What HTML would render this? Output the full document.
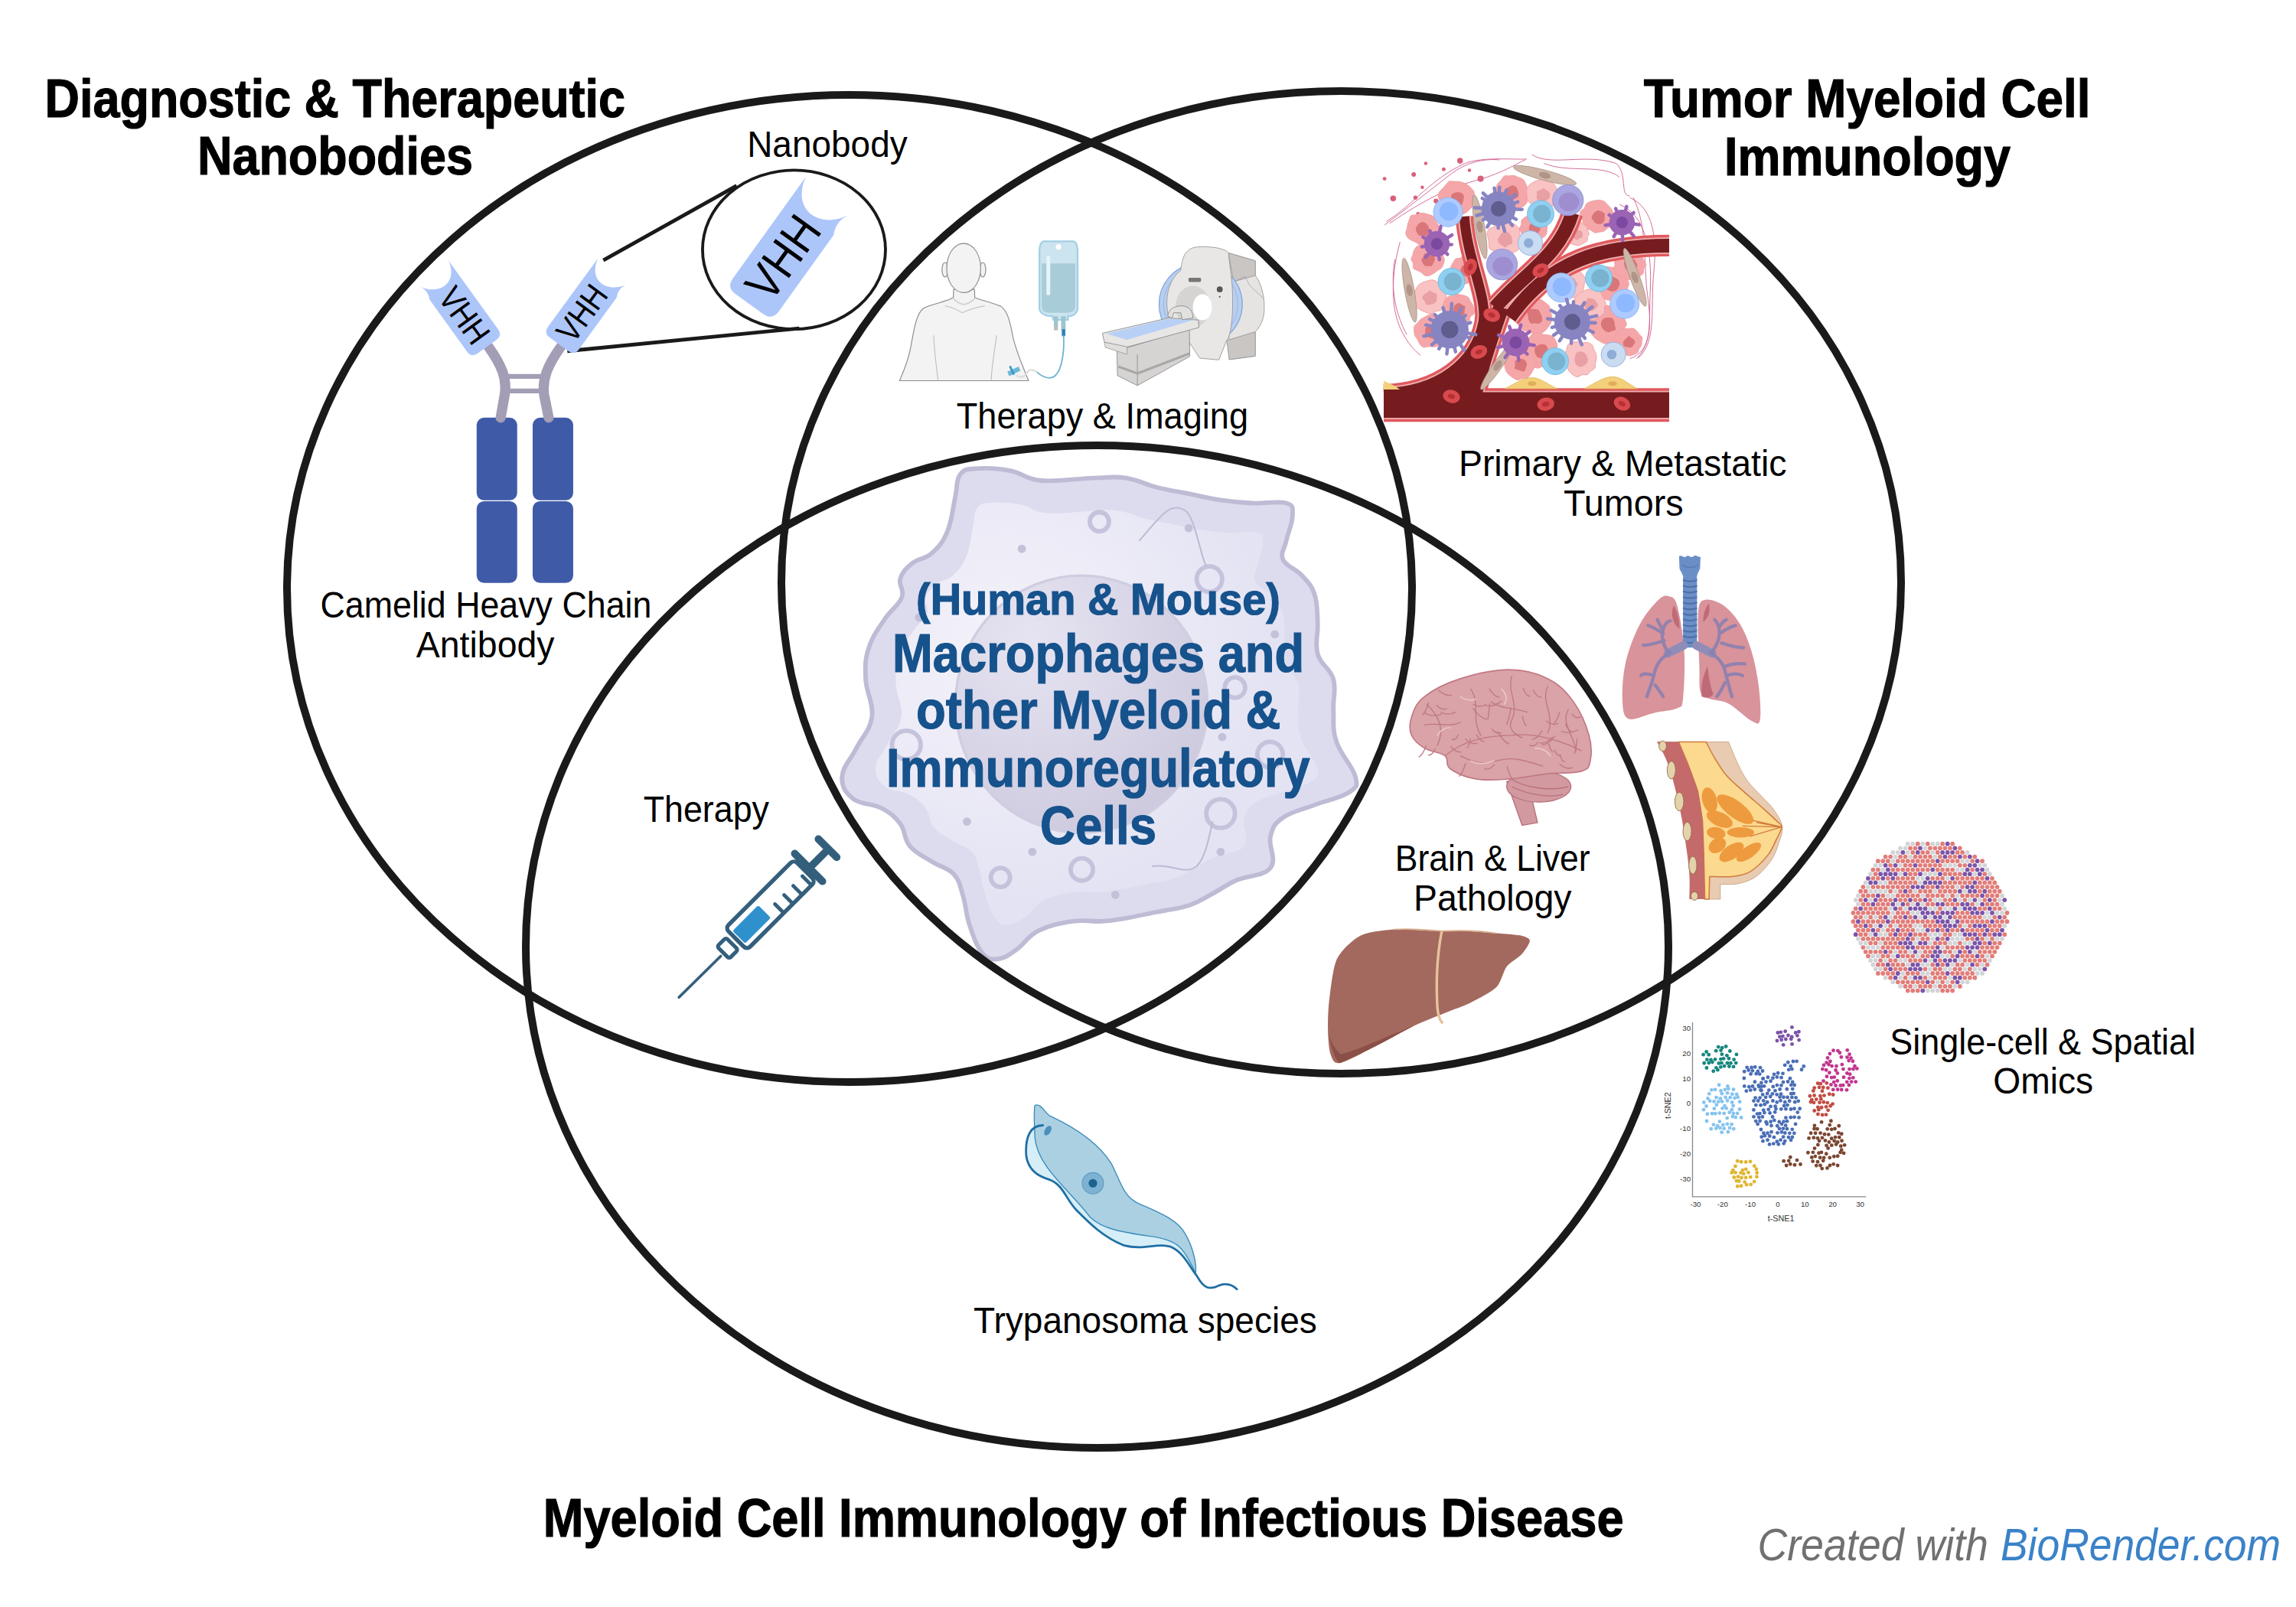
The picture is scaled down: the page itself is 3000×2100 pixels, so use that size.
<!DOCTYPE html>
<html><head><meta charset="utf-8">
<style>
html,body{margin:0;padding:0;background:#fff;width:3000px;height:2100px;overflow:hidden}
svg{position:absolute;left:0;top:0;display:block}
text{font-family:"Liberation Sans",sans-serif}
.b{font-weight:bold;stroke-width:1.2px}
</style></head>
<body>
<svg width="3000" height="2100" viewBox="0 0 3000 2100">
<rect width="3000" height="2100" fill="#fff"/>

<!-- ILLUSTRATIONS -->
<g id="illus">
<!--ILLUS_START-->
<g transform="translate(1080,590) scale(0.41691)"><path d="M467.5,53.5 C499.0,50.9 534.9,52.5 575.7,60.0 C616.5,67.5 618.8,86.5 671.6,91.1 C724.4,95.7 786.2,84.6 839.5,83.0 C892.8,81.4 898.7,77.1 938.1,83.0 C977.5,88.9 997.3,102.8 1036.7,112.7 C1076.1,122.6 1095.6,124.5 1135.0,132.4 C1174.4,140.3 1194.2,146.2 1233.6,152.1 C1273.0,158.0 1290.8,159.9 1332.2,161.9 C1373.6,163.9 1415.0,154.0 1440.6,161.9 C1466.2,169.8 1460.3,177.5 1460.3,201.2 C1460.3,224.9 1446.5,252.6 1440.6,280.2 C1434.7,307.8 1421.0,317.7 1430.8,339.4 C1440.6,361.1 1470.1,367.0 1489.8,388.6 C1509.5,410.2 1519.4,418.1 1529.3,447.6 C1539.2,477.1 1537.2,498.8 1539.2,536.3 C1541.2,573.8 1529.4,599.4 1539.2,634.9 C1549.0,670.4 1578.6,678.3 1588.4,713.8 C1598.2,749.3 1586.4,772.8 1588.4,812.2 C1590.4,851.6 1584.4,869.3 1598.2,910.7 C1612.0,952.1 1649.5,987.7 1657.4,1019.2 C1665.3,1050.7 1663.1,1050.6 1637.5,1068.3 C1611.9,1086.0 1570.6,1092.1 1529.3,1107.9 C1488.0,1123.7 1458.4,1127.6 1430.8,1147.3 C1403.2,1167.0 1399.1,1175.0 1391.2,1206.5 C1383.3,1238.0 1412.8,1277.2 1391.2,1304.8 C1369.6,1332.4 1318.5,1328.6 1283.0,1344.4 C1247.5,1360.2 1243.5,1368.1 1213.9,1383.8 C1184.3,1399.5 1170.4,1411.3 1135.0,1423.1 C1099.6,1434.9 1076.1,1435.1 1036.7,1443.0 C997.3,1450.9 972.7,1456.8 938.1,1462.7 C903.5,1468.6 896.6,1470.5 863.5,1472.5 C830.4,1474.5 812.6,1466.6 772.8,1472.5 C733.0,1478.4 699.8,1484.3 664.4,1502.0 C629.0,1519.7 621.2,1543.2 595.6,1561.0 C570.0,1578.8 558.0,1588.8 536.3,1590.8 C514.6,1592.8 504.9,1592.8 487.2,1571.1 C469.5,1549.4 459.5,1517.8 447.6,1482.3 C435.7,1446.8 437.7,1425.2 427.9,1393.6 C418.1,1362.0 418.1,1346.2 398.4,1324.5 C378.7,1302.8 356.9,1302.9 329.3,1285.2 C301.7,1267.5 280.2,1259.7 260.5,1236.0 C240.8,1212.3 248.8,1190.6 231.0,1166.9 C213.2,1143.2 201.3,1133.4 171.7,1117.7 C142.1,1102.0 107.6,1107.9 83.0,1088.2 C58.4,1068.5 46.7,1050.8 48.7,1019.2 C50.7,987.6 74.4,967.8 93.1,930.4 C111.8,893.0 136.3,875.4 142.2,832.1 C148.1,788.8 124.6,757.2 122.6,713.8 C120.6,670.4 120.6,652.7 132.4,615.2 C144.2,577.7 160.9,558.0 181.6,526.5 C202.3,495.0 225.9,483.3 235.8,457.7 C245.7,432.1 224.1,420.1 231.0,398.4 C237.9,376.7 250.6,365.0 270.3,349.2 C290.0,333.4 307.6,339.2 329.3,319.5 C351.0,299.8 363.9,286.2 378.7,250.7 C393.5,215.2 395.5,177.7 403.4,142.2 C411.3,106.7 405.3,90.9 418.1,73.2 C430.9,55.5 436.0,56.1 467.5,53.5Z" fill="#dddcef" stroke="#bebbd5" stroke-width="14"/><path d="M514.0,160.8 C541.2,158.5 572.0,159.9 607.1,166.4 C642.2,172.9 644.2,189.2 689.6,193.1 C734.9,197.1 788.1,187.6 834.0,186.2 C879.8,184.8 884.8,181.1 918.8,186.2 C952.7,191.3 969.7,203.2 1003.6,211.7 C1037.4,220.2 1054.2,221.9 1088.1,228.7 C1122.0,235.4 1139.0,240.5 1172.9,245.6 C1206.8,250.7 1222.1,252.3 1257.7,254.0 C1293.3,255.7 1328.9,247.3 1350.9,254.0 C1372.9,260.8 1367.9,267.5 1367.9,287.8 C1367.9,308.2 1356.0,332.0 1350.9,355.8 C1345.8,379.5 1334.0,388.0 1342.5,406.7 C1351.0,425.3 1376.3,430.4 1393.2,449.0 C1410.2,467.6 1418.7,474.3 1427.2,499.7 C1435.7,525.1 1434.0,543.8 1435.7,576.0 C1437.4,608.2 1427.2,630.3 1435.7,660.8 C1444.2,691.3 1469.6,698.2 1478.0,728.7 C1486.5,759.2 1476.3,779.4 1478.0,813.3 C1479.7,847.2 1474.6,862.4 1486.5,898.0 C1498.3,933.6 1530.6,964.2 1537.4,991.3 C1544.1,1018.4 1542.3,1018.3 1520.2,1033.5 C1498.2,1048.8 1462.8,1054.0 1427.2,1067.6 C1391.6,1081.2 1366.2,1084.5 1342.5,1101.5 C1318.7,1118.4 1315.2,1125.3 1308.4,1152.4 C1301.6,1179.5 1327.0,1213.2 1308.4,1236.9 C1289.8,1260.6 1245.9,1257.4 1215.4,1271.0 C1184.9,1284.6 1181.4,1291.3 1156.0,1304.9 C1130.5,1318.4 1118.6,1328.5 1088.1,1338.7 C1057.6,1348.8 1037.4,1349.0 1003.6,1355.8 C969.7,1362.6 948.6,1367.6 918.8,1372.7 C889.0,1377.8 883.0,1379.5 854.6,1381.2 C826.2,1382.8 810.9,1376.1 776.6,1381.2 C742.4,1386.2 713.9,1391.3 683.4,1406.5 C652.9,1421.7 646.2,1442.0 624.2,1457.3 C602.2,1472.5 591.9,1481.2 573.2,1482.9 C554.6,1484.6 546.2,1484.6 531.0,1465.9 C515.7,1447.3 507.1,1420.1 496.9,1389.6 C486.7,1359.0 488.5,1340.4 480.0,1313.3 C471.5,1286.2 471.6,1272.5 454.6,1253.9 C437.7,1235.2 418.9,1235.3 395.2,1220.1 C371.5,1204.9 352.9,1198.1 336.0,1177.8 C319.1,1157.4 325.9,1138.7 310.7,1118.3 C295.4,1098.0 285.1,1089.6 259.7,1076.0 C234.2,1062.5 204.5,1067.6 183.4,1050.7 C162.2,1033.7 152.1,1018.5 153.9,991.3 C155.6,964.2 176.0,947.1 192.1,914.9 C208.1,882.8 229.2,867.7 234.3,830.4 C239.4,793.2 219.1,766.0 217.4,728.7 C215.8,691.4 215.7,676.1 225.9,643.9 C236.0,611.7 250.4,594.7 268.2,567.6 C286.0,540.5 306.3,530.5 314.8,508.4 C323.3,486.4 304.7,476.1 310.7,457.4 C316.6,438.8 327.6,428.7 344.5,415.1 C361.4,401.5 376.6,406.5 395.2,389.6 C413.8,372.6 424.9,360.9 437.7,330.4 C450.4,299.9 452.1,267.6 458.9,237.1 C465.7,206.6 460.5,193.0 471.6,177.8 C482.6,162.5 486.9,163.1 514.0,160.8Z" fill="#e4e3f3"/><defs><radialGradient id="nuc" cx="0.3" cy="0.25" r="0.85"><stop offset="0" stop-color="#e6e4f1"/><stop offset="0.55" stop-color="#d8d5e7"/><stop offset="1" stop-color="#ccc9de"/></radialGradient><radialGradient id="cellhl" cx="0.3" cy="0.35" r="0.6"><stop offset="0" stop-color="#f4f3fa"/><stop offset="1" stop-color="#f4f3fa" stop-opacity="0"/></radialGradient></defs><path d="M514.0,160.8 C541.2,158.5 572.0,159.9 607.1,166.4 C642.2,172.9 644.2,189.2 689.6,193.1 C734.9,197.1 788.1,187.6 834.0,186.2 C879.8,184.8 884.8,181.1 918.8,186.2 C952.7,191.3 969.7,203.2 1003.6,211.7 C1037.4,220.2 1054.2,221.9 1088.1,228.7 C1122.0,235.4 1139.0,240.5 1172.9,245.6 C1206.8,250.7 1222.1,252.3 1257.7,254.0 C1293.3,255.7 1328.9,247.3 1350.9,254.0 C1372.9,260.8 1367.9,267.5 1367.9,287.8 C1367.9,308.2 1356.0,332.0 1350.9,355.8 C1345.8,379.5 1334.0,388.0 1342.5,406.7 C1351.0,425.3 1376.3,430.4 1393.2,449.0 C1410.2,467.6 1418.7,474.3 1427.2,499.7 C1435.7,525.1 1434.0,543.8 1435.7,576.0 C1437.4,608.2 1427.2,630.3 1435.7,660.8 C1444.2,691.3 1469.6,698.2 1478.0,728.7 C1486.5,759.2 1476.3,779.4 1478.0,813.3 C1479.7,847.2 1474.6,862.4 1486.5,898.0 C1498.3,933.6 1530.6,964.2 1537.4,991.3 C1544.1,1018.4 1542.3,1018.3 1520.2,1033.5 C1498.2,1048.8 1462.8,1054.0 1427.2,1067.6 C1391.6,1081.2 1366.2,1084.5 1342.5,1101.5 C1318.7,1118.4 1315.2,1125.3 1308.4,1152.4 C1301.6,1179.5 1327.0,1213.2 1308.4,1236.9 C1289.8,1260.6 1245.9,1257.4 1215.4,1271.0 C1184.9,1284.6 1181.4,1291.3 1156.0,1304.9 C1130.5,1318.4 1118.6,1328.5 1088.1,1338.7 C1057.6,1348.8 1037.4,1349.0 1003.6,1355.8 C969.7,1362.6 948.6,1367.6 918.8,1372.7 C889.0,1377.8 883.0,1379.5 854.6,1381.2 C826.2,1382.8 810.9,1376.1 776.6,1381.2 C742.4,1386.2 713.9,1391.3 683.4,1406.5 C652.9,1421.7 646.2,1442.0 624.2,1457.3 C602.2,1472.5 591.9,1481.2 573.2,1482.9 C554.6,1484.6 546.2,1484.6 531.0,1465.9 C515.7,1447.3 507.1,1420.1 496.9,1389.6 C486.7,1359.0 488.5,1340.4 480.0,1313.3 C471.5,1286.2 471.6,1272.5 454.6,1253.9 C437.7,1235.2 418.9,1235.3 395.2,1220.1 C371.5,1204.9 352.9,1198.1 336.0,1177.8 C319.1,1157.4 325.9,1138.7 310.7,1118.3 C295.4,1098.0 285.1,1089.6 259.7,1076.0 C234.2,1062.5 204.5,1067.6 183.4,1050.7 C162.2,1033.7 152.1,1018.5 153.9,991.3 C155.6,964.2 176.0,947.1 192.1,914.9 C208.1,882.8 229.2,867.7 234.3,830.4 C239.4,793.2 219.1,766.0 217.4,728.7 C215.8,691.4 215.7,676.1 225.9,643.9 C236.0,611.7 250.4,594.7 268.2,567.6 C286.0,540.5 306.3,530.5 314.8,508.4 C323.3,486.4 304.7,476.1 310.7,457.4 C316.6,438.8 327.6,428.7 344.5,415.1 C361.4,401.5 376.6,406.5 395.2,389.6 C413.8,372.6 424.9,360.9 437.7,330.4 C450.4,299.9 452.1,267.6 458.9,237.1 C465.7,206.6 460.5,193.0 471.6,177.8 C482.6,162.5 486.9,163.1 514.0,160.8Z" fill="url(#cellhl)"/><ellipse cx="799" cy="792" rx="395" ry="403" fill="url(#nuc)" stroke="#cfcde0" stroke-width="8"/><circle cx="855" cy="220" r="30" fill="none" stroke="#c5c3dc" stroke-width="14"/><circle cx="1200" cy="400" r="40" fill="none" stroke="#c5c3dc" stroke-width="14"/><circle cx="1280" cy="740" r="32" fill="none" stroke="#c5c3dc" stroke-width="14"/><circle cx="250" cy="920" r="45" fill="none" stroke="#c5c3dc" stroke-width="14"/><circle cx="1390" cy="950" r="40" fill="none" stroke="#c5c3dc" stroke-width="14"/><circle cx="1235" cy="1135" r="45" fill="none" stroke="#c5c3dc" stroke-width="14"/><circle cx="800" cy="1310" r="35" fill="none" stroke="#c5c3dc" stroke-width="14"/><circle cx="545" cy="1335" r="30" fill="none" stroke="#c5c3dc" stroke-width="14"/><circle cx="612" cy="305" r="13" fill="#c3c1d9"/><circle cx="1135" cy="240" r="13" fill="#c3c1d9"/><circle cx="1405" cy="573" r="13" fill="#c3c1d9"/><circle cx="1240" cy="895" r="13" fill="#c3c1d9"/><circle cx="440" cy="1160" r="13" fill="#c3c1d9"/><circle cx="645" cy="1255" r="13" fill="#c3c1d9"/><circle cx="905" cy="1390" r="13" fill="#c3c1d9"/><circle cx="1235" cy="1255" r="13" fill="#c3c1d9"/><circle cx="290" cy="520" r="13" fill="#c3c1d9"/><path d="M980,280 C1050,200 1080,150 1130,190 C1160,230 1170,320 1190,360" fill="none" stroke="#bebbd4" stroke-width="5"/><path d="M1020,1300 C1080,1290 1120,1330 1160,1300 C1190,1270 1200,1200 1210,1160" fill="none" stroke="#bebbd4" stroke-width="5"/></g>
<g transform="translate(520,220) scale(0.34847)"><rect x="295" y="935" width="152" height="310" rx="28" fill="#3f5ba8"/><rect x="295" y="1248" width="152" height="307" rx="28" fill="#3f5ba8"/><rect x="505" y="935" width="152" height="310" rx="28" fill="#3f5ba8"/><rect x="505" y="1248" width="152" height="307" rx="28" fill="#3f5ba8"/><path d="M340,670 C390,740 410,790 400,850 L385,935" fill="none" stroke="#a39db5" stroke-width="38" stroke-linecap="round"/><path d="M610,670 C560,740 540,790 548,850 L565,935" fill="none" stroke="#a39db5" stroke-width="38" stroke-linecap="round"/><path d="M400,780 L545,780 M400,835 L545,835" stroke="#a39db5" stroke-width="18"/><path d="M770,345 L1270,65 M635,685 L1505,600" stroke="#1a1a1a" stroke-width="14"/><ellipse cx="1485" cy="305" rx="343" ry="298" fill="none" stroke="#1a1a1a" stroke-width="11"/></g>
<g transform="translate(601,404) rotate(-35.8)"><path transform="scale(-1,1)" d="M-25.0,-60.5 C-18.8,-29.5 11.2,-29.5 25.0,-54.5 C20.0,-45.5 22.5,-38.0 25.0,-33.0 L25.0,50.5 Q25.0,60.5 15.0,60.5 L-15.0,60.5 Q-25.0,60.5 -25.0,50.5 Z" fill="#adc6fa"/><text transform="translate(0,10) rotate(90)" x="0" y="15.4" font-size="44" text-anchor="middle" textLength="80" lengthAdjust="spacingAndGlyphs" fill="#000">VHH</text></g><g transform="translate(766,401) rotate(36.1)"><path transform="scale(1,1)" d="M-25.0,-60.5 C-18.8,-29.5 11.2,-29.5 25.0,-54.5 C20.0,-45.5 22.5,-38.0 25.0,-33.0 L25.0,50.5 Q25.0,60.5 15.0,60.5 L-15.0,60.5 Q-25.0,60.5 -25.0,50.5 Z" fill="#adc6fa"/><text transform="translate(0,10) rotate(-90)" x="0" y="15.4" font-size="44" text-anchor="middle" textLength="80" lengthAdjust="spacingAndGlyphs" fill="#000">VHH</text></g><g transform="translate(1031,325) rotate(35.7)"><path transform="scale(1,1)" d="M-37.0,-89.0 C-27.8,-43.1 16.7,-43.1 37.0,-80.1 C29.6,-66.8 33.3,-55.7 37.0,-48.3 L37.0,74.2 Q37.0,89.0 22.2,89.0 L-22.2,89.0 Q-37.0,89.0 -37.0,74.2 Z" fill="#adc6fa"/><text transform="translate(0,14) rotate(-90)" x="0" y="22.4" font-size="64" text-anchor="middle" textLength="118" lengthAdjust="spacingAndGlyphs" fill="#000">VHH</text></g><g transform="translate(1160,300) scale(0.22648)"><path d="M380,345 L378,392 C340,418 250,428 205,455 C160,490 150,590 130,690 C112,775 85,830 68,872 L812,872 C785,800 745,720 722,620 C705,525 690,470 652,442 C600,420 530,405 502,393 L500,345 Z" fill="#f3f3f3" stroke="#8a8a8a" stroke-width="5"/><ellipse cx="330" cy="232" rx="17" ry="42" fill="#f3f3f3" stroke="#8a8a8a" stroke-width="5"/><ellipse cx="548" cy="232" rx="17" ry="42" fill="#f3f3f3" stroke="#8a8a8a" stroke-width="5"/><ellipse cx="438" cy="222" rx="98" ry="142" fill="#f3f3f3" stroke="#8a8a8a" stroke-width="5"/><path d="M265,610 C268,700 282,800 290,872 M628,610 C615,700 600,800 596,872 M330,440 C380,450 410,470 430,480 C450,470 500,450 560,440" fill="none" stroke="#b0b0b0" stroke-width="4"/><path d="M380,400 C400,420 420,430 438,432 C460,430 480,418 500,400" fill="none" stroke="#d0d0d0" stroke-width="8"/><path d="M900,68 L1070,68 C1090,70 1095,95 1095,130 L1095,440 C1100,470 1080,500 1040,500 L1040,520 L955,520 L950,500 C890,500 870,470 875,440 L875,130 C875,95 880,70 900,68 Z" fill="#cbe4ef" stroke="#a4cfe3" stroke-width="10"/><path d="M888,195 L1082,195 L1082,440 C1082,470 1060,480 1030,480 L940,480 C905,480 888,470 888,440 Z" fill="#a8cdd8"/><rect x="915" y="150" width="22" height="230" rx="11" fill="#e6f3f8"/><circle cx="985" cy="100" r="16" fill="#fff"/><rect x="958" y="500" width="24" height="80" fill="#9ec5d0"/><rect x="1000" y="500" width="26" height="80" fill="#9ec5d0"/><rect x="958" y="555" width="22" height="25" fill="#bdbdbd"/><rect x="1004" y="575" width="20" height="40" fill="#2a82b8"/><path d="M1014,610 C1020,700 1005,845 940,855 C905,860 880,840 860,822" fill="none" stroke="#6fb4d0" stroke-width="8"/><path d="M860,822 C830,800 810,810 800,830 C790,850 760,860 740,840" fill="none" stroke="#ddd" stroke-width="10"/><path d="M690,820 L755,790 L765,815 L700,845 Z" fill="#6ab8d8"/><rect x="710" y="785" width="12" height="55" fill="#3e98c8" transform="rotate(-25 716 812)"/><path d="M1965,135 L2120,180 L2120,265 C2150,300 2175,380 2172,460 C2170,520 2150,560 2120,590 L2120,730 L1970,750 Z" fill="#e6e4e3" stroke="#9a9898" stroke-width="4"/><path d="M1965,135 L2120,180 L2120,265 L1995,300 Z" fill="#c9c6c4" stroke="#9a9898" stroke-width="4"/><path d="M1955,640 L2120,590 L2120,730 L1970,750 Z" fill="#c9c6c4" stroke="#9a9898" stroke-width="4"/><path d="M2000,300 L2060,270 L2090,325 L2170,400" fill="none" stroke="#9a9898" stroke-width="3"/><ellipse cx="1805" cy="430" rx="240" ry="237" fill="#b9cff0" stroke="#86a8dc" stroke-width="6"/><ellipse cx="1805" cy="430" rx="215" ry="212" fill="none" stroke="#86a8dc" stroke-width="3"/><path d="M1690,235 C1700,150 1720,105 1790,100 C1870,95 1950,110 1965,135 L1985,300 C1995,420 1990,600 1955,640 L1910,752 L1800,742 L1740,652 C1650,625 1610,520 1610,420 C1610,330 1650,265 1690,235 Z" fill="#e9e7e6" stroke="#9a9898" stroke-width="4"/><ellipse cx="1760" cy="445" rx="100" ry="120" fill="#d6d4d3"/><ellipse cx="1815" cy="448" rx="55" ry="75" fill="#fff"/><rect x="1735" y="278" width="72" height="24" rx="6" fill="#777"/><circle cx="1915" cy="345" r="17" fill="#555"/><circle cx="1915" cy="388" r="5" fill="#555"/><path d="M1322,700 L1740,572 L1742,732 L1440,900 L1325,842 Z" fill="#d6d4d3" stroke="#8c8c8c" stroke-width="4"/><path d="M1440,720 L1440,900" stroke="#8c8c8c" stroke-width="4"/><path d="M1330,790 L1440,830 L1740,715" fill="none" stroke="#a8a8a8" stroke-width="14"/><path d="M1238,598 L1620,510 L1792,522 L1795,565 L1380,678 L1250,650 Z" fill="#e8e6e5" stroke="#8c8c8c" stroke-width="4"/><path d="M1260,600 L1620,515 L1770,520 L1380,636 Z" fill="#b8d0f5"/><path d="M1250,650 L1380,676 L1380,720 L1255,680 Z" fill="#e0dedd" stroke="#8c8c8c" stroke-width="3"/><path d="M1615,500 C1620,460 1650,440 1700,440 C1740,445 1760,470 1760,510 L1700,520 L1690,480 L1650,480 L1640,512 Z" fill="#e3e1e0" stroke="#8c8c8c" stroke-width="4"/></g>
<g transform="translate(2100,700) scale(0.3048)"><path d="M265.0,260.0 C278.3,264.2 289.2,261.7 300.0,300.0 C310.8,338.3 325.8,423.3 330.0,490.0 C334.2,556.7 330.0,658.3 325.0,700.0 C320.0,741.7 320.8,730.0 300.0,740.0 C279.2,750.0 235.0,752.5 200.0,760.0 C165.0,767.5 112.5,795.0 90.0,785.0 C67.5,775.0 66.7,740.8 65.0,700.0 C63.3,659.2 67.5,593.3 80.0,540.0 C92.5,486.7 116.7,424.2 140.0,380.0 C163.3,335.8 199.2,295.0 220.0,275.0 C240.8,255.0 251.7,255.8 265.0,260.0Z" fill="#d9939b"/><path d="M420.0,275.0 C438.3,270.0 475.0,282.5 500.0,300.0 C525.0,317.5 550.0,346.7 570.0,380.0 C590.0,413.3 606.7,455.0 620.0,500.0 C633.3,545.0 644.2,601.7 650.0,650.0 C655.8,698.3 660.0,765.8 655.0,790.0 C650.0,814.2 642.5,806.7 620.0,795.0 C597.5,783.3 550.0,735.8 520.0,720.0 C490.0,704.2 460.0,708.3 440.0,700.0 C420.0,691.7 407.5,693.3 400.0,670.0 C392.5,646.7 396.7,616.7 395.0,560.0 C393.3,503.3 385.8,377.5 390.0,330.0 C394.2,282.5 401.7,280.0 420.0,275.0Z" fill="#d9939b"/><path d="M285,300 C300,320 310,360 310,400 C280,380 270,330 285,300 Z" fill="#c06a78"/><path d="M435,290 C420,310 410,340 412,370 C435,350 445,320 435,290 Z" fill="#c06a78"/><path d="M430,560 C410,600 400,650 405,690 C430,700 450,690 455,680 C440,640 435,600 430,560 Z" fill="#c06a78"/><path d="M308,88 C320,80 330,100 340,88 C350,80 360,100 370,88 C380,80 392,95 400,90 L398,140 C390,160 385,165 385,175 L325,175 C325,165 315,155 310,140 Z" fill="#6a8ec6"/><path d="M322,125 C340,140 370,140 390,125" fill="none" stroke="#5a7cb6" stroke-width="5"/><rect x="325" y="170" width="60" height="310" rx="12" fill="#6a8ec6"/><path d="M325,190 C340,198 370,198 385,190 M325,214 C340,222 370,222 385,214 M325,238 C340,246 370,246 385,238 M325,262 C340,270 370,270 385,262 M325,286 C340,294 370,294 385,286 M325,310 C340,318 370,318 385,310 M325,334 C340,342 370,342 385,334 M325,358 C340,366 370,366 385,358 M325,382 C340,390 370,390 385,382 M325,406 C340,414 370,414 385,406 M325,430 C340,438 370,438 385,430 M325,454 C340,462 370,462 385,454" fill="none" stroke="#4f6fa8" stroke-width="7"/><path d="M328,470 L260,505 M382,470 L450,505" stroke="#8f8db8" stroke-width="36" stroke-linecap="round"/><g fill="none" stroke="#8b80b0" stroke-width="14" stroke-linecap="round" opacity="0.9"><path d="M270,500 C240,520 210,540 200,600 C190,640 180,660 170,690 M200,600 C170,590 150,590 145,600 M205,640 C220,660 235,680 240,690 M265,505 C240,470 230,440 240,400 C245,380 255,370 270,365 M240,420 C210,400 190,390 175,385 M245,450 C210,460 180,470 155,470 M235,400 C225,380 220,370 215,360"/><path d="M440,500 C470,520 500,540 510,600 C520,640 525,660 535,690 M510,600 C540,590 565,590 580,600 M505,630 C490,660 480,680 470,690 M445,505 C470,470 485,440 480,400 C478,380 470,370 460,360 M482,420 C510,400 530,390 550,385 M490,460 C520,470 560,480 585,480 M478,395 C490,375 500,365 510,360 M505,560 C530,550 560,545 590,550"/></g><path d="M214.4,884.4 L520.7,884.4 C527.5,900.6 548.0,953.3 561.6,981.4 C575.2,1009.5 585.4,1029.9 602.4,1052.9 C619.4,1075.9 645.0,1098.8 663.7,1119.2 C682.4,1139.6 700.2,1154.1 714.7,1175.4 C729.2,1196.7 747.1,1223.1 750.5,1246.9 C753.9,1270.7 742.8,1294.5 735.1,1318.3 C727.4,1342.1 720.7,1366.0 704.5,1389.8 C688.3,1413.6 661.9,1444.3 638.1,1461.3 C614.3,1478.3 587.1,1486.4 561.6,1491.9 C536.1,1497.4 497.8,1494.0 485.0,1494.4 L485,1558.3 L418.6,1558.3 L306.3,884.4 Z" fill="#e8cbb0" stroke="#c9a585" stroke-width="3"/><path d="M306.3,884.4 L423.7,884.4 C429.7,895.5 445.0,927.0 459.5,950.8 C474.0,974.6 489.2,1002.6 510.5,1027.3 C531.8,1052.0 561.5,1075.8 587.0,1098.8 C612.5,1121.8 639.9,1143.9 663.7,1165.2 C687.5,1186.5 716.0,1212.4 730.0,1226.4 C744.0,1240.4 748.8,1236.6 748.0,1249.4 C747.2,1262.2 734.8,1283.0 725.0,1303.0 C715.2,1323.0 707.7,1346.4 689.0,1369.4 C670.3,1392.4 638.1,1425.5 612.6,1440.8 C587.1,1456.1 564.9,1457.9 536.0,1461.3 C507.1,1464.7 455.2,1461.3 439.0,1461.3 L436.5,1558.3 L418.6,1558.3 L413.5,1349 L408.4,1221.3 L388,1093.7 L347,981.4 Z" fill="#fbd98e" stroke="#d07a3a" stroke-width="5"/><path d="M214.4,884.4 C221.2,898.0 243.4,936.2 255.3,966.0 C267.2,995.8 275.7,1024.7 285.9,1063.0 C296.1,1101.3 308.0,1152.4 316.5,1195.8 C325.0,1239.2 331.1,1280.9 337.0,1323.4 C342.9,1365.9 349.7,1411.8 352.2,1451.0 C354.7,1490.2 352.2,1540.4 352.2,1558.3 L418.6,1558.3 C417.8,1523.4 415.2,1405.2 413.5,1349.0 C411.8,1292.8 412.6,1263.8 408.4,1221.3 C404.1,1178.8 398.2,1133.7 388.0,1093.7 C377.8,1053.7 360.6,1016.3 347.0,981.4 C333.4,946.5 313.1,900.6 306.3,884.4 Z" fill="#c46a6a"/><path d="M580,1245 L748,1249 M600,1215 L748,1249 M610,1290 L748,1249 M640,1230 L748,1249" stroke="#d07a3a" stroke-width="4"/><g fill="#ee9a3e"><ellipse cx="439" cy="1134" rx="31" ry="56" transform="rotate(-15 439 1134)"/><ellipse cx="549" cy="1173" rx="94" ry="36" transform="rotate(37 549 1173)"/><ellipse cx="482" cy="1216" rx="60" ry="30" transform="rotate(25 482 1216)"/><ellipse cx="467" cy="1275" rx="40" ry="25" transform="rotate(10 467 1275)"/><ellipse cx="572" cy="1272" rx="58" ry="22" transform="rotate(0 572 1272)"/><ellipse cx="472" cy="1328" rx="40" ry="30" transform="rotate(-35 472 1328)"/><ellipse cx="533" cy="1357" rx="60" ry="30" transform="rotate(-35 533 1357)"/><ellipse cx="607" cy="1357" rx="62" ry="25" transform="rotate(-35 607 1357)"/></g><ellipse cx="238" cy="902" rx="16" ry="22" fill="#e3d3aa" stroke="#9a6a50" stroke-width="3"/><ellipse cx="275" cy="1005" rx="18" ry="38" fill="#e3d3aa" stroke="#9a6a50" stroke-width="3"/><ellipse cx="309" cy="1140" rx="19" ry="40" fill="#e3d3aa" stroke="#9a6a50" stroke-width="3"/><ellipse cx="343" cy="1268" rx="18" ry="40" fill="#e3d3aa" stroke="#9a6a50" stroke-width="3"/><ellipse cx="367" cy="1413" rx="17" ry="38" fill="#e3d3aa" stroke="#9a6a50" stroke-width="3"/><ellipse cx="374" cy="1545" rx="15" ry="18" fill="#e3d3aa" stroke="#9a6a50" stroke-width="3"/></g>
<g transform="translate(1720,860) scale(0.336)"><path d="M740,480 L800,650 L860,640 L820,470 Z" fill="#d29aa0" stroke="#b8707a" stroke-width="4"/><ellipse cx="865" cy="500" rx="125" ry="60" fill="#d29aa0" stroke="#b8707a" stroke-width="4"/><path d="M760,470 C800,500 900,520 980,500 M760,500 C820,530 900,545 960,530" fill="none" stroke="#b8707a" stroke-width="4"/><path d="M370.0,230.0 C379.2,202.5 385.2,177.5 420.0,150.0 C454.8,122.5 499.5,99.2 560.0,80.0 C620.5,60.8 687.7,45.0 750.0,45.0 C812.3,45.0 854.2,57.1 900.0,80.0 C945.8,102.9 970.7,129.7 1000.0,170.0 C1029.3,210.3 1048.1,257.8 1060.0,300.0 C1071.9,342.2 1070.5,374.3 1065.0,400.0 C1059.5,425.7 1060.2,430.8 1030.0,440.0 C999.8,449.2 951.3,444.5 900.0,450.0 C848.7,455.5 801.3,466.3 750.0,470.0 C698.7,473.7 662.2,477.3 620.0,470.0 C577.8,462.7 542.0,446.5 520.0,430.0 C498.0,413.5 518.3,394.7 500.0,380.0 C481.7,365.3 443.8,364.7 420.0,350.0 C396.2,335.3 379.2,322.0 370.0,300.0 C360.8,278.0 360.8,257.5 370.0,230.0Z" fill="#d9a3a8" stroke="#c07883" stroke-width="5"/><g fill="none" stroke="#c07883" stroke-width="4" stroke-linecap="round"><path d="M500,380 C560,330 650,300 760,300 C850,290 950,320 1030,360"/><path d="M430,180 C480,230 500,280 470,340"/><path d="M600,120 C640,180 600,240 640,300"/><path d="M760,70 C740,130 790,180 760,240 C740,280 780,300 800,310"/><path d="M900,110 C870,170 930,220 900,290"/><path d="M980,200 C950,250 1000,300 1010,360"/><path d="M560,380 C600,400 640,420 700,400 C760,380 820,400 880,420"/><path d="M420,260 C470,250 520,270 560,250"/><path d="M680,170 C720,200 760,190 820,210"/><path d="M804,118 q13,30 25,30"/><path d="M862,327 q-16,21 -32,11"/><path d="M673,120 q19,31 39,32"/><path d="M436,174 q-12,38 -23,46"/><path d="M552,299 q-12,24 -25,17"/><path d="M903,333 q9,31 17,32"/><path d="M994,218 q16,20 32,10"/><path d="M928,303 q-24,32 -49,34"/><path d="M742,421 q10,39 19,48"/><path d="M918,308 q-24,26 -48,22"/><path d="M843,125 q16,29 31,27"/><path d="M468,184 q20,21 39,13"/><path d="M801,227 q8,33 15,35"/><path d="M580,410 q-12,39 -24,49"/><path d="M523,343 q20,26 39,22"/><path d="M1014,315 q-5,43 -10,56"/><path d="M926,358 q12,25 24,21"/><path d="M609,196 q27,36 53,42"/><path d="M946,211 q-11,35 -21,40"/><path d="M969,257 q13,30 27,29"/><path d="M757,194 q-9,47 -17,64"/><path d="M660,180 q-25,15 -50,0"/><path d="M475,125 q26,24 52,19"/><path d="M895,245 q22,19 44,9"/><path d="M1018,279 q-32,18 -64,6"/><path d="M427,341 q-14,37 -28,43"/><path d="M580,315 q22,23 45,16"/><path d="M692,415 q-19,23 -37,15"/><path d="M720,167 q-31,24 -62,18"/><path d="M599,314 q-6,32 -12,34"/><path d="M878,283 q-20,31 -39,33"/><path d="M420,214 q34,17 67,4"/><path d="M947,376 q9,28 18,27"/><path d="M947,413 q24,22 48,13"/><path d="M462,353 q-13,27 -26,24"/><path d="M705,286 q22,39 44,48"/><path d="M674,178 q-4,44 -7,59"/><path d="M541,210 q-28,15 -56,1"/><path d="M683,276 q18,22 36,14"/><path d="M623,298 q15,28 29,26"/></g><g fill="none" stroke="#f0d0d3" stroke-width="5" stroke-linecap="round" opacity="0.8"><path d="M560,150 q30,20 60,10"/><path d="M720,120 q30,30 10,60"/><path d="M600,400 q40,20 90,0"/><path d="M850,350 q40,0 60,30"/><path d="M470,300 q20,-30 50,-30"/></g><path d="M50.0,1330.0 C54.7,1292.7 64.0,1203.3 80.0,1170.0 C96.0,1136.7 140.7,1095.3 170.0,1080.0 C199.3,1064.7 264.0,1057.7 300.0,1055.0 C336.0,1052.3 405.3,1059.3 440.0,1060.0 C474.7,1060.7 525.3,1058.7 560.0,1060.0 C594.7,1061.3 668.0,1067.3 700.0,1070.0 C732.0,1072.7 782.7,1076.0 800.0,1080.0 C817.3,1084.0 830.0,1090.7 830.0,1100.0 C830.0,1109.3 812.0,1136.7 800.0,1150.0 C788.0,1163.3 753.3,1182.7 740.0,1200.0 C726.7,1217.3 718.7,1261.3 700.0,1280.0 C681.3,1298.7 626.7,1326.7 600.0,1340.0 C573.3,1353.3 529.3,1368.0 500.0,1380.0 C470.7,1392.0 416.0,1412.7 380.0,1430.0 C344.0,1447.3 268.7,1490.7 230.0,1510.0 C191.3,1529.3 113.3,1571.0 90.0,1575.0 C66.7,1579.0 61.0,1556.7 55.0,1540.0 C49.0,1523.3 45.7,1478.0 45.0,1450.0 C44.3,1422.0 45.3,1367.3 50.0,1330.0Z" fill="#a4695e"/><path d="M45,1450 C60,1520 70,1560 90,1575 C200,1530 300,1470 380,1430 C250,1480 150,1530 95,1540 C70,1520 55,1490 45,1450 Z" fill="#8a4f46"/><path d="M488,1060 C470,1150 465,1250 470,1350 C472,1390 480,1410 492,1420" fill="none" stroke="#e6c39c" stroke-width="10"/><path d="M300,1055 C400,1050 450,1060 488,1062 C530,1060 600,1055 700,1070" fill="none" stroke="#d8b090" stroke-width="5"/></g>
<g transform="translate(2150,1080) scale(0.336)"><circle cx="1020.1" cy="67.4" r="8.6" fill="#d2d4d8"/><circle cx="1039.5" cy="67.4" r="8.6" fill="#d2d4d8"/><circle cx="1058.8" cy="67.4" r="8.6" fill="#e27d79"/><circle cx="1078.1" cy="67.4" r="8.6" fill="#d2d4d8"/><circle cx="1097.4" cy="67.4" r="8.6" fill="#e27d79"/><circle cx="1116.7" cy="67.4" r="8.6" fill="#d2d4d8"/><circle cx="1136.0" cy="67.4" r="8.6" fill="#d2d4d8"/><circle cx="1155.2" cy="67.4" r="8.6" fill="#e27d79"/><circle cx="1174.6" cy="67.4" r="8.6" fill="#7b54a8"/><circle cx="1193.9" cy="67.4" r="8.6" fill="#e27d79"/><circle cx="991.2" cy="84.2" r="8.6" fill="#d2d4d8"/><circle cx="1010.5" cy="84.2" r="8.6" fill="#d2d4d8"/><circle cx="1029.8" cy="84.2" r="8.6" fill="#e27d79"/><circle cx="1049.1" cy="84.2" r="8.6" fill="#e27d79"/><circle cx="1068.4" cy="84.2" r="8.6" fill="#7b54a8"/><circle cx="1087.7" cy="84.2" r="8.6" fill="#d2d4d8"/><circle cx="1107.0" cy="84.2" r="8.6" fill="#e27d79"/><circle cx="1126.3" cy="84.2" r="8.6" fill="#e27d79"/><circle cx="1145.6" cy="84.2" r="8.6" fill="#e27d79"/><circle cx="1164.9" cy="84.2" r="8.6" fill="#e27d79"/><circle cx="1184.2" cy="84.2" r="8.6" fill="#e27d79"/><circle cx="1203.5" cy="84.2" r="8.6" fill="#7b54a8"/><circle cx="1222.8" cy="84.2" r="8.6" fill="#e27d79"/><circle cx="962.2" cy="101.0" r="8.6" fill="#d2d4d8"/><circle cx="981.5" cy="101.0" r="8.6" fill="#d2d4d8"/><circle cx="1000.9" cy="101.0" r="8.6" fill="#7b54a8"/><circle cx="1020.1" cy="101.0" r="8.6" fill="#d2d4d8"/><circle cx="1039.5" cy="101.0" r="8.6" fill="#e27d79"/><circle cx="1058.8" cy="101.0" r="8.6" fill="#7b54a8"/><circle cx="1078.1" cy="101.0" r="8.6" fill="#e27d79"/><circle cx="1097.4" cy="101.0" r="8.6" fill="#e27d79"/><circle cx="1116.7" cy="101.0" r="8.6" fill="#d2d4d8"/><circle cx="1136.0" cy="101.0" r="8.6" fill="#e27d79"/><circle cx="1155.2" cy="101.0" r="8.6" fill="#7b54a8"/><circle cx="1174.6" cy="101.0" r="8.6" fill="#7b54a8"/><circle cx="1193.9" cy="101.0" r="8.6" fill="#7b54a8"/><circle cx="1213.2" cy="101.0" r="8.6" fill="#e27d79"/><circle cx="1232.5" cy="101.0" r="8.6" fill="#e27d79"/><circle cx="1251.8" cy="101.0" r="8.6" fill="#d2d4d8"/><circle cx="933.3" cy="117.8" r="8.6" fill="#e27d79"/><circle cx="952.6" cy="117.8" r="8.6" fill="#e27d79"/><circle cx="971.9" cy="117.8" r="8.6" fill="#d2d4d8"/><circle cx="991.2" cy="117.8" r="8.6" fill="#e27d79"/><circle cx="1010.5" cy="117.8" r="8.6" fill="#e27d79"/><circle cx="1029.8" cy="117.8" r="8.6" fill="#d2d4d8"/><circle cx="1049.1" cy="117.8" r="8.6" fill="#e27d79"/><circle cx="1068.4" cy="117.8" r="8.6" fill="#e27d79"/><circle cx="1087.7" cy="117.8" r="8.6" fill="#e27d79"/><circle cx="1107.0" cy="117.8" r="8.6" fill="#e27d79"/><circle cx="1126.3" cy="117.8" r="8.6" fill="#d2d4d8"/><circle cx="1145.6" cy="117.8" r="8.6" fill="#e27d79"/><circle cx="1164.9" cy="117.8" r="8.6" fill="#7b54a8"/><circle cx="1184.2" cy="117.8" r="8.6" fill="#e27d79"/><circle cx="1203.5" cy="117.8" r="8.6" fill="#e27d79"/><circle cx="1222.8" cy="117.8" r="8.6" fill="#7b54a8"/><circle cx="1242.1" cy="117.8" r="8.6" fill="#e27d79"/><circle cx="1261.4" cy="117.8" r="8.6" fill="#7b54a8"/><circle cx="1280.7" cy="117.8" r="8.6" fill="#e27d79"/><circle cx="904.4" cy="134.6" r="8.6" fill="#e27d79"/><circle cx="923.6" cy="134.6" r="8.6" fill="#e27d79"/><circle cx="942.9" cy="134.6" r="8.6" fill="#e27d79"/><circle cx="962.2" cy="134.6" r="8.6" fill="#d2d4d8"/><circle cx="981.5" cy="134.6" r="8.6" fill="#e27d79"/><circle cx="1000.9" cy="134.6" r="8.6" fill="#e27d79"/><circle cx="1020.1" cy="134.6" r="8.6" fill="#e27d79"/><circle cx="1039.5" cy="134.6" r="8.6" fill="#e27d79"/><circle cx="1058.8" cy="134.6" r="8.6" fill="#e27d79"/><circle cx="1078.1" cy="134.6" r="8.6" fill="#e27d79"/><circle cx="1097.4" cy="134.6" r="8.6" fill="#e27d79"/><circle cx="1116.7" cy="134.6" r="8.6" fill="#e27d79"/><circle cx="1136.0" cy="134.6" r="8.6" fill="#7b54a8"/><circle cx="1155.2" cy="134.6" r="8.6" fill="#e27d79"/><circle cx="1174.6" cy="134.6" r="8.6" fill="#e27d79"/><circle cx="1193.9" cy="134.6" r="8.6" fill="#e27d79"/><circle cx="1213.2" cy="134.6" r="8.6" fill="#e27d79"/><circle cx="1232.5" cy="134.6" r="8.6" fill="#d2d4d8"/><circle cx="1251.8" cy="134.6" r="8.6" fill="#d2d4d8"/><circle cx="1271.1" cy="134.6" r="8.6" fill="#e27d79"/><circle cx="1290.4" cy="134.6" r="8.6" fill="#7b54a8"/><circle cx="1309.7" cy="134.6" r="8.6" fill="#e27d79"/><circle cx="894.7" cy="151.4" r="8.6" fill="#d2d4d8"/><circle cx="914.0" cy="151.4" r="8.6" fill="#d2d4d8"/><circle cx="933.3" cy="151.4" r="8.6" fill="#7b54a8"/><circle cx="952.6" cy="151.4" r="8.6" fill="#e27d79"/><circle cx="971.9" cy="151.4" r="8.6" fill="#7b54a8"/><circle cx="991.2" cy="151.4" r="8.6" fill="#d2d4d8"/><circle cx="1010.5" cy="151.4" r="8.6" fill="#e27d79"/><circle cx="1029.8" cy="151.4" r="8.6" fill="#e27d79"/><circle cx="1049.1" cy="151.4" r="8.6" fill="#7b54a8"/><circle cx="1068.4" cy="151.4" r="8.6" fill="#e27d79"/><circle cx="1087.7" cy="151.4" r="8.6" fill="#e27d79"/><circle cx="1107.0" cy="151.4" r="8.6" fill="#e27d79"/><circle cx="1126.3" cy="151.4" r="8.6" fill="#e27d79"/><circle cx="1145.6" cy="151.4" r="8.6" fill="#e27d79"/><circle cx="1164.9" cy="151.4" r="8.6" fill="#d2d4d8"/><circle cx="1184.2" cy="151.4" r="8.6" fill="#d2d4d8"/><circle cx="1203.5" cy="151.4" r="8.6" fill="#d2d4d8"/><circle cx="1222.8" cy="151.4" r="8.6" fill="#e27d79"/><circle cx="1242.1" cy="151.4" r="8.6" fill="#e27d79"/><circle cx="1261.4" cy="151.4" r="8.6" fill="#7b54a8"/><circle cx="1280.7" cy="151.4" r="8.6" fill="#7b54a8"/><circle cx="1300.0" cy="151.4" r="8.6" fill="#d2d4d8"/><circle cx="1319.3" cy="151.4" r="8.6" fill="#d2d4d8"/><circle cx="885.0" cy="168.2" r="8.6" fill="#e27d79"/><circle cx="904.4" cy="168.2" r="8.6" fill="#e27d79"/><circle cx="923.6" cy="168.2" r="8.6" fill="#d2d4d8"/><circle cx="942.9" cy="168.2" r="8.6" fill="#7b54a8"/><circle cx="962.2" cy="168.2" r="8.6" fill="#e27d79"/><circle cx="981.5" cy="168.2" r="8.6" fill="#e27d79"/><circle cx="1000.9" cy="168.2" r="8.6" fill="#e27d79"/><circle cx="1020.1" cy="168.2" r="8.6" fill="#e27d79"/><circle cx="1039.5" cy="168.2" r="8.6" fill="#e27d79"/><circle cx="1058.8" cy="168.2" r="8.6" fill="#e27d79"/><circle cx="1078.1" cy="168.2" r="8.6" fill="#e27d79"/><circle cx="1097.4" cy="168.2" r="8.6" fill="#e27d79"/><circle cx="1116.7" cy="168.2" r="8.6" fill="#7b54a8"/><circle cx="1136.0" cy="168.2" r="8.6" fill="#e27d79"/><circle cx="1155.2" cy="168.2" r="8.6" fill="#e27d79"/><circle cx="1174.6" cy="168.2" r="8.6" fill="#e27d79"/><circle cx="1193.9" cy="168.2" r="8.6" fill="#e27d79"/><circle cx="1213.2" cy="168.2" r="8.6" fill="#d2d4d8"/><circle cx="1232.5" cy="168.2" r="8.6" fill="#d2d4d8"/><circle cx="1251.8" cy="168.2" r="8.6" fill="#7b54a8"/><circle cx="1271.1" cy="168.2" r="8.6" fill="#e27d79"/><circle cx="1290.4" cy="168.2" r="8.6" fill="#7b54a8"/><circle cx="1309.7" cy="168.2" r="8.6" fill="#7b54a8"/><circle cx="1329.0" cy="168.2" r="8.6" fill="#d2d4d8"/><circle cx="875.4" cy="185.0" r="8.6" fill="#d2d4d8"/><circle cx="894.7" cy="185.0" r="8.6" fill="#e27d79"/><circle cx="914.0" cy="185.0" r="8.6" fill="#7b54a8"/><circle cx="933.3" cy="185.0" r="8.6" fill="#7b54a8"/><circle cx="952.6" cy="185.0" r="8.6" fill="#7b54a8"/><circle cx="971.9" cy="185.0" r="8.6" fill="#7b54a8"/><circle cx="991.2" cy="185.0" r="8.6" fill="#d2d4d8"/><circle cx="1010.5" cy="185.0" r="8.6" fill="#7b54a8"/><circle cx="1029.8" cy="185.0" r="8.6" fill="#e27d79"/><circle cx="1049.1" cy="185.0" r="8.6" fill="#e27d79"/><circle cx="1068.4" cy="185.0" r="8.6" fill="#7b54a8"/><circle cx="1087.7" cy="185.0" r="8.6" fill="#d2d4d8"/><circle cx="1107.0" cy="185.0" r="8.6" fill="#d2d4d8"/><circle cx="1126.3" cy="185.0" r="8.6" fill="#d2d4d8"/><circle cx="1145.6" cy="185.0" r="8.6" fill="#7b54a8"/><circle cx="1164.9" cy="185.0" r="8.6" fill="#e27d79"/><circle cx="1184.2" cy="185.0" r="8.6" fill="#e27d79"/><circle cx="1203.5" cy="185.0" r="8.6" fill="#e27d79"/><circle cx="1222.8" cy="185.0" r="8.6" fill="#e27d79"/><circle cx="1242.1" cy="185.0" r="8.6" fill="#7b54a8"/><circle cx="1261.4" cy="185.0" r="8.6" fill="#7b54a8"/><circle cx="1280.7" cy="185.0" r="8.6" fill="#d2d4d8"/><circle cx="1300.0" cy="185.0" r="8.6" fill="#7b54a8"/><circle cx="1319.3" cy="185.0" r="8.6" fill="#e27d79"/><circle cx="1338.6" cy="185.0" r="8.6" fill="#d2d4d8"/><circle cx="865.8" cy="201.8" r="8.6" fill="#7b54a8"/><circle cx="885.0" cy="201.8" r="8.6" fill="#e27d79"/><circle cx="904.4" cy="201.8" r="8.6" fill="#e27d79"/><circle cx="923.6" cy="201.8" r="8.6" fill="#7b54a8"/><circle cx="942.9" cy="201.8" r="8.6" fill="#e27d79"/><circle cx="962.2" cy="201.8" r="8.6" fill="#7b54a8"/><circle cx="981.5" cy="201.8" r="8.6" fill="#e27d79"/><circle cx="1000.9" cy="201.8" r="8.6" fill="#e27d79"/><circle cx="1020.1" cy="201.8" r="8.6" fill="#e27d79"/><circle cx="1039.5" cy="201.8" r="8.6" fill="#e27d79"/><circle cx="1058.8" cy="201.8" r="8.6" fill="#d2d4d8"/><circle cx="1078.1" cy="201.8" r="8.6" fill="#d2d4d8"/><circle cx="1097.4" cy="201.8" r="8.6" fill="#7b54a8"/><circle cx="1116.7" cy="201.8" r="8.6" fill="#e27d79"/><circle cx="1136.0" cy="201.8" r="8.6" fill="#e27d79"/><circle cx="1155.2" cy="201.8" r="8.6" fill="#e27d79"/><circle cx="1174.6" cy="201.8" r="8.6" fill="#d2d4d8"/><circle cx="1193.9" cy="201.8" r="8.6" fill="#7b54a8"/><circle cx="1213.2" cy="201.8" r="8.6" fill="#e27d79"/><circle cx="1232.5" cy="201.8" r="8.6" fill="#e27d79"/><circle cx="1251.8" cy="201.8" r="8.6" fill="#e27d79"/><circle cx="1271.1" cy="201.8" r="8.6" fill="#e27d79"/><circle cx="1290.4" cy="201.8" r="8.6" fill="#e27d79"/><circle cx="1309.7" cy="201.8" r="8.6" fill="#e27d79"/><circle cx="1329.0" cy="201.8" r="8.6" fill="#7b54a8"/><circle cx="1348.2" cy="201.8" r="8.6" fill="#e27d79"/><circle cx="856.1" cy="218.6" r="8.6" fill="#d2d4d8"/><circle cx="875.4" cy="218.6" r="8.6" fill="#7b54a8"/><circle cx="894.7" cy="218.6" r="8.6" fill="#7b54a8"/><circle cx="914.0" cy="218.6" r="8.6" fill="#d2d4d8"/><circle cx="933.3" cy="218.6" r="8.6" fill="#d2d4d8"/><circle cx="952.6" cy="218.6" r="8.6" fill="#e27d79"/><circle cx="971.9" cy="218.6" r="8.6" fill="#e27d79"/><circle cx="991.2" cy="218.6" r="8.6" fill="#e27d79"/><circle cx="1010.5" cy="218.6" r="8.6" fill="#e27d79"/><circle cx="1029.8" cy="218.6" r="8.6" fill="#e27d79"/><circle cx="1049.1" cy="218.6" r="8.6" fill="#e27d79"/><circle cx="1068.4" cy="218.6" r="8.6" fill="#d2d4d8"/><circle cx="1087.7" cy="218.6" r="8.6" fill="#7b54a8"/><circle cx="1107.0" cy="218.6" r="8.6" fill="#7b54a8"/><circle cx="1126.3" cy="218.6" r="8.6" fill="#7b54a8"/><circle cx="1145.6" cy="218.6" r="8.6" fill="#7b54a8"/><circle cx="1164.9" cy="218.6" r="8.6" fill="#e27d79"/><circle cx="1184.2" cy="218.6" r="8.6" fill="#e27d79"/><circle cx="1203.5" cy="218.6" r="8.6" fill="#e27d79"/><circle cx="1222.8" cy="218.6" r="8.6" fill="#e27d79"/><circle cx="1242.1" cy="218.6" r="8.6" fill="#e27d79"/><circle cx="1261.4" cy="218.6" r="8.6" fill="#e27d79"/><circle cx="1280.7" cy="218.6" r="8.6" fill="#7b54a8"/><circle cx="1300.0" cy="218.6" r="8.6" fill="#e27d79"/><circle cx="1319.3" cy="218.6" r="8.6" fill="#e27d79"/><circle cx="1338.6" cy="218.6" r="8.6" fill="#e27d79"/><circle cx="1357.9" cy="218.6" r="8.6" fill="#e27d79"/><circle cx="846.4" cy="235.4" r="8.6" fill="#e27d79"/><circle cx="865.8" cy="235.4" r="8.6" fill="#d2d4d8"/><circle cx="885.0" cy="235.4" r="8.6" fill="#e27d79"/><circle cx="904.4" cy="235.4" r="8.6" fill="#e27d79"/><circle cx="923.6" cy="235.4" r="8.6" fill="#e27d79"/><circle cx="942.9" cy="235.4" r="8.6" fill="#e27d79"/><circle cx="962.2" cy="235.4" r="8.6" fill="#e27d79"/><circle cx="981.5" cy="235.4" r="8.6" fill="#e27d79"/><circle cx="1000.9" cy="235.4" r="8.6" fill="#e27d79"/><circle cx="1020.1" cy="235.4" r="8.6" fill="#e27d79"/><circle cx="1039.5" cy="235.4" r="8.6" fill="#7b54a8"/><circle cx="1058.8" cy="235.4" r="8.6" fill="#7b54a8"/><circle cx="1078.1" cy="235.4" r="8.6" fill="#7b54a8"/><circle cx="1097.4" cy="235.4" r="8.6" fill="#e27d79"/><circle cx="1116.7" cy="235.4" r="8.6" fill="#e27d79"/><circle cx="1136.0" cy="235.4" r="8.6" fill="#7b54a8"/><circle cx="1155.2" cy="235.4" r="8.6" fill="#e27d79"/><circle cx="1174.6" cy="235.4" r="8.6" fill="#e27d79"/><circle cx="1193.9" cy="235.4" r="8.6" fill="#e27d79"/><circle cx="1213.2" cy="235.4" r="8.6" fill="#d2d4d8"/><circle cx="1232.5" cy="235.4" r="8.6" fill="#e27d79"/><circle cx="1251.8" cy="235.4" r="8.6" fill="#7b54a8"/><circle cx="1271.1" cy="235.4" r="8.6" fill="#7b54a8"/><circle cx="1290.4" cy="235.4" r="8.6" fill="#e27d79"/><circle cx="1309.7" cy="235.4" r="8.6" fill="#e27d79"/><circle cx="1329.0" cy="235.4" r="8.6" fill="#e27d79"/><circle cx="1348.2" cy="235.4" r="8.6" fill="#e27d79"/><circle cx="1367.6" cy="235.4" r="8.6" fill="#e27d79"/><circle cx="836.8" cy="252.2" r="8.6" fill="#e27d79"/><circle cx="856.1" cy="252.2" r="8.6" fill="#e27d79"/><circle cx="875.4" cy="252.2" r="8.6" fill="#d2d4d8"/><circle cx="894.7" cy="252.2" r="8.6" fill="#d2d4d8"/><circle cx="914.0" cy="252.2" r="8.6" fill="#d2d4d8"/><circle cx="933.3" cy="252.2" r="8.6" fill="#d2d4d8"/><circle cx="952.6" cy="252.2" r="8.6" fill="#e27d79"/><circle cx="971.9" cy="252.2" r="8.6" fill="#d2d4d8"/><circle cx="991.2" cy="252.2" r="8.6" fill="#e27d79"/><circle cx="1010.5" cy="252.2" r="8.6" fill="#7b54a8"/><circle cx="1029.8" cy="252.2" r="8.6" fill="#e27d79"/><circle cx="1049.1" cy="252.2" r="8.6" fill="#d2d4d8"/><circle cx="1068.4" cy="252.2" r="8.6" fill="#e27d79"/><circle cx="1087.7" cy="252.2" r="8.6" fill="#e27d79"/><circle cx="1107.0" cy="252.2" r="8.6" fill="#e27d79"/><circle cx="1126.3" cy="252.2" r="8.6" fill="#d2d4d8"/><circle cx="1145.6" cy="252.2" r="8.6" fill="#e27d79"/><circle cx="1164.9" cy="252.2" r="8.6" fill="#e27d79"/><circle cx="1184.2" cy="252.2" r="8.6" fill="#e27d79"/><circle cx="1203.5" cy="252.2" r="8.6" fill="#e27d79"/><circle cx="1222.8" cy="252.2" r="8.6" fill="#7b54a8"/><circle cx="1242.1" cy="252.2" r="8.6" fill="#d2d4d8"/><circle cx="1261.4" cy="252.2" r="8.6" fill="#7b54a8"/><circle cx="1280.7" cy="252.2" r="8.6" fill="#7b54a8"/><circle cx="1300.0" cy="252.2" r="8.6" fill="#e27d79"/><circle cx="1319.3" cy="252.2" r="8.6" fill="#7b54a8"/><circle cx="1338.6" cy="252.2" r="8.6" fill="#e27d79"/><circle cx="1357.9" cy="252.2" r="8.6" fill="#e27d79"/><circle cx="1377.2" cy="252.2" r="8.6" fill="#e27d79"/><circle cx="827.1" cy="269.0" r="8.6" fill="#d2d4d8"/><circle cx="846.4" cy="269.0" r="8.6" fill="#e27d79"/><circle cx="865.8" cy="269.0" r="8.6" fill="#e27d79"/><circle cx="885.0" cy="269.0" r="8.6" fill="#e27d79"/><circle cx="904.4" cy="269.0" r="8.6" fill="#7b54a8"/><circle cx="923.6" cy="269.0" r="8.6" fill="#e27d79"/><circle cx="942.9" cy="269.0" r="8.6" fill="#d2d4d8"/><circle cx="962.2" cy="269.0" r="8.6" fill="#d2d4d8"/><circle cx="981.5" cy="269.0" r="8.6" fill="#e27d79"/><circle cx="1000.9" cy="269.0" r="8.6" fill="#e27d79"/><circle cx="1020.1" cy="269.0" r="8.6" fill="#e27d79"/><circle cx="1039.5" cy="269.0" r="8.6" fill="#e27d79"/><circle cx="1058.8" cy="269.0" r="8.6" fill="#e27d79"/><circle cx="1078.1" cy="269.0" r="8.6" fill="#d2d4d8"/><circle cx="1097.4" cy="269.0" r="8.6" fill="#e27d79"/><circle cx="1116.7" cy="269.0" r="8.6" fill="#e27d79"/><circle cx="1136.0" cy="269.0" r="8.6" fill="#e27d79"/><circle cx="1155.2" cy="269.0" r="8.6" fill="#e27d79"/><circle cx="1174.6" cy="269.0" r="8.6" fill="#d2d4d8"/><circle cx="1193.9" cy="269.0" r="8.6" fill="#e27d79"/><circle cx="1213.2" cy="269.0" r="8.6" fill="#d2d4d8"/><circle cx="1232.5" cy="269.0" r="8.6" fill="#e27d79"/><circle cx="1251.8" cy="269.0" r="8.6" fill="#e27d79"/><circle cx="1271.1" cy="269.0" r="8.6" fill="#e27d79"/><circle cx="1290.4" cy="269.0" r="8.6" fill="#e27d79"/><circle cx="1309.7" cy="269.0" r="8.6" fill="#7b54a8"/><circle cx="1329.0" cy="269.0" r="8.6" fill="#e27d79"/><circle cx="1348.2" cy="269.0" r="8.6" fill="#e27d79"/><circle cx="1367.6" cy="269.0" r="8.6" fill="#e27d79"/><circle cx="1386.9" cy="269.0" r="8.6" fill="#d2d4d8"/><circle cx="817.5" cy="285.8" r="8.6" fill="#d2d4d8"/><circle cx="836.8" cy="285.8" r="8.6" fill="#e27d79"/><circle cx="856.1" cy="285.8" r="8.6" fill="#7b54a8"/><circle cx="875.4" cy="285.8" r="8.6" fill="#d2d4d8"/><circle cx="894.7" cy="285.8" r="8.6" fill="#7b54a8"/><circle cx="914.0" cy="285.8" r="8.6" fill="#e27d79"/><circle cx="933.3" cy="285.8" r="8.6" fill="#e27d79"/><circle cx="952.6" cy="285.8" r="8.6" fill="#e27d79"/><circle cx="971.9" cy="285.8" r="8.6" fill="#7b54a8"/><circle cx="991.2" cy="285.8" r="8.6" fill="#e27d79"/><circle cx="1010.5" cy="285.8" r="8.6" fill="#e27d79"/><circle cx="1029.8" cy="285.8" r="8.6" fill="#7b54a8"/><circle cx="1049.1" cy="285.8" r="8.6" fill="#e27d79"/><circle cx="1068.4" cy="285.8" r="8.6" fill="#e27d79"/><circle cx="1087.7" cy="285.8" r="8.6" fill="#7b54a8"/><circle cx="1107.0" cy="285.8" r="8.6" fill="#e27d79"/><circle cx="1126.3" cy="285.8" r="8.6" fill="#d2d4d8"/><circle cx="1145.6" cy="285.8" r="8.6" fill="#d2d4d8"/><circle cx="1164.9" cy="285.8" r="8.6" fill="#e27d79"/><circle cx="1184.2" cy="285.8" r="8.6" fill="#e27d79"/><circle cx="1203.5" cy="285.8" r="8.6" fill="#7b54a8"/><circle cx="1222.8" cy="285.8" r="8.6" fill="#d2d4d8"/><circle cx="1242.1" cy="285.8" r="8.6" fill="#e27d79"/><circle cx="1261.4" cy="285.8" r="8.6" fill="#d2d4d8"/><circle cx="1280.7" cy="285.8" r="8.6" fill="#7b54a8"/><circle cx="1300.0" cy="285.8" r="8.6" fill="#d2d4d8"/><circle cx="1319.3" cy="285.8" r="8.6" fill="#e27d79"/><circle cx="1338.6" cy="285.8" r="8.6" fill="#7b54a8"/><circle cx="1357.9" cy="285.8" r="8.6" fill="#e27d79"/><circle cx="1377.2" cy="285.8" r="8.6" fill="#d2d4d8"/><circle cx="1396.5" cy="285.8" r="8.6" fill="#7b54a8"/><circle cx="827.1" cy="302.6" r="8.6" fill="#d2d4d8"/><circle cx="846.4" cy="302.6" r="8.6" fill="#e27d79"/><circle cx="865.8" cy="302.6" r="8.6" fill="#e27d79"/><circle cx="885.0" cy="302.6" r="8.6" fill="#7b54a8"/><circle cx="904.4" cy="302.6" r="8.6" fill="#e27d79"/><circle cx="923.6" cy="302.6" r="8.6" fill="#e27d79"/><circle cx="942.9" cy="302.6" r="8.6" fill="#e27d79"/><circle cx="962.2" cy="302.6" r="8.6" fill="#7b54a8"/><circle cx="981.5" cy="302.6" r="8.6" fill="#d2d4d8"/><circle cx="1000.9" cy="302.6" r="8.6" fill="#7b54a8"/><circle cx="1020.1" cy="302.6" r="8.6" fill="#e27d79"/><circle cx="1039.5" cy="302.6" r="8.6" fill="#d2d4d8"/><circle cx="1058.8" cy="302.6" r="8.6" fill="#7b54a8"/><circle cx="1078.1" cy="302.6" r="8.6" fill="#d2d4d8"/><circle cx="1097.4" cy="302.6" r="8.6" fill="#e27d79"/><circle cx="1116.7" cy="302.6" r="8.6" fill="#e27d79"/><circle cx="1136.0" cy="302.6" r="8.6" fill="#7b54a8"/><circle cx="1155.2" cy="302.6" r="8.6" fill="#7b54a8"/><circle cx="1174.6" cy="302.6" r="8.6" fill="#e27d79"/><circle cx="1193.9" cy="302.6" r="8.6" fill="#e27d79"/><circle cx="1213.2" cy="302.6" r="8.6" fill="#e27d79"/><circle cx="1232.5" cy="302.6" r="8.6" fill="#7b54a8"/><circle cx="1251.8" cy="302.6" r="8.6" fill="#7b54a8"/><circle cx="1271.1" cy="302.6" r="8.6" fill="#e27d79"/><circle cx="1290.4" cy="302.6" r="8.6" fill="#d2d4d8"/><circle cx="1309.7" cy="302.6" r="8.6" fill="#7b54a8"/><circle cx="1329.0" cy="302.6" r="8.6" fill="#e27d79"/><circle cx="1348.2" cy="302.6" r="8.6" fill="#e27d79"/><circle cx="1367.6" cy="302.6" r="8.6" fill="#e27d79"/><circle cx="1386.9" cy="302.6" r="8.6" fill="#d2d4d8"/><circle cx="817.5" cy="319.4" r="8.6" fill="#e27d79"/><circle cx="836.8" cy="319.4" r="8.6" fill="#7b54a8"/><circle cx="856.1" cy="319.4" r="8.6" fill="#e27d79"/><circle cx="875.4" cy="319.4" r="8.6" fill="#e27d79"/><circle cx="894.7" cy="319.4" r="8.6" fill="#e27d79"/><circle cx="914.0" cy="319.4" r="8.6" fill="#e27d79"/><circle cx="933.3" cy="319.4" r="8.6" fill="#e27d79"/><circle cx="952.6" cy="319.4" r="8.6" fill="#d2d4d8"/><circle cx="971.9" cy="319.4" r="8.6" fill="#7b54a8"/><circle cx="991.2" cy="319.4" r="8.6" fill="#e27d79"/><circle cx="1010.5" cy="319.4" r="8.6" fill="#d2d4d8"/><circle cx="1029.8" cy="319.4" r="8.6" fill="#7b54a8"/><circle cx="1049.1" cy="319.4" r="8.6" fill="#7b54a8"/><circle cx="1068.4" cy="319.4" r="8.6" fill="#7b54a8"/><circle cx="1087.7" cy="319.4" r="8.6" fill="#7b54a8"/><circle cx="1107.0" cy="319.4" r="8.6" fill="#d2d4d8"/><circle cx="1126.3" cy="319.4" r="8.6" fill="#d2d4d8"/><circle cx="1145.6" cy="319.4" r="8.6" fill="#e27d79"/><circle cx="1164.9" cy="319.4" r="8.6" fill="#d2d4d8"/><circle cx="1184.2" cy="319.4" r="8.6" fill="#d2d4d8"/><circle cx="1203.5" cy="319.4" r="8.6" fill="#7b54a8"/><circle cx="1222.8" cy="319.4" r="8.6" fill="#d2d4d8"/><circle cx="1242.1" cy="319.4" r="8.6" fill="#7b54a8"/><circle cx="1261.4" cy="319.4" r="8.6" fill="#7b54a8"/><circle cx="1280.7" cy="319.4" r="8.6" fill="#7b54a8"/><circle cx="1300.0" cy="319.4" r="8.6" fill="#e27d79"/><circle cx="1319.3" cy="319.4" r="8.6" fill="#e27d79"/><circle cx="1338.6" cy="319.4" r="8.6" fill="#7b54a8"/><circle cx="1357.9" cy="319.4" r="8.6" fill="#e27d79"/><circle cx="1377.2" cy="319.4" r="8.6" fill="#e27d79"/><circle cx="1396.5" cy="319.4" r="8.6" fill="#d2d4d8"/><circle cx="807.9" cy="336.2" r="8.6" fill="#e27d79"/><circle cx="827.1" cy="336.2" r="8.6" fill="#e27d79"/><circle cx="846.4" cy="336.2" r="8.6" fill="#e27d79"/><circle cx="865.8" cy="336.2" r="8.6" fill="#e27d79"/><circle cx="885.0" cy="336.2" r="8.6" fill="#e27d79"/><circle cx="904.4" cy="336.2" r="8.6" fill="#e27d79"/><circle cx="923.6" cy="336.2" r="8.6" fill="#e27d79"/><circle cx="942.9" cy="336.2" r="8.6" fill="#e27d79"/><circle cx="962.2" cy="336.2" r="8.6" fill="#d2d4d8"/><circle cx="981.5" cy="336.2" r="8.6" fill="#e27d79"/><circle cx="1000.9" cy="336.2" r="8.6" fill="#e27d79"/><circle cx="1020.1" cy="336.2" r="8.6" fill="#e27d79"/><circle cx="1039.5" cy="336.2" r="8.6" fill="#d2d4d8"/><circle cx="1058.8" cy="336.2" r="8.6" fill="#d2d4d8"/><circle cx="1078.1" cy="336.2" r="8.6" fill="#7b54a8"/><circle cx="1097.4" cy="336.2" r="8.6" fill="#7b54a8"/><circle cx="1116.7" cy="336.2" r="8.6" fill="#7b54a8"/><circle cx="1136.0" cy="336.2" r="8.6" fill="#e27d79"/><circle cx="1155.2" cy="336.2" r="8.6" fill="#7b54a8"/><circle cx="1174.6" cy="336.2" r="8.6" fill="#7b54a8"/><circle cx="1193.9" cy="336.2" r="8.6" fill="#7b54a8"/><circle cx="1213.2" cy="336.2" r="8.6" fill="#e27d79"/><circle cx="1232.5" cy="336.2" r="8.6" fill="#e27d79"/><circle cx="1251.8" cy="336.2" r="8.6" fill="#e27d79"/><circle cx="1271.1" cy="336.2" r="8.6" fill="#7b54a8"/><circle cx="1290.4" cy="336.2" r="8.6" fill="#7b54a8"/><circle cx="1309.7" cy="336.2" r="8.6" fill="#7b54a8"/><circle cx="1329.0" cy="336.2" r="8.6" fill="#d2d4d8"/><circle cx="1348.2" cy="336.2" r="8.6" fill="#7b54a8"/><circle cx="1367.6" cy="336.2" r="8.6" fill="#d2d4d8"/><circle cx="1386.9" cy="336.2" r="8.6" fill="#d2d4d8"/><circle cx="1406.2" cy="336.2" r="8.6" fill="#e27d79"/><circle cx="817.5" cy="353.0" r="8.6" fill="#e27d79"/><circle cx="836.8" cy="353.0" r="8.6" fill="#e27d79"/><circle cx="856.1" cy="353.0" r="8.6" fill="#d2d4d8"/><circle cx="875.4" cy="353.0" r="8.6" fill="#e27d79"/><circle cx="894.7" cy="353.0" r="8.6" fill="#d2d4d8"/><circle cx="914.0" cy="353.0" r="8.6" fill="#e27d79"/><circle cx="933.3" cy="353.0" r="8.6" fill="#7b54a8"/><circle cx="952.6" cy="353.0" r="8.6" fill="#d2d4d8"/><circle cx="971.9" cy="353.0" r="8.6" fill="#e27d79"/><circle cx="991.2" cy="353.0" r="8.6" fill="#e27d79"/><circle cx="1010.5" cy="353.0" r="8.6" fill="#7b54a8"/><circle cx="1029.8" cy="353.0" r="8.6" fill="#e27d79"/><circle cx="1049.1" cy="353.0" r="8.6" fill="#7b54a8"/><circle cx="1068.4" cy="353.0" r="8.6" fill="#d2d4d8"/><circle cx="1087.7" cy="353.0" r="8.6" fill="#7b54a8"/><circle cx="1107.0" cy="353.0" r="8.6" fill="#d2d4d8"/><circle cx="1126.3" cy="353.0" r="8.6" fill="#7b54a8"/><circle cx="1145.6" cy="353.0" r="8.6" fill="#7b54a8"/><circle cx="1164.9" cy="353.0" r="8.6" fill="#d2d4d8"/><circle cx="1184.2" cy="353.0" r="8.6" fill="#7b54a8"/><circle cx="1203.5" cy="353.0" r="8.6" fill="#e27d79"/><circle cx="1222.8" cy="353.0" r="8.6" fill="#e27d79"/><circle cx="1242.1" cy="353.0" r="8.6" fill="#e27d79"/><circle cx="1261.4" cy="353.0" r="8.6" fill="#e27d79"/><circle cx="1280.7" cy="353.0" r="8.6" fill="#e27d79"/><circle cx="1300.0" cy="353.0" r="8.6" fill="#e27d79"/><circle cx="1319.3" cy="353.0" r="8.6" fill="#d2d4d8"/><circle cx="1338.6" cy="353.0" r="8.6" fill="#d2d4d8"/><circle cx="1357.9" cy="353.0" r="8.6" fill="#e27d79"/><circle cx="1377.2" cy="353.0" r="8.6" fill="#7b54a8"/><circle cx="1396.5" cy="353.0" r="8.6" fill="#e27d79"/><circle cx="807.9" cy="369.8" r="8.6" fill="#e27d79"/><circle cx="827.1" cy="369.8" r="8.6" fill="#7b54a8"/><circle cx="846.4" cy="369.8" r="8.6" fill="#e27d79"/><circle cx="865.8" cy="369.8" r="8.6" fill="#e27d79"/><circle cx="885.0" cy="369.8" r="8.6" fill="#e27d79"/><circle cx="904.4" cy="369.8" r="8.6" fill="#e27d79"/><circle cx="923.6" cy="369.8" r="8.6" fill="#e27d79"/><circle cx="942.9" cy="369.8" r="8.6" fill="#7b54a8"/><circle cx="962.2" cy="369.8" r="8.6" fill="#e27d79"/><circle cx="981.5" cy="369.8" r="8.6" fill="#e27d79"/><circle cx="1000.9" cy="369.8" r="8.6" fill="#e27d79"/><circle cx="1020.1" cy="369.8" r="8.6" fill="#e27d79"/><circle cx="1039.5" cy="369.8" r="8.6" fill="#e27d79"/><circle cx="1058.8" cy="369.8" r="8.6" fill="#e27d79"/><circle cx="1078.1" cy="369.8" r="8.6" fill="#e27d79"/><circle cx="1097.4" cy="369.8" r="8.6" fill="#e27d79"/><circle cx="1116.7" cy="369.8" r="8.6" fill="#e27d79"/><circle cx="1136.0" cy="369.8" r="8.6" fill="#7b54a8"/><circle cx="1155.2" cy="369.8" r="8.6" fill="#7b54a8"/><circle cx="1174.6" cy="369.8" r="8.6" fill="#7b54a8"/><circle cx="1193.9" cy="369.8" r="8.6" fill="#d2d4d8"/><circle cx="1213.2" cy="369.8" r="8.6" fill="#7b54a8"/><circle cx="1232.5" cy="369.8" r="8.6" fill="#e27d79"/><circle cx="1251.8" cy="369.8" r="8.6" fill="#e27d79"/><circle cx="1271.1" cy="369.8" r="8.6" fill="#e27d79"/><circle cx="1290.4" cy="369.8" r="8.6" fill="#e27d79"/><circle cx="1309.7" cy="369.8" r="8.6" fill="#e27d79"/><circle cx="1329.0" cy="369.8" r="8.6" fill="#e27d79"/><circle cx="1348.2" cy="369.8" r="8.6" fill="#7b54a8"/><circle cx="1367.6" cy="369.8" r="8.6" fill="#e27d79"/><circle cx="1386.9" cy="369.8" r="8.6" fill="#e27d79"/><circle cx="1406.2" cy="369.8" r="8.6" fill="#e27d79"/><circle cx="817.5" cy="386.6" r="8.6" fill="#e27d79"/><circle cx="836.8" cy="386.6" r="8.6" fill="#e27d79"/><circle cx="856.1" cy="386.6" r="8.6" fill="#7b54a8"/><circle cx="875.4" cy="386.6" r="8.6" fill="#e27d79"/><circle cx="894.7" cy="386.6" r="8.6" fill="#d2d4d8"/><circle cx="914.0" cy="386.6" r="8.6" fill="#7b54a8"/><circle cx="933.3" cy="386.6" r="8.6" fill="#d2d4d8"/><circle cx="952.6" cy="386.6" r="8.6" fill="#e27d79"/><circle cx="971.9" cy="386.6" r="8.6" fill="#d2d4d8"/><circle cx="991.2" cy="386.6" r="8.6" fill="#e27d79"/><circle cx="1010.5" cy="386.6" r="8.6" fill="#e27d79"/><circle cx="1029.8" cy="386.6" r="8.6" fill="#e27d79"/><circle cx="1049.1" cy="386.6" r="8.6" fill="#d2d4d8"/><circle cx="1068.4" cy="386.6" r="8.6" fill="#d2d4d8"/><circle cx="1087.7" cy="386.6" r="8.6" fill="#e27d79"/><circle cx="1107.0" cy="386.6" r="8.6" fill="#e27d79"/><circle cx="1126.3" cy="386.6" r="8.6" fill="#e27d79"/><circle cx="1145.6" cy="386.6" r="8.6" fill="#e27d79"/><circle cx="1164.9" cy="386.6" r="8.6" fill="#7b54a8"/><circle cx="1184.2" cy="386.6" r="8.6" fill="#7b54a8"/><circle cx="1203.5" cy="386.6" r="8.6" fill="#7b54a8"/><circle cx="1222.8" cy="386.6" r="8.6" fill="#e27d79"/><circle cx="1242.1" cy="386.6" r="8.6" fill="#d2d4d8"/><circle cx="1261.4" cy="386.6" r="8.6" fill="#e27d79"/><circle cx="1280.7" cy="386.6" r="8.6" fill="#7b54a8"/><circle cx="1300.0" cy="386.6" r="8.6" fill="#7b54a8"/><circle cx="1319.3" cy="386.6" r="8.6" fill="#7b54a8"/><circle cx="1338.6" cy="386.6" r="8.6" fill="#e27d79"/><circle cx="1357.9" cy="386.6" r="8.6" fill="#e27d79"/><circle cx="1377.2" cy="386.6" r="8.6" fill="#e27d79"/><circle cx="1396.5" cy="386.6" r="8.6" fill="#d2d4d8"/><circle cx="827.1" cy="403.4" r="8.6" fill="#e27d79"/><circle cx="846.4" cy="403.4" r="8.6" fill="#e27d79"/><circle cx="865.8" cy="403.4" r="8.6" fill="#e27d79"/><circle cx="885.0" cy="403.4" r="8.6" fill="#7b54a8"/><circle cx="904.4" cy="403.4" r="8.6" fill="#e27d79"/><circle cx="923.6" cy="403.4" r="8.6" fill="#d2d4d8"/><circle cx="942.9" cy="403.4" r="8.6" fill="#e27d79"/><circle cx="962.2" cy="403.4" r="8.6" fill="#e27d79"/><circle cx="981.5" cy="403.4" r="8.6" fill="#7b54a8"/><circle cx="1000.9" cy="403.4" r="8.6" fill="#e27d79"/><circle cx="1020.1" cy="403.4" r="8.6" fill="#e27d79"/><circle cx="1039.5" cy="403.4" r="8.6" fill="#e27d79"/><circle cx="1058.8" cy="403.4" r="8.6" fill="#d2d4d8"/><circle cx="1078.1" cy="403.4" r="8.6" fill="#d2d4d8"/><circle cx="1097.4" cy="403.4" r="8.6" fill="#7b54a8"/><circle cx="1116.7" cy="403.4" r="8.6" fill="#e27d79"/><circle cx="1136.0" cy="403.4" r="8.6" fill="#7b54a8"/><circle cx="1155.2" cy="403.4" r="8.6" fill="#e27d79"/><circle cx="1174.6" cy="403.4" r="8.6" fill="#7b54a8"/><circle cx="1193.9" cy="403.4" r="8.6" fill="#e27d79"/><circle cx="1213.2" cy="403.4" r="8.6" fill="#e27d79"/><circle cx="1232.5" cy="403.4" r="8.6" fill="#7b54a8"/><circle cx="1251.8" cy="403.4" r="8.6" fill="#e27d79"/><circle cx="1271.1" cy="403.4" r="8.6" fill="#e27d79"/><circle cx="1290.4" cy="403.4" r="8.6" fill="#e27d79"/><circle cx="1309.7" cy="403.4" r="8.6" fill="#e27d79"/><circle cx="1329.0" cy="403.4" r="8.6" fill="#7b54a8"/><circle cx="1348.2" cy="403.4" r="8.6" fill="#e27d79"/><circle cx="1367.6" cy="403.4" r="8.6" fill="#e27d79"/><circle cx="1386.9" cy="403.4" r="8.6" fill="#7b54a8"/><circle cx="817.5" cy="420.2" r="8.6" fill="#7b54a8"/><circle cx="836.8" cy="420.2" r="8.6" fill="#e27d79"/><circle cx="856.1" cy="420.2" r="8.6" fill="#e27d79"/><circle cx="875.4" cy="420.2" r="8.6" fill="#d2d4d8"/><circle cx="894.7" cy="420.2" r="8.6" fill="#7b54a8"/><circle cx="914.0" cy="420.2" r="8.6" fill="#d2d4d8"/><circle cx="933.3" cy="420.2" r="8.6" fill="#d2d4d8"/><circle cx="952.6" cy="420.2" r="8.6" fill="#e27d79"/><circle cx="971.9" cy="420.2" r="8.6" fill="#7b54a8"/><circle cx="991.2" cy="420.2" r="8.6" fill="#e27d79"/><circle cx="1010.5" cy="420.2" r="8.6" fill="#e27d79"/><circle cx="1029.8" cy="420.2" r="8.6" fill="#7b54a8"/><circle cx="1049.1" cy="420.2" r="8.6" fill="#e27d79"/><circle cx="1068.4" cy="420.2" r="8.6" fill="#e27d79"/><circle cx="1087.7" cy="420.2" r="8.6" fill="#e27d79"/><circle cx="1107.0" cy="420.2" r="8.6" fill="#d2d4d8"/><circle cx="1126.3" cy="420.2" r="8.6" fill="#d2d4d8"/><circle cx="1145.6" cy="420.2" r="8.6" fill="#d2d4d8"/><circle cx="1164.9" cy="420.2" r="8.6" fill="#e27d79"/><circle cx="1184.2" cy="420.2" r="8.6" fill="#e27d79"/><circle cx="1203.5" cy="420.2" r="8.6" fill="#d2d4d8"/><circle cx="1222.8" cy="420.2" r="8.6" fill="#d2d4d8"/><circle cx="1242.1" cy="420.2" r="8.6" fill="#7b54a8"/><circle cx="1261.4" cy="420.2" r="8.6" fill="#7b54a8"/><circle cx="1280.7" cy="420.2" r="8.6" fill="#7b54a8"/><circle cx="1300.0" cy="420.2" r="8.6" fill="#e27d79"/><circle cx="1319.3" cy="420.2" r="8.6" fill="#7b54a8"/><circle cx="1338.6" cy="420.2" r="8.6" fill="#e27d79"/><circle cx="1357.9" cy="420.2" r="8.6" fill="#7b54a8"/><circle cx="1377.2" cy="420.2" r="8.6" fill="#7b54a8"/><circle cx="1396.5" cy="420.2" r="8.6" fill="#e27d79"/><circle cx="827.1" cy="437.0" r="8.6" fill="#d2d4d8"/><circle cx="846.4" cy="437.0" r="8.6" fill="#e27d79"/><circle cx="865.8" cy="437.0" r="8.6" fill="#e27d79"/><circle cx="885.0" cy="437.0" r="8.6" fill="#e27d79"/><circle cx="904.4" cy="437.0" r="8.6" fill="#e27d79"/><circle cx="923.6" cy="437.0" r="8.6" fill="#e27d79"/><circle cx="942.9" cy="437.0" r="8.6" fill="#e27d79"/><circle cx="962.2" cy="437.0" r="8.6" fill="#e27d79"/><circle cx="981.5" cy="437.0" r="8.6" fill="#e27d79"/><circle cx="1000.9" cy="437.0" r="8.6" fill="#e27d79"/><circle cx="1020.1" cy="437.0" r="8.6" fill="#7b54a8"/><circle cx="1039.5" cy="437.0" r="8.6" fill="#e27d79"/><circle cx="1058.8" cy="437.0" r="8.6" fill="#d2d4d8"/><circle cx="1078.1" cy="437.0" r="8.6" fill="#e27d79"/><circle cx="1097.4" cy="437.0" r="8.6" fill="#e27d79"/><circle cx="1116.7" cy="437.0" r="8.6" fill="#d2d4d8"/><circle cx="1136.0" cy="437.0" r="8.6" fill="#7b54a8"/><circle cx="1155.2" cy="437.0" r="8.6" fill="#e27d79"/><circle cx="1174.6" cy="437.0" r="8.6" fill="#7b54a8"/><circle cx="1193.9" cy="437.0" r="8.6" fill="#d2d4d8"/><circle cx="1213.2" cy="437.0" r="8.6" fill="#d2d4d8"/><circle cx="1232.5" cy="437.0" r="8.6" fill="#d2d4d8"/><circle cx="1251.8" cy="437.0" r="8.6" fill="#e27d79"/><circle cx="1271.1" cy="437.0" r="8.6" fill="#e27d79"/><circle cx="1290.4" cy="437.0" r="8.6" fill="#7b54a8"/><circle cx="1309.7" cy="437.0" r="8.6" fill="#e27d79"/><circle cx="1329.0" cy="437.0" r="8.6" fill="#d2d4d8"/><circle cx="1348.2" cy="437.0" r="8.6" fill="#e27d79"/><circle cx="1367.6" cy="437.0" r="8.6" fill="#d2d4d8"/><circle cx="1386.9" cy="437.0" r="8.6" fill="#d2d4d8"/><circle cx="836.8" cy="453.8" r="8.6" fill="#d2d4d8"/><circle cx="856.1" cy="453.8" r="8.6" fill="#d2d4d8"/><circle cx="875.4" cy="453.8" r="8.6" fill="#e27d79"/><circle cx="894.7" cy="453.8" r="8.6" fill="#e27d79"/><circle cx="914.0" cy="453.8" r="8.6" fill="#d2d4d8"/><circle cx="933.3" cy="453.8" r="8.6" fill="#e27d79"/><circle cx="952.6" cy="453.8" r="8.6" fill="#e27d79"/><circle cx="971.9" cy="453.8" r="8.6" fill="#e27d79"/><circle cx="991.2" cy="453.8" r="8.6" fill="#7b54a8"/><circle cx="1010.5" cy="453.8" r="8.6" fill="#7b54a8"/><circle cx="1029.8" cy="453.8" r="8.6" fill="#7b54a8"/><circle cx="1049.1" cy="453.8" r="8.6" fill="#d2d4d8"/><circle cx="1068.4" cy="453.8" r="8.6" fill="#7b54a8"/><circle cx="1087.7" cy="453.8" r="8.6" fill="#7b54a8"/><circle cx="1107.0" cy="453.8" r="8.6" fill="#d2d4d8"/><circle cx="1126.3" cy="453.8" r="8.6" fill="#e27d79"/><circle cx="1145.6" cy="453.8" r="8.6" fill="#e27d79"/><circle cx="1164.9" cy="453.8" r="8.6" fill="#e27d79"/><circle cx="1184.2" cy="453.8" r="8.6" fill="#d2d4d8"/><circle cx="1203.5" cy="453.8" r="8.6" fill="#d2d4d8"/><circle cx="1222.8" cy="453.8" r="8.6" fill="#e27d79"/><circle cx="1242.1" cy="453.8" r="8.6" fill="#d2d4d8"/><circle cx="1261.4" cy="453.8" r="8.6" fill="#d2d4d8"/><circle cx="1280.7" cy="453.8" r="8.6" fill="#7b54a8"/><circle cx="1300.0" cy="453.8" r="8.6" fill="#7b54a8"/><circle cx="1319.3" cy="453.8" r="8.6" fill="#e27d79"/><circle cx="1338.6" cy="453.8" r="8.6" fill="#7b54a8"/><circle cx="1357.9" cy="453.8" r="8.6" fill="#e27d79"/><circle cx="1377.2" cy="453.8" r="8.6" fill="#e27d79"/><circle cx="846.4" cy="470.6" r="8.6" fill="#e27d79"/><circle cx="865.8" cy="470.6" r="8.6" fill="#d2d4d8"/><circle cx="885.0" cy="470.6" r="8.6" fill="#d2d4d8"/><circle cx="904.4" cy="470.6" r="8.6" fill="#d2d4d8"/><circle cx="923.6" cy="470.6" r="8.6" fill="#e27d79"/><circle cx="942.9" cy="470.6" r="8.6" fill="#e27d79"/><circle cx="962.2" cy="470.6" r="8.6" fill="#e27d79"/><circle cx="981.5" cy="470.6" r="8.6" fill="#e27d79"/><circle cx="1000.9" cy="470.6" r="8.6" fill="#e27d79"/><circle cx="1020.1" cy="470.6" r="8.6" fill="#7b54a8"/><circle cx="1039.5" cy="470.6" r="8.6" fill="#7b54a8"/><circle cx="1058.8" cy="470.6" r="8.6" fill="#e27d79"/><circle cx="1078.1" cy="470.6" r="8.6" fill="#e27d79"/><circle cx="1097.4" cy="470.6" r="8.6" fill="#e27d79"/><circle cx="1116.7" cy="470.6" r="8.6" fill="#e27d79"/><circle cx="1136.0" cy="470.6" r="8.6" fill="#7b54a8"/><circle cx="1155.2" cy="470.6" r="8.6" fill="#d2d4d8"/><circle cx="1174.6" cy="470.6" r="8.6" fill="#e27d79"/><circle cx="1193.9" cy="470.6" r="8.6" fill="#e27d79"/><circle cx="1213.2" cy="470.6" r="8.6" fill="#e27d79"/><circle cx="1232.5" cy="470.6" r="8.6" fill="#e27d79"/><circle cx="1251.8" cy="470.6" r="8.6" fill="#7b54a8"/><circle cx="1271.1" cy="470.6" r="8.6" fill="#7b54a8"/><circle cx="1290.4" cy="470.6" r="8.6" fill="#7b54a8"/><circle cx="1309.7" cy="470.6" r="8.6" fill="#e27d79"/><circle cx="1329.0" cy="470.6" r="8.6" fill="#e27d79"/><circle cx="1348.2" cy="470.6" r="8.6" fill="#e27d79"/><circle cx="1367.6" cy="470.6" r="8.6" fill="#e27d79"/><circle cx="856.1" cy="487.4" r="8.6" fill="#e27d79"/><circle cx="875.4" cy="487.4" r="8.6" fill="#e27d79"/><circle cx="894.7" cy="487.4" r="8.6" fill="#e27d79"/><circle cx="914.0" cy="487.4" r="8.6" fill="#e27d79"/><circle cx="933.3" cy="487.4" r="8.6" fill="#7b54a8"/><circle cx="952.6" cy="487.4" r="8.6" fill="#e27d79"/><circle cx="971.9" cy="487.4" r="8.6" fill="#d2d4d8"/><circle cx="991.2" cy="487.4" r="8.6" fill="#e27d79"/><circle cx="1010.5" cy="487.4" r="8.6" fill="#e27d79"/><circle cx="1029.8" cy="487.4" r="8.6" fill="#d2d4d8"/><circle cx="1049.1" cy="487.4" r="8.6" fill="#7b54a8"/><circle cx="1068.4" cy="487.4" r="8.6" fill="#d2d4d8"/><circle cx="1087.7" cy="487.4" r="8.6" fill="#e27d79"/><circle cx="1107.0" cy="487.4" r="8.6" fill="#e27d79"/><circle cx="1126.3" cy="487.4" r="8.6" fill="#7b54a8"/><circle cx="1145.6" cy="487.4" r="8.6" fill="#7b54a8"/><circle cx="1164.9" cy="487.4" r="8.6" fill="#e27d79"/><circle cx="1184.2" cy="487.4" r="8.6" fill="#e27d79"/><circle cx="1203.5" cy="487.4" r="8.6" fill="#d2d4d8"/><circle cx="1222.8" cy="487.4" r="8.6" fill="#7b54a8"/><circle cx="1242.1" cy="487.4" r="8.6" fill="#e27d79"/><circle cx="1261.4" cy="487.4" r="8.6" fill="#7b54a8"/><circle cx="1280.7" cy="487.4" r="8.6" fill="#d2d4d8"/><circle cx="1300.0" cy="487.4" r="8.6" fill="#e27d79"/><circle cx="1319.3" cy="487.4" r="8.6" fill="#e27d79"/><circle cx="1338.6" cy="487.4" r="8.6" fill="#e27d79"/><circle cx="1357.9" cy="487.4" r="8.6" fill="#e27d79"/><circle cx="865.8" cy="504.2" r="8.6" fill="#e27d79"/><circle cx="885.0" cy="504.2" r="8.6" fill="#d2d4d8"/><circle cx="904.4" cy="504.2" r="8.6" fill="#d2d4d8"/><circle cx="923.6" cy="504.2" r="8.6" fill="#e27d79"/><circle cx="942.9" cy="504.2" r="8.6" fill="#e27d79"/><circle cx="962.2" cy="504.2" r="8.6" fill="#d2d4d8"/><circle cx="981.5" cy="504.2" r="8.6" fill="#7b54a8"/><circle cx="1000.9" cy="504.2" r="8.6" fill="#e27d79"/><circle cx="1020.1" cy="504.2" r="8.6" fill="#e27d79"/><circle cx="1039.5" cy="504.2" r="8.6" fill="#e27d79"/><circle cx="1058.8" cy="504.2" r="8.6" fill="#d2d4d8"/><circle cx="1078.1" cy="504.2" r="8.6" fill="#e27d79"/><circle cx="1097.4" cy="504.2" r="8.6" fill="#e27d79"/><circle cx="1116.7" cy="504.2" r="8.6" fill="#7b54a8"/><circle cx="1136.0" cy="504.2" r="8.6" fill="#7b54a8"/><circle cx="1155.2" cy="504.2" r="8.6" fill="#d2d4d8"/><circle cx="1174.6" cy="504.2" r="8.6" fill="#d2d4d8"/><circle cx="1193.9" cy="504.2" r="8.6" fill="#e27d79"/><circle cx="1213.2" cy="504.2" r="8.6" fill="#7b54a8"/><circle cx="1232.5" cy="504.2" r="8.6" fill="#e27d79"/><circle cx="1251.8" cy="504.2" r="8.6" fill="#e27d79"/><circle cx="1271.1" cy="504.2" r="8.6" fill="#e27d79"/><circle cx="1290.4" cy="504.2" r="8.6" fill="#7b54a8"/><circle cx="1309.7" cy="504.2" r="8.6" fill="#e27d79"/><circle cx="1329.0" cy="504.2" r="8.6" fill="#d2d4d8"/><circle cx="1348.2" cy="504.2" r="8.6" fill="#e27d79"/><circle cx="875.4" cy="521.0" r="8.6" fill="#d2d4d8"/><circle cx="894.7" cy="521.0" r="8.6" fill="#d2d4d8"/><circle cx="914.0" cy="521.0" r="8.6" fill="#e27d79"/><circle cx="933.3" cy="521.0" r="8.6" fill="#d2d4d8"/><circle cx="952.6" cy="521.0" r="8.6" fill="#e27d79"/><circle cx="971.9" cy="521.0" r="8.6" fill="#e27d79"/><circle cx="991.2" cy="521.0" r="8.6" fill="#d2d4d8"/><circle cx="1010.5" cy="521.0" r="8.6" fill="#d2d4d8"/><circle cx="1029.8" cy="521.0" r="8.6" fill="#e27d79"/><circle cx="1049.1" cy="521.0" r="8.6" fill="#e27d79"/><circle cx="1068.4" cy="521.0" r="8.6" fill="#e27d79"/><circle cx="1087.7" cy="521.0" r="8.6" fill="#7b54a8"/><circle cx="1107.0" cy="521.0" r="8.6" fill="#d2d4d8"/><circle cx="1126.3" cy="521.0" r="8.6" fill="#7b54a8"/><circle cx="1145.6" cy="521.0" r="8.6" fill="#e27d79"/><circle cx="1164.9" cy="521.0" r="8.6" fill="#7b54a8"/><circle cx="1184.2" cy="521.0" r="8.6" fill="#7b54a8"/><circle cx="1203.5" cy="521.0" r="8.6" fill="#7b54a8"/><circle cx="1222.8" cy="521.0" r="8.6" fill="#d2d4d8"/><circle cx="1242.1" cy="521.0" r="8.6" fill="#e27d79"/><circle cx="1261.4" cy="521.0" r="8.6" fill="#e27d79"/><circle cx="1280.7" cy="521.0" r="8.6" fill="#e27d79"/><circle cx="1300.0" cy="521.0" r="8.6" fill="#e27d79"/><circle cx="1319.3" cy="521.0" r="8.6" fill="#e27d79"/><circle cx="1338.6" cy="521.0" r="8.6" fill="#d2d4d8"/><circle cx="885.0" cy="537.8" r="8.6" fill="#d2d4d8"/><circle cx="904.4" cy="537.8" r="8.6" fill="#e27d79"/><circle cx="923.6" cy="537.8" r="8.6" fill="#e27d79"/><circle cx="942.9" cy="537.8" r="8.6" fill="#7b54a8"/><circle cx="962.2" cy="537.8" r="8.6" fill="#e27d79"/><circle cx="981.5" cy="537.8" r="8.6" fill="#e27d79"/><circle cx="1000.9" cy="537.8" r="8.6" fill="#e27d79"/><circle cx="1020.1" cy="537.8" r="8.6" fill="#d2d4d8"/><circle cx="1039.5" cy="537.8" r="8.6" fill="#7b54a8"/><circle cx="1058.8" cy="537.8" r="8.6" fill="#7b54a8"/><circle cx="1078.1" cy="537.8" r="8.6" fill="#d2d4d8"/><circle cx="1097.4" cy="537.8" r="8.6" fill="#d2d4d8"/><circle cx="1116.7" cy="537.8" r="8.6" fill="#e27d79"/><circle cx="1136.0" cy="537.8" r="8.6" fill="#7b54a8"/><circle cx="1155.2" cy="537.8" r="8.6" fill="#e27d79"/><circle cx="1174.6" cy="537.8" r="8.6" fill="#7b54a8"/><circle cx="1193.9" cy="537.8" r="8.6" fill="#d2d4d8"/><circle cx="1213.2" cy="537.8" r="8.6" fill="#e27d79"/><circle cx="1232.5" cy="537.8" r="8.6" fill="#e27d79"/><circle cx="1251.8" cy="537.8" r="8.6" fill="#d2d4d8"/><circle cx="1271.1" cy="537.8" r="8.6" fill="#7b54a8"/><circle cx="1290.4" cy="537.8" r="8.6" fill="#e27d79"/><circle cx="1309.7" cy="537.8" r="8.6" fill="#d2d4d8"/><circle cx="1329.0" cy="537.8" r="8.6" fill="#e27d79"/><circle cx="894.7" cy="554.6" r="8.6" fill="#d2d4d8"/><circle cx="914.0" cy="554.6" r="8.6" fill="#d2d4d8"/><circle cx="933.3" cy="554.6" r="8.6" fill="#e27d79"/><circle cx="952.6" cy="554.6" r="8.6" fill="#7b54a8"/><circle cx="971.9" cy="554.6" r="8.6" fill="#e27d79"/><circle cx="991.2" cy="554.6" r="8.6" fill="#e27d79"/><circle cx="1010.5" cy="554.6" r="8.6" fill="#e27d79"/><circle cx="1029.8" cy="554.6" r="8.6" fill="#7b54a8"/><circle cx="1049.1" cy="554.6" r="8.6" fill="#7b54a8"/><circle cx="1068.4" cy="554.6" r="8.6" fill="#7b54a8"/><circle cx="1087.7" cy="554.6" r="8.6" fill="#e27d79"/><circle cx="1107.0" cy="554.6" r="8.6" fill="#d2d4d8"/><circle cx="1126.3" cy="554.6" r="8.6" fill="#e27d79"/><circle cx="1145.6" cy="554.6" r="8.6" fill="#e27d79"/><circle cx="1164.9" cy="554.6" r="8.6" fill="#d2d4d8"/><circle cx="1184.2" cy="554.6" r="8.6" fill="#d2d4d8"/><circle cx="1203.5" cy="554.6" r="8.6" fill="#e27d79"/><circle cx="1222.8" cy="554.6" r="8.6" fill="#e27d79"/><circle cx="1242.1" cy="554.6" r="8.6" fill="#d2d4d8"/><circle cx="1261.4" cy="554.6" r="8.6" fill="#e27d79"/><circle cx="1280.7" cy="554.6" r="8.6" fill="#d2d4d8"/><circle cx="1300.0" cy="554.6" r="8.6" fill="#d2d4d8"/><circle cx="1319.3" cy="554.6" r="8.6" fill="#7b54a8"/><circle cx="904.4" cy="571.4" r="8.6" fill="#e27d79"/><circle cx="923.6" cy="571.4" r="8.6" fill="#e27d79"/><circle cx="942.9" cy="571.4" r="8.6" fill="#e27d79"/><circle cx="962.2" cy="571.4" r="8.6" fill="#e27d79"/><circle cx="981.5" cy="571.4" r="8.6" fill="#7b54a8"/><circle cx="1000.9" cy="571.4" r="8.6" fill="#d2d4d8"/><circle cx="1020.1" cy="571.4" r="8.6" fill="#e27d79"/><circle cx="1039.5" cy="571.4" r="8.6" fill="#e27d79"/><circle cx="1058.8" cy="571.4" r="8.6" fill="#e27d79"/><circle cx="1078.1" cy="571.4" r="8.6" fill="#d2d4d8"/><circle cx="1097.4" cy="571.4" r="8.6" fill="#d2d4d8"/><circle cx="1116.7" cy="571.4" r="8.6" fill="#e27d79"/><circle cx="1136.0" cy="571.4" r="8.6" fill="#e27d79"/><circle cx="1155.2" cy="571.4" r="8.6" fill="#e27d79"/><circle cx="1174.6" cy="571.4" r="8.6" fill="#7b54a8"/><circle cx="1193.9" cy="571.4" r="8.6" fill="#e27d79"/><circle cx="1213.2" cy="571.4" r="8.6" fill="#e27d79"/><circle cx="1232.5" cy="571.4" r="8.6" fill="#e27d79"/><circle cx="1251.8" cy="571.4" r="8.6" fill="#e27d79"/><circle cx="1271.1" cy="571.4" r="8.6" fill="#e27d79"/><circle cx="1290.4" cy="571.4" r="8.6" fill="#d2d4d8"/><circle cx="1309.7" cy="571.4" r="8.6" fill="#d2d4d8"/><circle cx="933.3" cy="588.2" r="8.6" fill="#d2d4d8"/><circle cx="952.6" cy="588.2" r="8.6" fill="#e27d79"/><circle cx="971.9" cy="588.2" r="8.6" fill="#7b54a8"/><circle cx="991.2" cy="588.2" r="8.6" fill="#d2d4d8"/><circle cx="1010.5" cy="588.2" r="8.6" fill="#e27d79"/><circle cx="1029.8" cy="588.2" r="8.6" fill="#d2d4d8"/><circle cx="1049.1" cy="588.2" r="8.6" fill="#7b54a8"/><circle cx="1068.4" cy="588.2" r="8.6" fill="#7b54a8"/><circle cx="1087.7" cy="588.2" r="8.6" fill="#e27d79"/><circle cx="1107.0" cy="588.2" r="8.6" fill="#d2d4d8"/><circle cx="1126.3" cy="588.2" r="8.6" fill="#e27d79"/><circle cx="1145.6" cy="588.2" r="8.6" fill="#e27d79"/><circle cx="1164.9" cy="588.2" r="8.6" fill="#e27d79"/><circle cx="1184.2" cy="588.2" r="8.6" fill="#d2d4d8"/><circle cx="1203.5" cy="588.2" r="8.6" fill="#7b54a8"/><circle cx="1222.8" cy="588.2" r="8.6" fill="#7b54a8"/><circle cx="1242.1" cy="588.2" r="8.6" fill="#e27d79"/><circle cx="1261.4" cy="588.2" r="8.6" fill="#e27d79"/><circle cx="1280.7" cy="588.2" r="8.6" fill="#e27d79"/><circle cx="962.2" cy="605.0" r="8.6" fill="#d2d4d8"/><circle cx="981.5" cy="605.0" r="8.6" fill="#e27d79"/><circle cx="1000.9" cy="605.0" r="8.6" fill="#e27d79"/><circle cx="1020.1" cy="605.0" r="8.6" fill="#e27d79"/><circle cx="1039.5" cy="605.0" r="8.6" fill="#e27d79"/><circle cx="1058.8" cy="605.0" r="8.6" fill="#e27d79"/><circle cx="1078.1" cy="605.0" r="8.6" fill="#e27d79"/><circle cx="1097.4" cy="605.0" r="8.6" fill="#7b54a8"/><circle cx="1116.7" cy="605.0" r="8.6" fill="#e27d79"/><circle cx="1136.0" cy="605.0" r="8.6" fill="#d2d4d8"/><circle cx="1155.2" cy="605.0" r="8.6" fill="#e27d79"/><circle cx="1174.6" cy="605.0" r="8.6" fill="#d2d4d8"/><circle cx="1193.9" cy="605.0" r="8.6" fill="#e27d79"/><circle cx="1213.2" cy="605.0" r="8.6" fill="#7b54a8"/><circle cx="1232.5" cy="605.0" r="8.6" fill="#d2d4d8"/><circle cx="1251.8" cy="605.0" r="8.6" fill="#d2d4d8"/><circle cx="991.2" cy="621.8" r="8.6" fill="#d2d4d8"/><circle cx="1010.5" cy="621.8" r="8.6" fill="#e27d79"/><circle cx="1029.8" cy="621.8" r="8.6" fill="#e27d79"/><circle cx="1049.1" cy="621.8" r="8.6" fill="#d2d4d8"/><circle cx="1068.4" cy="621.8" r="8.6" fill="#e27d79"/><circle cx="1087.7" cy="621.8" r="8.6" fill="#e27d79"/><circle cx="1107.0" cy="621.8" r="8.6" fill="#e27d79"/><circle cx="1126.3" cy="621.8" r="8.6" fill="#d2d4d8"/><circle cx="1145.6" cy="621.8" r="8.6" fill="#e27d79"/><circle cx="1164.9" cy="621.8" r="8.6" fill="#e27d79"/><circle cx="1184.2" cy="621.8" r="8.6" fill="#e27d79"/><circle cx="1203.5" cy="621.8" r="8.6" fill="#d2d4d8"/><circle cx="1222.8" cy="621.8" r="8.6" fill="#e27d79"/><circle cx="1020.1" cy="638.6" r="8.6" fill="#e27d79"/><circle cx="1039.5" cy="638.6" r="8.6" fill="#e27d79"/><circle cx="1058.8" cy="638.6" r="8.6" fill="#e27d79"/><circle cx="1078.1" cy="638.6" r="8.6" fill="#7b54a8"/><circle cx="1097.4" cy="638.6" r="8.6" fill="#d2d4d8"/><circle cx="1116.7" cy="638.6" r="8.6" fill="#d2d4d8"/><circle cx="1136.0" cy="638.6" r="8.6" fill="#d2d4d8"/><circle cx="1155.2" cy="638.6" r="8.6" fill="#e27d79"/><circle cx="1174.6" cy="638.6" r="8.6" fill="#e27d79"/><circle cx="1193.9" cy="638.6" r="8.6" fill="#e27d79"/><path d="M183,762 L183,1440 L858,1440" fill="none" stroke="#8a8a8a" stroke-width="4"/><g font-size="29" fill="#333" text-anchor="end"><text x="176" y="795">30</text><text x="176" y="893">20</text><text x="176" y="990">10</text><text x="176" y="1087">0</text><text x="176" y="1185">-10</text><text x="176" y="1283">-20</text><text x="176" y="1380">-30</text></g><g font-size="29" fill="#333" text-anchor="middle"><text x="195" y="1480">-30</text><text x="300" y="1480">-20</text><text x="408" y="1480">-10</text><text x="515" y="1480">0</text><text x="620" y="1480">10</text><text x="728" y="1480">20</text><text x="835" y="1480">30</text><text x="527" y="1537" font-size="32">t-SNE1</text><text transform="translate(98,1085) rotate(-90)" font-size="32">t-SNE2</text></g><circle cx="283.4" cy="857.4" r="7.2" fill="#17877e"/><circle cx="298.3" cy="860.5" r="7.2" fill="#17877e"/><circle cx="313.0" cy="855.6" r="7.2" fill="#17877e"/><circle cx="237.0" cy="876.6" r="7.2" fill="#17877e"/><circle cx="274.3" cy="872.4" r="7.2" fill="#17877e"/><circle cx="293.2" cy="870.8" r="7.2" fill="#17877e"/><circle cx="328.5" cy="873.6" r="7.2" fill="#17877e"/><circle cx="225.0" cy="887.5" r="7.2" fill="#17877e"/><circle cx="246.2" cy="887.6" r="7.2" fill="#17877e"/><circle cx="297.1" cy="885.9" r="7.2" fill="#17877e"/><circle cx="316.7" cy="890.9" r="7.2" fill="#17877e"/><circle cx="354.1" cy="886.7" r="7.2" fill="#17877e"/><circle cx="239.3" cy="906.7" r="7.2" fill="#17877e"/><circle cx="254.4" cy="907.6" r="7.2" fill="#17877e"/><circle cx="270.9" cy="905.7" r="7.2" fill="#17877e"/><circle cx="292.8" cy="905.0" r="7.2" fill="#17877e"/><circle cx="303.8" cy="902.9" r="7.2" fill="#17877e"/><circle cx="324.3" cy="902.4" r="7.2" fill="#17877e"/><circle cx="344.1" cy="906.4" r="7.2" fill="#17877e"/><circle cx="228.3" cy="920.3" r="7.2" fill="#17877e"/><circle cx="246.4" cy="919.4" r="7.2" fill="#17877e"/><circle cx="260.0" cy="916.6" r="7.2" fill="#17877e"/><circle cx="285.1" cy="921.0" r="7.2" fill="#17877e"/><circle cx="296.1" cy="920.2" r="7.2" fill="#17877e"/><circle cx="318.4" cy="920.5" r="7.2" fill="#17877e"/><circle cx="331.6" cy="920.3" r="7.2" fill="#17877e"/><circle cx="351.9" cy="919.9" r="7.2" fill="#17877e"/><circle cx="237.9" cy="939.1" r="7.2" fill="#17877e"/><circle cx="275.1" cy="938.5" r="7.2" fill="#17877e"/><circle cx="292.5" cy="935.6" r="7.2" fill="#17877e"/><circle cx="306.9" cy="931.9" r="7.2" fill="#17877e"/><circle cx="325.6" cy="933.0" r="7.2" fill="#17877e"/><circle cx="342.4" cy="934.3" r="7.2" fill="#17877e"/><circle cx="264.1" cy="951.7" r="7.2" fill="#17877e"/><circle cx="280.9" cy="946.9" r="7.2" fill="#17877e"/><circle cx="286.1" cy="1005.1" r="7.2" fill="#86c3ee"/><circle cx="319.4" cy="1010.0" r="7.2" fill="#86c3ee"/><circle cx="257.1" cy="1024.7" r="7.2" fill="#86c3ee"/><circle cx="271.0" cy="1023.3" r="7.2" fill="#86c3ee"/><circle cx="293.0" cy="1027.8" r="7.2" fill="#86c3ee"/><circle cx="309.1" cy="1023.4" r="7.2" fill="#86c3ee"/><circle cx="322.5" cy="1020.1" r="7.2" fill="#86c3ee"/><circle cx="342.3" cy="1022.9" r="7.2" fill="#86c3ee"/><circle cx="247.7" cy="1039.6" r="7.2" fill="#86c3ee"/><circle cx="297.1" cy="1039.2" r="7.2" fill="#86c3ee"/><circle cx="318.9" cy="1036.6" r="7.2" fill="#86c3ee"/><circle cx="337.4" cy="1041.0" r="7.2" fill="#86c3ee"/><circle cx="354.6" cy="1041.4" r="7.2" fill="#86c3ee"/><circle cx="242.6" cy="1058.0" r="7.2" fill="#86c3ee"/><circle cx="275.5" cy="1054.0" r="7.2" fill="#86c3ee"/><circle cx="291.2" cy="1057.7" r="7.2" fill="#86c3ee"/><circle cx="311.4" cy="1053.2" r="7.2" fill="#86c3ee"/><circle cx="329.4" cy="1054.0" r="7.2" fill="#86c3ee"/><circle cx="347.1" cy="1056.1" r="7.2" fill="#86c3ee"/><circle cx="359.0" cy="1052.9" r="7.2" fill="#86c3ee"/><circle cx="227.3" cy="1072.8" r="7.2" fill="#86c3ee"/><circle cx="250.8" cy="1068.0" r="7.2" fill="#86c3ee"/><circle cx="266.6" cy="1069.6" r="7.2" fill="#86c3ee"/><circle cx="283.7" cy="1070.3" r="7.2" fill="#86c3ee"/><circle cx="297.7" cy="1069.6" r="7.2" fill="#86c3ee"/><circle cx="318.5" cy="1066.2" r="7.2" fill="#86c3ee"/><circle cx="336.8" cy="1072.8" r="7.2" fill="#86c3ee"/><circle cx="366.5" cy="1070.8" r="7.2" fill="#86c3ee"/><circle cx="236.6" cy="1087.8" r="7.2" fill="#86c3ee"/><circle cx="276.6" cy="1082.7" r="7.2" fill="#86c3ee"/><circle cx="308.1" cy="1086.5" r="7.2" fill="#86c3ee"/><circle cx="341.1" cy="1086.2" r="7.2" fill="#86c3ee"/><circle cx="226.2" cy="1101.8" r="7.2" fill="#86c3ee"/><circle cx="267.5" cy="1097.3" r="7.2" fill="#86c3ee"/><circle cx="299.1" cy="1096.3" r="7.2" fill="#86c3ee"/><circle cx="314.7" cy="1096.3" r="7.2" fill="#86c3ee"/><circle cx="335.9" cy="1101.9" r="7.2" fill="#86c3ee"/><circle cx="366.2" cy="1099.6" r="7.2" fill="#86c3ee"/><circle cx="240.7" cy="1118.4" r="7.2" fill="#86c3ee"/><circle cx="259.1" cy="1116.9" r="7.2" fill="#86c3ee"/><circle cx="271.6" cy="1116.5" r="7.2" fill="#86c3ee"/><circle cx="288.1" cy="1114.8" r="7.2" fill="#86c3ee"/><circle cx="305.8" cy="1115.9" r="7.2" fill="#86c3ee"/><circle cx="326.4" cy="1112.4" r="7.2" fill="#86c3ee"/><circle cx="341.8" cy="1116.1" r="7.2" fill="#86c3ee"/><circle cx="357.4" cy="1115.7" r="7.2" fill="#86c3ee"/><circle cx="317.6" cy="1134.3" r="7.2" fill="#86c3ee"/><circle cx="339.0" cy="1128.3" r="7.2" fill="#86c3ee"/><circle cx="350.5" cy="1131.2" r="7.2" fill="#86c3ee"/><circle cx="372.4" cy="1132.1" r="7.2" fill="#86c3ee"/><circle cx="238.1" cy="1145.9" r="7.2" fill="#86c3ee"/><circle cx="288.1" cy="1147.5" r="7.2" fill="#86c3ee"/><circle cx="264.7" cy="1159.4" r="7.2" fill="#86c3ee"/><circle cx="280.2" cy="1164.2" r="7.2" fill="#86c3ee"/><circle cx="301.8" cy="1160.4" r="7.2" fill="#86c3ee"/><circle cx="318.1" cy="1157.3" r="7.2" fill="#86c3ee"/><circle cx="335.2" cy="1158.3" r="7.2" fill="#86c3ee"/><circle cx="255.2" cy="1176.3" r="7.2" fill="#86c3ee"/><circle cx="274.6" cy="1174.4" r="7.2" fill="#86c3ee"/><circle cx="290.2" cy="1172.3" r="7.2" fill="#86c3ee"/><circle cx="305.6" cy="1174.6" r="7.2" fill="#86c3ee"/><circle cx="327.6" cy="1172.3" r="7.2" fill="#86c3ee"/><circle cx="343.0" cy="1176.0" r="7.2" fill="#86c3ee"/><circle cx="296.6" cy="1189.6" r="7.2" fill="#86c3ee"/><circle cx="321.0" cy="1188.0" r="7.2" fill="#86c3ee"/><circle cx="500.2" cy="963.8" r="7.2" fill="#4a6eb6"/><circle cx="515.3" cy="959.1" r="7.2" fill="#4a6eb6"/><circle cx="534.3" cy="960.8" r="7.2" fill="#4a6eb6"/><circle cx="457.3" cy="980.9" r="7.2" fill="#4a6eb6"/><circle cx="476.1" cy="975.4" r="7.2" fill="#4a6eb6"/><circle cx="495.4" cy="978.4" r="7.2" fill="#4a6eb6"/><circle cx="511.4" cy="974.7" r="7.2" fill="#4a6eb6"/><circle cx="528.2" cy="976.6" r="7.2" fill="#4a6eb6"/><circle cx="562.3" cy="980.0" r="7.2" fill="#4a6eb6"/><circle cx="450.5" cy="996.8" r="7.2" fill="#4a6eb6"/><circle cx="468.7" cy="993.0" r="7.2" fill="#4a6eb6"/><circle cx="486.8" cy="990.2" r="7.2" fill="#4a6eb6"/><circle cx="535.7" cy="994.4" r="7.2" fill="#4a6eb6"/><circle cx="553.8" cy="992.5" r="7.2" fill="#4a6eb6"/><circle cx="571.9" cy="994.1" r="7.2" fill="#4a6eb6"/><circle cx="441.5" cy="1012.1" r="7.2" fill="#4a6eb6"/><circle cx="461.4" cy="1010.0" r="7.2" fill="#4a6eb6"/><circle cx="496.2" cy="1011.9" r="7.2" fill="#4a6eb6"/><circle cx="511.7" cy="1006.3" r="7.2" fill="#4a6eb6"/><circle cx="528.1" cy="1006.9" r="7.2" fill="#4a6eb6"/><circle cx="566.4" cy="1005.4" r="7.2" fill="#4a6eb6"/><circle cx="579.3" cy="1005.9" r="7.2" fill="#4a6eb6"/><circle cx="450.9" cy="1026.9" r="7.2" fill="#4a6eb6"/><circle cx="480.1" cy="1025.6" r="7.2" fill="#4a6eb6"/><circle cx="504.3" cy="1027.7" r="7.2" fill="#4a6eb6"/><circle cx="522.7" cy="1022.4" r="7.2" fill="#4a6eb6"/><circle cx="550.0" cy="1021.5" r="7.2" fill="#4a6eb6"/><circle cx="572.1" cy="1021.1" r="7.2" fill="#4a6eb6"/><circle cx="456.0" cy="1042.8" r="7.2" fill="#4a6eb6"/><circle cx="474.0" cy="1038.8" r="7.2" fill="#4a6eb6"/><circle cx="493.7" cy="1039.9" r="7.2" fill="#4a6eb6"/><circle cx="511.0" cy="1042.6" r="7.2" fill="#4a6eb6"/><circle cx="526.9" cy="1040.9" r="7.2" fill="#4a6eb6"/><circle cx="566.3" cy="1039.3" r="7.2" fill="#4a6eb6"/><circle cx="576.1" cy="1038.4" r="7.2" fill="#4a6eb6"/><circle cx="427.4" cy="1055.3" r="7.2" fill="#4a6eb6"/><circle cx="445.2" cy="1055.3" r="7.2" fill="#4a6eb6"/><circle cx="467.7" cy="1053.1" r="7.2" fill="#4a6eb6"/><circle cx="485.7" cy="1050.5" r="7.2" fill="#4a6eb6"/><circle cx="522.5" cy="1052.3" r="7.2" fill="#4a6eb6"/><circle cx="537.0" cy="1052.9" r="7.2" fill="#4a6eb6"/><circle cx="552.3" cy="1053.3" r="7.2" fill="#4a6eb6"/><circle cx="569.7" cy="1053.3" r="7.2" fill="#4a6eb6"/><circle cx="585.0" cy="1054.9" r="7.2" fill="#4a6eb6"/><circle cx="421.0" cy="1067.3" r="7.2" fill="#4a6eb6"/><circle cx="437.9" cy="1067.0" r="7.2" fill="#4a6eb6"/><circle cx="459.1" cy="1066.4" r="7.2" fill="#4a6eb6"/><circle cx="473.7" cy="1072.2" r="7.2" fill="#4a6eb6"/><circle cx="495.3" cy="1066.9" r="7.2" fill="#4a6eb6"/><circle cx="511.2" cy="1072.6" r="7.2" fill="#4a6eb6"/><circle cx="525.3" cy="1066.5" r="7.2" fill="#4a6eb6"/><circle cx="542.5" cy="1072.0" r="7.2" fill="#4a6eb6"/><circle cx="560.0" cy="1067.8" r="7.2" fill="#4a6eb6"/><circle cx="581.1" cy="1072.0" r="7.2" fill="#4a6eb6"/><circle cx="594.5" cy="1067.9" r="7.2" fill="#4a6eb6"/><circle cx="429.4" cy="1083.5" r="7.2" fill="#4a6eb6"/><circle cx="448.1" cy="1084.1" r="7.2" fill="#4a6eb6"/><circle cx="463.5" cy="1080.8" r="7.2" fill="#4a6eb6"/><circle cx="486.8" cy="1088.7" r="7.2" fill="#4a6eb6"/><circle cx="504.9" cy="1088.2" r="7.2" fill="#4a6eb6"/><circle cx="538.9" cy="1086.1" r="7.2" fill="#4a6eb6"/><circle cx="552.1" cy="1083.5" r="7.2" fill="#4a6eb6"/><circle cx="420.8" cy="1102.5" r="7.2" fill="#4a6eb6"/><circle cx="459.0" cy="1103.4" r="7.2" fill="#4a6eb6"/><circle cx="478.2" cy="1100.6" r="7.2" fill="#4a6eb6"/><circle cx="507.4" cy="1098.4" r="7.2" fill="#4a6eb6"/><circle cx="527.7" cy="1099.3" r="7.2" fill="#4a6eb6"/><circle cx="545.9" cy="1098.7" r="7.2" fill="#4a6eb6"/><circle cx="565.4" cy="1099.8" r="7.2" fill="#4a6eb6"/><circle cx="578.8" cy="1097.6" r="7.2" fill="#4a6eb6"/><circle cx="600.0" cy="1097.4" r="7.2" fill="#4a6eb6"/><circle cx="434.6" cy="1117.7" r="7.2" fill="#4a6eb6"/><circle cx="444.8" cy="1116.3" r="7.2" fill="#4a6eb6"/><circle cx="462.6" cy="1113.4" r="7.2" fill="#4a6eb6"/><circle cx="484.0" cy="1114.6" r="7.2" fill="#4a6eb6"/><circle cx="503.5" cy="1111.2" r="7.2" fill="#4a6eb6"/><circle cx="591.6" cy="1111.9" r="7.2" fill="#4a6eb6"/><circle cx="421.0" cy="1129.0" r="7.2" fill="#4a6eb6"/><circle cx="441.2" cy="1131.1" r="7.2" fill="#4a6eb6"/><circle cx="455.0" cy="1129.1" r="7.2" fill="#4a6eb6"/><circle cx="494.2" cy="1129.5" r="7.2" fill="#4a6eb6"/><circle cx="545.8" cy="1132.7" r="7.2" fill="#4a6eb6"/><circle cx="564.9" cy="1131.4" r="7.2" fill="#4a6eb6"/><circle cx="579.0" cy="1130.4" r="7.2" fill="#4a6eb6"/><circle cx="596.9" cy="1132.0" r="7.2" fill="#4a6eb6"/><circle cx="429.2" cy="1146.0" r="7.2" fill="#4a6eb6"/><circle cx="445.3" cy="1145.1" r="7.2" fill="#4a6eb6"/><circle cx="469.3" cy="1149.2" r="7.2" fill="#4a6eb6"/><circle cx="486.9" cy="1148.0" r="7.2" fill="#4a6eb6"/><circle cx="501.0" cy="1142.7" r="7.2" fill="#4a6eb6"/><circle cx="520.0" cy="1148.8" r="7.2" fill="#4a6eb6"/><circle cx="537.6" cy="1147.5" r="7.2" fill="#4a6eb6"/><circle cx="550.6" cy="1146.4" r="7.2" fill="#4a6eb6"/><circle cx="436.4" cy="1157.6" r="7.2" fill="#4a6eb6"/><circle cx="472.4" cy="1157.1" r="7.2" fill="#4a6eb6"/><circle cx="489.5" cy="1163.7" r="7.2" fill="#4a6eb6"/><circle cx="512.7" cy="1164.5" r="7.2" fill="#4a6eb6"/><circle cx="529.9" cy="1157.2" r="7.2" fill="#4a6eb6"/><circle cx="545.1" cy="1162.6" r="7.2" fill="#4a6eb6"/><circle cx="583.5" cy="1157.4" r="7.2" fill="#4a6eb6"/><circle cx="449.3" cy="1178.7" r="7.2" fill="#4a6eb6"/><circle cx="520.8" cy="1175.3" r="7.2" fill="#4a6eb6"/><circle cx="535.4" cy="1174.9" r="7.2" fill="#4a6eb6"/><circle cx="550.4" cy="1176.1" r="7.2" fill="#4a6eb6"/><circle cx="570.6" cy="1178.1" r="7.2" fill="#4a6eb6"/><circle cx="459.5" cy="1192.7" r="7.2" fill="#4a6eb6"/><circle cx="474.9" cy="1192.5" r="7.2" fill="#4a6eb6"/><circle cx="489.7" cy="1188.1" r="7.2" fill="#4a6eb6"/><circle cx="513.3" cy="1191.5" r="7.2" fill="#4a6eb6"/><circle cx="529.3" cy="1188.8" r="7.2" fill="#4a6eb6"/><circle cx="542.6" cy="1192.0" r="7.2" fill="#4a6eb6"/><circle cx="560.4" cy="1192.9" r="7.2" fill="#4a6eb6"/><circle cx="578.4" cy="1193.0" r="7.2" fill="#4a6eb6"/><circle cx="451.6" cy="1207.3" r="7.2" fill="#4a6eb6"/><circle cx="464.0" cy="1202.8" r="7.2" fill="#4a6eb6"/><circle cx="482.8" cy="1204.0" r="7.2" fill="#4a6eb6"/><circle cx="499.8" cy="1208.8" r="7.2" fill="#4a6eb6"/><circle cx="536.1" cy="1207.4" r="7.2" fill="#4a6eb6"/><circle cx="556.4" cy="1209.1" r="7.2" fill="#4a6eb6"/><circle cx="571.1" cy="1208.3" r="7.2" fill="#4a6eb6"/><circle cx="456.7" cy="1223.7" r="7.2" fill="#4a6eb6"/><circle cx="474.7" cy="1219.6" r="7.2" fill="#4a6eb6"/><circle cx="511.4" cy="1225.5" r="7.2" fill="#4a6eb6"/><circle cx="525.4" cy="1219.3" r="7.2" fill="#4a6eb6"/><circle cx="542.5" cy="1223.4" r="7.2" fill="#4a6eb6"/><circle cx="565.7" cy="1219.8" r="7.2" fill="#4a6eb6"/><circle cx="482.3" cy="1236.4" r="7.2" fill="#4a6eb6"/><circle cx="497.9" cy="1233.8" r="7.2" fill="#4a6eb6"/><circle cx="517.1" cy="1235.9" r="7.2" fill="#4a6eb6"/><circle cx="537.7" cy="1233.1" r="7.2" fill="#4a6eb6"/><circle cx="394.8" cy="936.9" r="7.2" fill="#4a6eb6"/><circle cx="412.5" cy="937.5" r="7.2" fill="#4a6eb6"/><circle cx="426.2" cy="935.5" r="7.2" fill="#4a6eb6"/><circle cx="446.3" cy="938.1" r="7.2" fill="#4a6eb6"/><circle cx="384.6" cy="953.1" r="7.2" fill="#4a6eb6"/><circle cx="400.9" cy="948.0" r="7.2" fill="#4a6eb6"/><circle cx="416.4" cy="950.4" r="7.2" fill="#4a6eb6"/><circle cx="436.9" cy="952.3" r="7.2" fill="#4a6eb6"/><circle cx="455.4" cy="951.0" r="7.2" fill="#4a6eb6"/><circle cx="409.5" cy="962.5" r="7.2" fill="#4a6eb6"/><circle cx="430.7" cy="961.8" r="7.2" fill="#4a6eb6"/><circle cx="444.2" cy="963.0" r="7.2" fill="#4a6eb6"/><circle cx="383.4" cy="979.2" r="7.2" fill="#4a6eb6"/><circle cx="457.0" cy="980.5" r="7.2" fill="#4a6eb6"/><circle cx="425.2" cy="993.4" r="7.2" fill="#4a6eb6"/><circle cx="384.7" cy="1010.2" r="7.2" fill="#4a6eb6"/><circle cx="402.8" cy="1012.7" r="7.2" fill="#4a6eb6"/><circle cx="416.6" cy="1010.3" r="7.2" fill="#4a6eb6"/><circle cx="439.7" cy="1007.3" r="7.2" fill="#4a6eb6"/><circle cx="451.1" cy="1010.8" r="7.2" fill="#4a6eb6"/><circle cx="392.3" cy="1028.8" r="7.2" fill="#4a6eb6"/><circle cx="408.6" cy="1025.6" r="7.2" fill="#4a6eb6"/><circle cx="425.0" cy="1022.4" r="7.2" fill="#4a6eb6"/><circle cx="448.1" cy="1025.4" r="7.2" fill="#4a6eb6"/><circle cx="554.4" cy="917.5" r="7.2" fill="#4a6eb6"/><circle cx="574.3" cy="913.7" r="7.2" fill="#4a6eb6"/><circle cx="588.1" cy="913.2" r="7.2" fill="#4a6eb6"/><circle cx="542.2" cy="928.2" r="7.2" fill="#4a6eb6"/><circle cx="564.7" cy="932.0" r="7.2" fill="#4a6eb6"/><circle cx="615.4" cy="932.7" r="7.2" fill="#4a6eb6"/><circle cx="557.2" cy="945.9" r="7.2" fill="#4a6eb6"/><circle cx="569.6" cy="943.7" r="7.2" fill="#4a6eb6"/><circle cx="607.1" cy="945.8" r="7.2" fill="#4a6eb6"/><circle cx="569.7" cy="781.1" r="7.2" fill="#7a52a8"/><circle cx="514.6" cy="802.2" r="7.2" fill="#7a52a8"/><circle cx="526.5" cy="800.1" r="7.2" fill="#7a52a8"/><circle cx="543.6" cy="796.6" r="7.2" fill="#7a52a8"/><circle cx="583.9" cy="802.2" r="7.2" fill="#7a52a8"/><circle cx="596.3" cy="798.3" r="7.2" fill="#7a52a8"/><circle cx="521.9" cy="817.8" r="7.2" fill="#7a52a8"/><circle cx="534.2" cy="815.8" r="7.2" fill="#7a52a8"/><circle cx="555.0" cy="812.4" r="7.2" fill="#7a52a8"/><circle cx="569.2" cy="818.5" r="7.2" fill="#7a52a8"/><circle cx="590.4" cy="813.4" r="7.2" fill="#7a52a8"/><circle cx="511.8" cy="833.3" r="7.2" fill="#7a52a8"/><circle cx="528.8" cy="829.5" r="7.2" fill="#7a52a8"/><circle cx="545.7" cy="827.5" r="7.2" fill="#7a52a8"/><circle cx="566.3" cy="826.6" r="7.2" fill="#7a52a8"/><circle cx="597.0" cy="830.5" r="7.2" fill="#7a52a8"/><circle cx="536.2" cy="849.4" r="7.2" fill="#7a52a8"/><circle cx="570.1" cy="846.5" r="7.2" fill="#7a52a8"/><circle cx="730.7" cy="871.2" r="7.2" fill="#c2358f"/><circle cx="748.2" cy="872.3" r="7.2" fill="#c2358f"/><circle cx="784.8" cy="870.1" r="7.2" fill="#c2358f"/><circle cx="716.9" cy="883.9" r="7.2" fill="#c2358f"/><circle cx="755.6" cy="880.2" r="7.2" fill="#c2358f"/><circle cx="793.3" cy="886.2" r="7.2" fill="#c2358f"/><circle cx="708.4" cy="900.3" r="7.2" fill="#c2358f"/><circle cx="761.4" cy="897.0" r="7.2" fill="#c2358f"/><circle cx="784.2" cy="897.6" r="7.2" fill="#c2358f"/><circle cx="799.1" cy="900.7" r="7.2" fill="#c2358f"/><circle cx="704.0" cy="918.3" r="7.2" fill="#c2358f"/><circle cx="718.4" cy="913.4" r="7.2" fill="#c2358f"/><circle cx="790.8" cy="910.6" r="7.2" fill="#c2358f"/><circle cx="806.2" cy="913.0" r="7.2" fill="#c2358f"/><circle cx="693.6" cy="928.3" r="7.2" fill="#c2358f"/><circle cx="712.9" cy="926.2" r="7.2" fill="#c2358f"/><circle cx="724.9" cy="931.8" r="7.2" fill="#c2358f"/><circle cx="742.4" cy="932.1" r="7.2" fill="#c2358f"/><circle cx="764.4" cy="925.8" r="7.2" fill="#c2358f"/><circle cx="813.8" cy="931.8" r="7.2" fill="#c2358f"/><circle cx="688.5" cy="943.8" r="7.2" fill="#c2358f"/><circle cx="702.7" cy="947.2" r="7.2" fill="#c2358f"/><circle cx="739.9" cy="947.9" r="7.2" fill="#c2358f"/><circle cx="769.2" cy="943.7" r="7.2" fill="#c2358f"/><circle cx="793.3" cy="943.7" r="7.2" fill="#c2358f"/><circle cx="807.9" cy="943.5" r="7.2" fill="#c2358f"/><circle cx="822.4" cy="941.6" r="7.2" fill="#c2358f"/><circle cx="715.2" cy="957.5" r="7.2" fill="#c2358f"/><circle cx="746.5" cy="959.5" r="7.2" fill="#c2358f"/><circle cx="783.9" cy="959.9" r="7.2" fill="#c2358f"/><circle cx="795.2" cy="963.6" r="7.2" fill="#c2358f"/><circle cx="705.2" cy="972.5" r="7.2" fill="#c2358f"/><circle cx="723.6" cy="976.5" r="7.2" fill="#c2358f"/><circle cx="734.4" cy="974.9" r="7.2" fill="#c2358f"/><circle cx="770.9" cy="975.1" r="7.2" fill="#c2358f"/><circle cx="792.8" cy="979.3" r="7.2" fill="#c2358f"/><circle cx="807.4" cy="977.3" r="7.2" fill="#c2358f"/><circle cx="692.1" cy="989.9" r="7.2" fill="#c2358f"/><circle cx="732.7" cy="994.4" r="7.2" fill="#c2358f"/><circle cx="746.2" cy="989.4" r="7.2" fill="#c2358f"/><circle cx="783.5" cy="993.6" r="7.2" fill="#c2358f"/><circle cx="801.0" cy="992.9" r="7.2" fill="#c2358f"/><circle cx="817.6" cy="992.8" r="7.2" fill="#c2358f"/><circle cx="721.6" cy="1004.1" r="7.2" fill="#c2358f"/><circle cx="739.7" cy="1007.4" r="7.2" fill="#c2358f"/><circle cx="758.6" cy="1007.1" r="7.2" fill="#c2358f"/><circle cx="768.6" cy="1006.3" r="7.2" fill="#c2358f"/><circle cx="791.4" cy="1005.6" r="7.2" fill="#c2358f"/><circle cx="729.9" cy="1023.5" r="7.2" fill="#c2358f"/><circle cx="747.4" cy="1023.0" r="7.2" fill="#c2358f"/><circle cx="762.6" cy="1023.9" r="7.2" fill="#c2358f"/><circle cx="782.8" cy="1024.9" r="7.2" fill="#c2358f"/><circle cx="670.1" cy="999.0" r="7.2" fill="#c24b42"/><circle cx="681.0" cy="1000.4" r="7.2" fill="#c24b42"/><circle cx="704.6" cy="998.1" r="7.2" fill="#c24b42"/><circle cx="656.9" cy="1016.7" r="7.2" fill="#c24b42"/><circle cx="675.6" cy="1014.6" r="7.2" fill="#c24b42"/><circle cx="691.3" cy="1014.8" r="7.2" fill="#c24b42"/><circle cx="709.4" cy="1016.8" r="7.2" fill="#c24b42"/><circle cx="652.8" cy="1028.2" r="7.2" fill="#c24b42"/><circle cx="687.4" cy="1029.1" r="7.2" fill="#c24b42"/><circle cx="639.6" cy="1048.4" r="7.2" fill="#c24b42"/><circle cx="656.4" cy="1046.0" r="7.2" fill="#c24b42"/><circle cx="679.7" cy="1048.1" r="7.2" fill="#c24b42"/><circle cx="694.9" cy="1046.4" r="7.2" fill="#c24b42"/><circle cx="715.1" cy="1041.0" r="7.2" fill="#c24b42"/><circle cx="729.6" cy="1043.2" r="7.2" fill="#c24b42"/><circle cx="646.7" cy="1063.0" r="7.2" fill="#c24b42"/><circle cx="664.4" cy="1061.3" r="7.2" fill="#c24b42"/><circle cx="682.6" cy="1059.9" r="7.2" fill="#c24b42"/><circle cx="642.8" cy="1071.3" r="7.2" fill="#c24b42"/><circle cx="654.9" cy="1073.9" r="7.2" fill="#c24b42"/><circle cx="677.2" cy="1073.7" r="7.2" fill="#c24b42"/><circle cx="692.9" cy="1072.2" r="7.2" fill="#c24b42"/><circle cx="707.7" cy="1074.6" r="7.2" fill="#c24b42"/><circle cx="727.9" cy="1079.1" r="7.2" fill="#c24b42"/><circle cx="670.6" cy="1091.8" r="7.2" fill="#c24b42"/><circle cx="684.6" cy="1093.1" r="7.2" fill="#c24b42"/><circle cx="702.6" cy="1090.2" r="7.2" fill="#c24b42"/><circle cx="719.3" cy="1087.1" r="7.2" fill="#c24b42"/><circle cx="656.9" cy="1105.6" r="7.2" fill="#c24b42"/><circle cx="673.6" cy="1101.8" r="7.2" fill="#c24b42"/><circle cx="710.1" cy="1103.7" r="7.2" fill="#c24b42"/><circle cx="670.9" cy="1118.9" r="7.2" fill="#c24b42"/><circle cx="688.0" cy="1121.8" r="7.2" fill="#c24b42"/><circle cx="702.3" cy="1120.7" r="7.2" fill="#c24b42"/><circle cx="684.7" cy="1149.9" r="7.2" fill="#7b4631"/><circle cx="721.4" cy="1145.1" r="7.2" fill="#7b4631"/><circle cx="657.5" cy="1163.3" r="7.2" fill="#7b4631"/><circle cx="716.4" cy="1160.9" r="7.2" fill="#7b4631"/><circle cx="752.3" cy="1164.5" r="7.2" fill="#7b4631"/><circle cx="656.3" cy="1175.5" r="7.2" fill="#7b4631"/><circle cx="668.3" cy="1176.3" r="7.2" fill="#7b4631"/><circle cx="707.5" cy="1176.5" r="7.2" fill="#7b4631"/><circle cx="723.6" cy="1178.1" r="7.2" fill="#7b4631"/><circle cx="736.5" cy="1175.6" r="7.2" fill="#7b4631"/><circle cx="643.2" cy="1192.8" r="7.2" fill="#7b4631"/><circle cx="660.9" cy="1192.7" r="7.2" fill="#7b4631"/><circle cx="680.3" cy="1192.3" r="7.2" fill="#7b4631"/><circle cx="696.5" cy="1197.3" r="7.2" fill="#7b4631"/><circle cx="712.1" cy="1198.2" r="7.2" fill="#7b4631"/><circle cx="750.8" cy="1191.5" r="7.2" fill="#7b4631"/><circle cx="762.6" cy="1195.7" r="7.2" fill="#7b4631"/><circle cx="635.6" cy="1212.6" r="7.2" fill="#7b4631"/><circle cx="654.1" cy="1210.3" r="7.2" fill="#7b4631"/><circle cx="669.6" cy="1212.3" r="7.2" fill="#7b4631"/><circle cx="687.3" cy="1210.9" r="7.2" fill="#7b4631"/><circle cx="723.7" cy="1213.5" r="7.2" fill="#7b4631"/><circle cx="738.3" cy="1208.6" r="7.2" fill="#7b4631"/><circle cx="753.7" cy="1209.2" r="7.2" fill="#7b4631"/><circle cx="675.8" cy="1222.8" r="7.2" fill="#7b4631"/><circle cx="699.2" cy="1221.4" r="7.2" fill="#7b4631"/><circle cx="714.1" cy="1227.8" r="7.2" fill="#7b4631"/><circle cx="734.2" cy="1223.0" r="7.2" fill="#7b4631"/><circle cx="747.6" cy="1227.8" r="7.2" fill="#7b4631"/><circle cx="763.5" cy="1222.2" r="7.2" fill="#7b4631"/><circle cx="670.7" cy="1238.1" r="7.2" fill="#7b4631"/><circle cx="704.0" cy="1240.5" r="7.2" fill="#7b4631"/><circle cx="724.0" cy="1240.1" r="7.2" fill="#7b4631"/><circle cx="741.4" cy="1236.4" r="7.2" fill="#7b4631"/><circle cx="759.7" cy="1243.0" r="7.2" fill="#7b4631"/><circle cx="774.1" cy="1239.2" r="7.2" fill="#7b4631"/><circle cx="657.7" cy="1251.8" r="7.2" fill="#7b4631"/><circle cx="710.2" cy="1251.2" r="7.2" fill="#7b4631"/><circle cx="762.5" cy="1258.2" r="7.2" fill="#7b4631"/><circle cx="632.2" cy="1268.5" r="7.2" fill="#7b4631"/><circle cx="651.4" cy="1267.4" r="7.2" fill="#7b4631"/><circle cx="673.9" cy="1270.2" r="7.2" fill="#7b4631"/><circle cx="684.2" cy="1267.3" r="7.2" fill="#7b4631"/><circle cx="703.1" cy="1273.1" r="7.2" fill="#7b4631"/><circle cx="757.7" cy="1267.6" r="7.2" fill="#7b4631"/><circle cx="771.2" cy="1270.7" r="7.2" fill="#7b4631"/><circle cx="646.7" cy="1287.2" r="7.2" fill="#7b4631"/><circle cx="660.2" cy="1283.0" r="7.2" fill="#7b4631"/><circle cx="679.0" cy="1287.9" r="7.2" fill="#7b4631"/><circle cx="694.0" cy="1288.2" r="7.2" fill="#7b4631"/><circle cx="716.6" cy="1288.1" r="7.2" fill="#7b4631"/><circle cx="733.2" cy="1283.5" r="7.2" fill="#7b4631"/><circle cx="747.6" cy="1281.9" r="7.2" fill="#7b4631"/><circle cx="650.6" cy="1302.4" r="7.2" fill="#7b4631"/><circle cx="669.6" cy="1304.4" r="7.2" fill="#7b4631"/><circle cx="691.1" cy="1299.8" r="7.2" fill="#7b4631"/><circle cx="664.5" cy="1318.8" r="7.2" fill="#7b4631"/><circle cx="680.0" cy="1318.5" r="7.2" fill="#7b4631"/><circle cx="717.0" cy="1318.4" r="7.2" fill="#7b4631"/><circle cx="731.1" cy="1313.6" r="7.2" fill="#7b4631"/><circle cx="747.4" cy="1318.5" r="7.2" fill="#7b4631"/><circle cx="686.7" cy="1330.6" r="7.2" fill="#7b4631"/><circle cx="706.8" cy="1328.7" r="7.2" fill="#7b4631"/><circle cx="563.3" cy="1286.4" r="7.2" fill="#7b4631"/><circle cx="537.7" cy="1301.1" r="7.2" fill="#7b4631"/><circle cx="557.1" cy="1300.0" r="7.2" fill="#7b4631"/><circle cx="589.2" cy="1297.9" r="7.2" fill="#7b4631"/><circle cx="548.0" cy="1318.4" r="7.2" fill="#7b4631"/><circle cx="563.2" cy="1313.3" r="7.2" fill="#7b4631"/><circle cx="580.3" cy="1316.2" r="7.2" fill="#7b4631"/><circle cx="602.5" cy="1313.9" r="7.2" fill="#7b4631"/><circle cx="357.7" cy="1301.4" r="7.2" fill="#e0b530"/><circle cx="372.3" cy="1304.3" r="7.2" fill="#e0b530"/><circle cx="390.4" cy="1304.8" r="7.2" fill="#e0b530"/><circle cx="407.6" cy="1303.4" r="7.2" fill="#e0b530"/><circle cx="349.6" cy="1321.4" r="7.2" fill="#e0b530"/><circle cx="423.4" cy="1320.3" r="7.2" fill="#e0b530"/><circle cx="340.3" cy="1336.7" r="7.2" fill="#e0b530"/><circle cx="377.6" cy="1336.6" r="7.2" fill="#e0b530"/><circle cx="390.5" cy="1332.9" r="7.2" fill="#e0b530"/><circle cx="431.2" cy="1332.4" r="7.2" fill="#e0b530"/><circle cx="335.5" cy="1346.4" r="7.2" fill="#e0b530"/><circle cx="349.9" cy="1346.2" r="7.2" fill="#e0b530"/><circle cx="370.8" cy="1346.9" r="7.2" fill="#e0b530"/><circle cx="382.0" cy="1350.6" r="7.2" fill="#e0b530"/><circle cx="400.1" cy="1346.1" r="7.2" fill="#e0b530"/><circle cx="433.6" cy="1346.7" r="7.2" fill="#e0b530"/><circle cx="344.6" cy="1364.6" r="7.2" fill="#e0b530"/><circle cx="359.9" cy="1362.0" r="7.2" fill="#e0b530"/><circle cx="373.6" cy="1366.1" r="7.2" fill="#e0b530"/><circle cx="390.2" cy="1365.7" r="7.2" fill="#e0b530"/><circle cx="408.4" cy="1363.4" r="7.2" fill="#e0b530"/><circle cx="432.7" cy="1362.2" r="7.2" fill="#e0b530"/><circle cx="353.6" cy="1378.3" r="7.2" fill="#e0b530"/><circle cx="363.8" cy="1379.4" r="7.2" fill="#e0b530"/><circle cx="385.7" cy="1382.6" r="7.2" fill="#e0b530"/><circle cx="422.9" cy="1381.1" r="7.2" fill="#e0b530"/><circle cx="358.0" cy="1399.6" r="7.2" fill="#e0b530"/><circle cx="372.4" cy="1398.1" r="7.2" fill="#e0b530"/><circle cx="393.2" cy="1393.4" r="7.2" fill="#e0b530"/><circle cx="409.8" cy="1392.4" r="7.2" fill="#e0b530"/></g>
<g transform="translate(870,1080) scale(0.14934)"><g stroke="#345f7c" stroke-linecap="round" fill="none"><path d="M115,1495 L480,1135" stroke-width="24"/><rect x="-55" y="-75" width="110" height="150" rx="20" transform="translate(540,1065) rotate(-45)" fill="#fff" stroke-width="34"/><rect x="-424" y="-134" width="848" height="268" rx="40" transform="translate(915,685) rotate(-45)" fill="#fff" stroke-width="36"/><path d="M955,680 L1020,745 M1035,600 L1100,665 M1115,520 L1180,585 M1195,435 L1260,500" stroke-width="32"/><path d="M1128,238 L1370,480 M1270,350 L1420,200 M1335,110 L1495,270" stroke-width="66"/></g><rect x="-159" y="-78" width="318" height="156" rx="18" transform="translate(751,857) rotate(-45)" fill="#2f91cc"/></g>
<g transform="translate(1320,1420) scale(0.1742)"><path d="M245,290 C150,290 110,380 120,520 C140,650 240,680 300,700 C400,740 420,850 500,930 C600,1030 700,1130 850,1190 C1000,1230 1100,1170 1200,1200 C1300,1240 1350,1360 1390,1400 C1300,1200 1250,1160 1100,1130 C900,1100 700,1080 600,980 C450,780 200,600 185,380 Z" fill="#d6eef7"/><path d="M185,140 C230,120 260,200 300,220 C450,290 650,400 760,580 C830,720 850,820 950,870 C1100,940 1250,990 1310,1100 C1370,1200 1400,1330 1390,1400 C1300,1200 1250,1160 1100,1130 C900,1100 700,1080 600,980 C450,780 200,600 185,380 C180,250 175,180 185,140 Z" fill="#abd0e2" stroke="#3d8dbb" stroke-width="8"/><path d="M245,290 C150,290 110,380 120,520 C140,650 240,680 300,700 C400,740 420,850 500,930 C600,1030 700,1130 850,1190 C1000,1230 1100,1170 1200,1200 C1300,1240 1350,1360 1400,1420 C1450,1510 1490,1530 1570,1490 C1630,1470 1670,1490 1700,1520" fill="none" stroke="#1f6fa3" stroke-width="16" stroke-linecap="round"/><circle cx="620" cy="725" r="80" fill="#7db2d2" stroke="#5a9ac4" stroke-width="6"/><circle cx="620" cy="725" r="32" fill="#1a6390"/><ellipse cx="282" cy="330" rx="22" ry="40" transform="rotate(30 282 330)" fill="#4a8fbd"/></g>
<g transform="translate(1780,200) scale(0.224)"><g fill="none" stroke="#c8407a" stroke-width="4" opacity="0.85"><path d="M140,400 C300,300 400,150 600,60 C700,20 900,40 960,35"/><path d="M160,410 C350,280 500,200 700,150 C850,100 900,60 950,40"/><path d="M990,10 C1100,80 1300,0 1480,60 C1550,120 1500,250 1560,250"/><path d="M1060,60 C1200,120 1400,60 1500,140"/><path d="M1560,260 C1700,320 1720,500 1700,700 C1680,900 1720,1100 1610,1195"/><path d="M1500,300 C1650,360 1690,560 1680,800 C1670,1000 1700,1150 1560,1200"/><path d="M220,520 C170,700 160,900 230,1040 C260,1100 300,1150 340,1180"/><path d="M190,620 C160,800 200,950 260,1060"/><path d="M130,420 C250,330 380,230 520,120 C600,60 700,30 800,40"/><path d="M1580,260 C1660,420 1640,600 1660,800 C1680,950 1700,1100 1600,1200"/></g><circle cx="130" cy="150" r="11" fill="#d9607a"/><circle cx="300" cy="125" r="13" fill="#d9607a"/><circle cx="370" cy="60" r="10" fill="#d9607a"/><circle cx="475" cy="95" r="11" fill="#d9607a"/><circle cx="570" cy="45" r="17" fill="#d9607a"/><circle cx="625" cy="100" r="10" fill="#d9607a"/><circle cx="690" cy="150" r="18" fill="#d9607a"/><circle cx="180" cy="265" r="17" fill="#d9607a"/><circle cx="310" cy="260" r="12" fill="#d9607a"/><circle cx="350" cy="200" r="10" fill="#d9607a"/><circle cx="430" cy="280" r="14" fill="#d9607a"/><circle cx="325" cy="355" r="11" fill="#d9607a"/><path d="M644.3,260.0 C643.3,267.8 646.1,280.4 645.3,288.0 C644.4,295.5 641.5,309.7 637.8,316.4 C634.1,323.1 623.6,333.0 617.6,338.1 C611.7,343.1 600.2,351.7 593.1,354.3 C585.9,357.0 571.8,356.7 564.1,357.9 C556.3,359.2 542.5,364.6 535.1,363.7 C527.6,362.9 514.4,355.9 508.2,351.4 C502.1,347.0 494.5,335.5 488.9,330.5 C483.3,325.5 470.2,319.6 466.5,313.7 C462.7,307.8 464.1,293.3 461.0,286.1 C457.9,279.0 444.9,267.5 443.1,260.0 C441.2,252.5 443.9,236.8 447.2,229.8 C450.5,222.8 462.8,213.1 468.1,207.4 C473.3,201.6 481.4,192.4 486.5,186.7 C491.7,181.1 500.0,167.9 506.7,165.1 C513.3,162.3 528.9,165.6 536.4,165.7 C544.0,165.8 556.4,165.1 563.5,166.1 C570.6,167.2 582.8,170.9 589.5,173.6 C596.2,176.3 607.7,182.1 613.9,186.3 C620.1,190.4 630.6,199.0 635.8,204.8 C641.0,210.6 651.9,222.4 653.1,229.7 C654.2,237.1 645.4,252.2 644.3,260.0Z" fill="#f5a6a8" stroke="#ee9ea2" stroke-width="4"/><path d="M591.3,265.0 C590.9,270.3 590.0,279.0 588.1,284.1 C586.3,289.3 581.7,301.2 577.3,303.7 C572.9,306.1 561.1,302.3 555.0,302.5 C548.9,302.7 536.2,307.7 531.7,305.3 C527.2,302.9 522.8,289.9 521.2,284.5 C519.5,279.2 519.4,270.4 519.2,265.0 C518.9,259.6 517.0,248.7 519.3,244.4 C521.5,240.0 531.3,234.3 536.1,232.3 C540.9,230.2 549.9,229.3 555.0,229.1 C560.1,228.9 569.8,229.0 574.6,231.0 C579.4,233.1 588.7,239.7 590.9,244.3 C593.2,248.8 591.6,259.7 591.3,265.0Z" fill="#d9767a"/><path d="M971.3,230.0 C971.3,237.2 962.7,249.1 961.3,256.8 C959.8,264.5 963.2,280.9 960.4,288.1 C957.5,295.3 946.5,306.4 939.9,310.7 C933.4,315.0 918.7,317.7 911.3,320.5 C903.9,323.3 891.9,331.0 884.6,331.6 C877.3,332.1 863.7,326.4 856.4,324.5 C849.2,322.5 836.9,319.8 830.3,316.9 C823.7,314.1 813.0,307.2 806.7,303.0 C800.5,298.9 787.1,291.9 783.3,285.7 C779.5,279.6 781.2,264.3 778.5,256.9 C775.7,249.4 762.2,237.1 762.5,230.0 C762.8,222.9 777.0,210.6 780.6,203.8 C784.3,196.9 786.2,184.5 790.0,178.6 C793.8,172.7 803.9,165.2 808.8,159.4 C813.7,153.6 820.4,138.6 826.7,135.1 C833.0,131.6 848.4,133.6 856.1,133.1 C863.7,132.6 876.9,130.3 884.2,131.5 C891.4,132.6 903.4,138.7 910.4,141.6 C917.4,144.4 931.3,148.1 936.9,152.8 C942.6,157.5 949.6,170.1 952.8,176.8 C956.1,183.5 959.0,196.0 961.5,203.1 C963.9,210.2 971.3,222.8 971.3,230.0Z" fill="#f5a6a8" stroke="#ee9ea2" stroke-width="4"/><path d="M911.5,235.0 C911.8,240.2 912.0,250.8 909.5,254.9 C907.0,259.0 897.5,263.4 892.9,266.0 C888.3,268.5 880.4,273.2 875.0,274.3 C869.6,275.4 857.5,276.4 852.4,274.1 C847.3,271.9 839.0,262.4 836.5,257.2 C834.0,252.0 833.5,241.0 833.4,235.0 C833.3,229.0 833.1,217.2 835.9,212.4 C838.6,207.6 849.1,202.4 854.3,199.2 C859.5,196.0 869.3,188.6 875.0,188.4 C880.7,188.2 892.4,193.7 896.7,197.4 C901.0,201.1 905.5,211.3 907.4,216.3 C909.4,221.3 911.3,229.8 911.5,235.0Z" fill="#d9767a"/><path d="M1134.9,240.0 C1135.1,246.8 1139.7,259.7 1138.0,265.8 C1136.2,272.0 1125.3,280.2 1121.7,286.1 C1118.1,292.0 1115.4,305.4 1110.9,310.3 C1106.5,315.3 1094.5,321.0 1088.0,323.3 C1081.6,325.6 1069.4,326.4 1062.6,327.4 C1055.8,328.4 1043.7,331.4 1037.0,330.8 C1030.2,330.1 1017.8,326.4 1012.2,322.7 C1006.7,319.0 1000.5,307.6 995.4,303.0 C990.3,298.5 978.4,293.9 973.9,288.9 C969.5,283.9 963.9,272.4 962.0,265.8 C960.1,259.3 960.2,247.0 959.7,240.0 C959.2,233.0 956.8,219.8 958.4,213.1 C960.0,206.4 966.9,194.8 971.4,189.5 C975.9,184.2 986.5,177.0 992.2,173.3 C997.9,169.6 1008.1,164.0 1014.2,161.7 C1020.3,159.4 1031.4,158.2 1038.0,156.2 C1044.5,154.2 1056.7,146.6 1063.4,146.5 C1070.2,146.4 1082.3,152.4 1088.5,155.6 C1094.7,158.9 1105.1,166.0 1110.0,170.8 C1114.8,175.6 1121.5,185.9 1125.0,191.8 C1128.5,197.6 1135.0,208.2 1136.4,214.6 C1137.7,221.1 1134.7,233.2 1134.9,240.0Z" fill="#f9c2c3" stroke="#ee9ea2" stroke-width="4"/><path d="M1095.8,245.0 C1096.0,250.1 1092.1,260.5 1089.2,264.7 C1086.2,269.0 1077.9,274.9 1073.4,276.8 C1068.8,278.8 1060.1,279.0 1055.0,279.4 C1049.9,279.7 1040.1,281.2 1035.1,279.5 C1030.1,277.8 1019.9,271.2 1017.7,266.6 C1015.4,262.0 1017.9,250.7 1018.0,245.0 C1018.2,239.3 1016.1,227.9 1018.8,224.1 C1021.6,220.4 1033.9,219.1 1038.7,216.8 C1043.6,214.5 1050.5,207.1 1055.0,206.9 C1059.5,206.7 1067.9,212.6 1072.2,215.2 C1076.6,217.8 1084.5,222.2 1087.7,226.1 C1090.8,230.1 1095.6,239.9 1095.8,245.0Z" fill="#e8a0a4"/><path d="M452.3,440.0 C452.4,447.1 443.1,459.5 440.5,466.6 C437.9,473.7 436.2,486.8 432.7,493.2 C429.3,499.5 420.6,510.6 414.5,514.5 C408.5,518.4 394.6,520.7 387.7,522.5 C380.7,524.2 369.5,525.9 362.6,527.7 C355.8,529.4 342.9,536.4 336.3,535.6 C329.6,534.7 319.2,524.5 312.9,521.2 C306.6,517.8 295.3,514.0 289.0,510.4 C282.6,506.9 269.8,500.2 265.1,494.6 C260.4,489.0 254.0,475.6 253.4,468.4 C252.8,461.1 259.3,447.1 260.8,440.0 C262.3,432.9 263.2,421.6 264.9,415.0 C266.7,408.5 271.0,397.7 273.6,390.9 C276.2,384.2 279.2,368.5 284.5,364.4 C289.8,360.3 306.5,362.1 313.5,360.2 C320.5,358.2 330.5,351.2 337.1,350.1 C343.6,349.0 356.0,350.7 362.7,351.9 C369.3,353.0 380.5,356.6 387.1,358.7 C393.7,360.9 407.3,363.6 412.4,367.9 C417.6,372.3 422.2,385.1 425.9,391.2 C429.5,397.3 436.3,407.1 439.8,413.6 C443.4,420.1 452.2,432.9 452.3,440.0Z" fill="#f5a6a8" stroke="#ee9ea2" stroke-width="4"/><path d="M390.0,445.0 C391.0,450.3 395.0,462.3 393.1,467.0 C391.2,471.7 380.6,478.7 375.6,480.6 C370.5,482.5 360.6,481.2 355.0,481.5 C349.4,481.7 338.1,484.6 333.4,482.5 C328.6,480.3 322.4,470.5 319.5,465.5 C316.5,460.5 311.2,450.5 311.2,445.0 C311.1,439.5 316.3,429.3 319.3,424.4 C322.3,419.5 329.0,411.1 333.7,408.1 C338.5,405.1 349.6,401.3 355.0,401.8 C360.4,402.3 370.0,408.6 374.0,412.1 C378.1,415.5 383.2,423.1 385.4,427.5 C387.5,431.9 389.0,439.7 390.0,445.0Z" fill="#d9767a"/><path d="M478.8,620.0 C479.5,627.1 476.0,640.6 473.5,647.5 C471.1,654.3 465.1,666.4 460.3,671.6 C455.5,676.8 443.4,682.5 437.6,686.5 C431.9,690.5 423.1,697.7 417.2,701.4 C411.3,705.1 400.3,712.3 393.5,714.2 C386.8,716.1 372.8,717.8 366.3,715.5 C359.8,713.3 350.5,701.2 344.7,697.2 C339.0,693.3 329.2,689.1 323.0,685.8 C316.7,682.6 301.2,678.4 297.7,672.9 C294.3,667.4 298.7,651.4 297.1,644.3 C295.5,637.3 286.1,626.6 285.7,620.0 C285.3,613.4 292.1,601.6 294.1,594.8 C296.1,588.0 297.9,575.5 300.8,569.1 C303.8,562.7 310.9,551.0 316.3,546.4 C321.7,541.9 334.5,537.3 341.3,535.2 C348.1,533.1 360.3,531.0 367.1,530.5 C374.0,530.0 385.8,531.0 392.7,531.5 C399.6,532.1 412.5,532.4 419.0,534.7 C425.5,537.0 436.5,544.2 441.5,549.0 C446.5,553.9 452.8,565.0 456.3,571.0 C459.8,577.0 464.8,587.7 467.8,594.2 C470.8,600.8 478.0,612.9 478.8,620.0Z" fill="#f5a6a8" stroke="#ee9ea2" stroke-width="4"/><path d="M422.4,625.0 C421.7,630.0 416.7,637.3 414.3,641.9 C411.9,646.5 408.7,657.0 404.8,659.3 C400.9,661.6 390.2,659.5 385.0,659.4 C379.8,659.2 370.0,660.4 365.8,658.3 C361.5,656.1 356.1,647.8 353.2,643.3 C350.3,638.9 343.9,629.8 344.1,625.0 C344.3,620.2 352.5,612.7 355.0,607.7 C357.5,602.6 359.0,589.0 363.0,586.8 C367.0,584.7 379.8,590.1 385.0,591.3 C390.2,592.5 397.1,594.1 401.8,595.9 C406.5,597.7 417.5,600.8 420.2,604.7 C423.0,608.6 423.2,620.0 422.4,625.0Z" fill="#d9767a"/><path d="M490.7,840.0 C490.2,847.1 481.2,859.0 479.0,866.1 C476.7,873.3 476.6,887.0 473.6,893.7 C470.7,900.5 462.8,913.0 456.7,917.0 C450.7,921.0 435.3,921.0 428.3,923.8 C421.3,926.6 411.0,937.0 404.1,938.1 C397.2,939.1 383.7,933.7 376.8,931.5 C370.0,929.4 359.0,924.6 352.7,921.8 C346.3,918.9 335.4,913.8 329.3,910.1 C323.2,906.3 310.2,899.4 306.9,893.4 C303.5,887.5 305.9,872.4 304.0,865.3 C302.1,858.1 293.0,846.9 292.6,840.0 C292.2,833.1 298.1,820.4 301.0,813.9 C303.9,807.4 310.7,797.3 314.3,791.4 C318.0,785.4 323.6,773.8 328.5,769.0 C333.4,764.2 344.8,758.1 351.3,755.2 C357.7,752.2 369.5,748.6 376.6,746.6 C383.6,744.6 396.9,740.1 404.3,740.2 C411.8,740.4 426.1,743.6 432.1,747.8 C438.1,751.9 443.6,766.4 449.5,771.3 C455.4,776.3 471.7,779.1 476.2,784.6 C480.6,790.2 480.8,805.4 482.8,812.8 C484.7,820.1 491.3,832.9 490.7,840.0Z" fill="#f9c2c3" stroke="#ee9ea2" stroke-width="4"/><path d="M434.1,845.0 C433.8,850.9 434.4,861.6 431.9,866.3 C429.4,871.0 420.1,877.5 415.2,879.9 C410.2,882.4 400.6,884.5 395.0,884.9 C389.4,885.3 377.3,885.8 373.1,883.0 C368.9,880.1 366.5,868.4 363.3,863.3 C360.1,858.2 349.8,850.1 349.4,845.0 C349.0,839.9 356.5,829.0 360.3,824.9 C364.0,820.9 372.8,817.6 377.5,814.6 C382.1,811.6 390.2,802.4 395.0,802.3 C399.8,802.1 408.1,810.6 413.3,813.3 C418.6,815.9 431.7,818.0 434.5,822.2 C437.2,826.5 434.5,839.1 434.1,845.0Z" fill="#e8a0a4"/><path d="M653.0,910.0 C654.1,916.9 655.0,931.0 651.9,937.0 C648.8,943.0 633.7,948.8 629.9,954.9 C626.0,961.0 627.2,977.3 623.1,982.8 C619.0,988.3 606.1,994.7 599.3,996.1 C592.5,997.4 578.9,991.8 571.9,992.8 C564.9,993.7 553.4,1003.0 546.6,1003.5 C539.7,1003.9 526.5,999.7 520.8,995.9 C515.1,992.0 509.6,979.1 504.0,974.6 C498.4,970.1 482.4,967.6 478.6,962.3 C474.8,957.0 476.6,941.8 475.5,934.8 C474.5,927.8 471.2,916.8 470.7,910.0 C470.2,903.2 470.0,890.7 471.5,884.0 C473.0,877.3 478.4,865.8 482.0,859.9 C485.6,853.9 493.1,843.1 498.7,839.3 C504.3,835.5 517.5,833.5 523.9,831.0 C530.4,828.6 540.8,821.8 547.2,821.1 C553.6,820.5 565.6,824.8 572.1,826.1 C578.6,827.4 589.8,828.9 596.0,831.1 C602.3,833.2 614.2,837.6 618.9,842.1 C623.5,846.6 627.2,858.9 630.6,864.7 C633.9,870.4 641.3,879.2 644.3,885.3 C647.3,891.3 652.0,903.1 653.0,910.0Z" fill="#f5a6a8" stroke="#ee9ea2" stroke-width="4"/><path d="M597.2,915.0 C596.7,920.1 597.4,928.1 595.8,932.8 C594.2,937.5 589.3,946.9 585.2,950.1 C581.1,953.2 570.5,956.5 565.0,956.7 C559.5,956.9 548.8,954.3 543.9,951.6 C538.9,948.9 529.4,941.5 527.6,936.6 C525.9,931.7 529.8,920.2 530.8,915.0 C531.7,909.8 532.6,901.9 534.6,897.5 C536.6,893.1 541.9,884.9 545.9,882.0 C550.0,879.1 560.2,875.1 565.0,875.5 C569.8,875.9 577.5,882.7 582.2,885.3 C586.8,887.8 598.1,890.8 600.1,894.7 C602.1,898.7 597.8,909.9 597.2,915.0Z" fill="#d9767a"/><path d="M491.1,1040.0 C492.1,1046.9 493.0,1059.7 492.3,1067.1 C491.6,1074.5 489.8,1089.0 486.0,1095.2 C482.2,1101.4 470.0,1109.5 463.8,1113.6 C457.6,1117.7 446.1,1123.8 439.4,1126.2 C432.6,1128.5 420.1,1130.8 413.1,1131.2 C406.2,1131.5 394.7,1128.3 387.3,1128.6 C379.8,1128.9 364.3,1135.2 357.4,1133.3 C350.5,1131.5 339.8,1120.6 335.3,1114.7 C330.7,1108.9 327.0,1095.6 323.3,1089.3 C319.6,1083.0 310.3,1073.7 307.5,1067.2 C304.6,1060.6 302.4,1047.4 301.8,1040.0 C301.2,1032.6 300.1,1018.1 302.9,1011.5 C305.7,1004.9 318.0,995.9 322.9,990.4 C327.8,985.0 334.4,974.7 339.6,970.3 C344.9,966.0 356.3,961.3 362.5,957.9 C368.7,954.5 379.4,947.1 386.3,944.6 C393.2,942.2 407.1,938.9 414.4,939.6 C421.7,940.4 435.1,946.0 440.9,950.3 C446.8,954.7 453.6,967.1 458.6,972.3 C463.6,977.6 474.8,984.0 478.3,989.7 C481.8,995.4 483.3,1008.3 485.0,1015.0 C486.7,1021.8 490.2,1033.1 491.1,1040.0Z" fill="#f5a6a8" stroke="#ee9ea2" stroke-width="4"/><path d="M445.0,1045.0 C445.6,1050.2 443.7,1060.9 441.3,1066.0 C438.9,1071.1 431.9,1081.1 427.1,1083.2 C422.2,1085.3 410.3,1082.5 405.0,1081.6 C399.7,1080.6 391.9,1078.1 387.1,1076.0 C382.2,1074.0 371.3,1070.1 368.6,1066.0 C366.0,1061.9 367.0,1050.6 366.9,1045.0 C366.9,1039.4 366.3,1029.0 368.4,1023.9 C370.6,1018.8 378.1,1008.6 383.0,1006.8 C387.8,1005.0 399.5,1009.7 405.0,1010.4 C410.5,1011.0 420.0,1009.6 424.2,1011.8 C428.3,1014.0 433.5,1022.5 436.2,1027.0 C439.0,1031.4 444.3,1039.8 445.0,1045.0Z" fill="#d9767a"/><path d="M924.1,500.0 C925.6,507.4 931.4,521.9 930.8,529.6 C930.1,537.2 924.1,551.4 919.2,557.4 C914.4,563.3 900.8,570.1 894.3,574.2 C887.7,578.2 876.8,585.0 870.1,587.7 C863.3,590.4 850.7,593.5 843.5,594.2 C836.4,594.8 823.8,593.3 816.7,592.3 C809.6,591.4 796.9,589.5 790.4,586.8 C783.8,584.1 774.2,575.9 767.6,572.0 C761.1,568.0 745.0,563.2 741.1,557.1 C737.3,551.1 739.6,534.4 738.8,526.8 C738.0,519.2 736.5,507.6 735.0,500.0 C733.4,492.4 726.8,477.6 727.5,469.9 C728.2,462.2 734.8,447.7 740.3,442.3 C745.8,436.9 762.1,433.3 768.7,429.2 C775.3,425.1 783.5,416.4 789.6,411.6 C795.8,406.8 807.4,394.5 814.7,393.3 C821.9,392.1 836.3,400.9 844.0,402.8 C851.7,404.6 865.3,404.6 872.4,407.2 C879.5,409.8 891.7,417.1 897.5,422.1 C903.3,427.1 913.2,437.8 916.1,444.7 C919.0,451.6 918.1,466.5 919.1,473.8 C920.2,481.2 922.5,492.6 924.1,500.0Z" fill="#f9c2c3" stroke="#ee9ea2" stroke-width="4"/><path d="M874.2,505.0 C874.9,510.7 877.2,523.6 874.4,527.8 C871.6,532.0 858.5,533.5 853.2,536.5 C847.9,539.6 840.0,550.5 835.0,550.7 C830.0,551.0 820.5,541.9 815.5,538.7 C810.6,535.4 801.5,530.9 797.9,526.4 C794.4,521.9 788.4,510.5 788.9,505.0 C789.3,499.5 798.1,490.6 801.3,485.5 C804.5,480.4 808.4,470.5 812.9,466.7 C817.4,462.9 829.1,457.0 835.0,457.1 C840.9,457.2 852.2,463.5 856.8,467.2 C861.5,470.9 867.4,479.9 869.7,485.0 C872.0,490.0 873.6,499.3 874.2,505.0Z" fill="#e8a0a4"/><path d="M1077.2,440.0 C1076.9,446.0 1077.5,456.6 1076.3,462.4 C1075.0,468.2 1071.4,479.0 1067.8,483.6 C1064.2,488.1 1053.7,492.7 1049.0,496.6 C1044.4,500.5 1038.2,509.0 1033.2,512.8 C1028.3,516.6 1018.2,524.0 1012.2,525.0 C1006.3,525.9 994.6,521.6 988.5,520.0 C982.4,518.4 972.4,515.2 966.7,513.0 C960.9,510.8 949.6,507.3 945.2,503.3 C940.7,499.3 935.8,488.5 933.2,482.9 C930.7,477.4 928.3,467.4 926.0,461.7 C923.7,456.0 915.5,445.7 915.7,440.0 C915.8,434.3 925.6,424.8 927.3,418.7 C929.0,412.5 926.2,399.8 928.5,394.1 C930.8,388.3 939.3,379.5 944.4,375.8 C949.5,372.2 960.6,368.7 966.5,366.7 C972.4,364.6 982.7,360.7 988.6,360.6 C994.5,360.6 1004.9,364.9 1010.6,366.3 C1016.3,367.7 1025.6,369.6 1031.5,371.0 C1037.4,372.4 1049.6,373.7 1054.7,376.9 C1059.8,380.1 1066.6,389.8 1069.8,395.2 C1072.9,400.5 1077.3,411.0 1078.3,417.0 C1079.3,423.0 1077.4,434.0 1077.2,440.0Z" fill="#f5a6a8" stroke="#ee9ea2" stroke-width="4"/><path d="M1039.2,445.0 C1039.1,448.9 1031.9,455.0 1029.9,459.4 C1027.9,463.8 1027.5,475.9 1024.1,478.2 C1020.8,480.4 1009.9,476.8 1005.0,476.4 C1000.1,476.1 991.0,477.5 987.5,475.3 C984.0,473.2 980.6,464.2 978.7,460.2 C976.7,456.2 973.4,449.4 972.8,445.0 C972.1,440.6 972.3,431.5 974.0,427.1 C975.8,422.7 981.9,414.0 986.0,412.2 C990.2,410.3 1000.4,412.4 1005.0,413.2 C1009.6,414.1 1016.9,416.2 1020.3,418.5 C1023.7,420.8 1027.8,426.8 1030.3,430.4 C1032.8,433.9 1039.2,441.1 1039.2,445.0Z" fill="#d9767a"/><path d="M1471.6,370.0 C1471.4,377.1 1461.9,389.1 1459.5,396.3 C1457.2,403.5 1458.0,418.3 1454.0,424.0 C1450.1,429.7 1435.7,434.6 1429.7,438.9 C1423.7,443.2 1415.6,453.3 1409.4,456.2 C1403.1,459.1 1390.1,459.5 1383.0,460.6 C1376.0,461.8 1363.0,466.0 1356.4,464.7 C1349.7,463.3 1339.6,453.7 1333.2,450.5 C1326.8,447.4 1314.1,444.9 1308.6,440.8 C1303.2,436.7 1295.5,426.0 1292.4,419.8 C1289.4,413.7 1288.5,401.4 1285.6,394.8 C1282.6,388.1 1271.9,377.1 1270.2,370.0 C1268.5,362.9 1269.6,347.9 1272.8,341.5 C1276.1,335.0 1290.1,327.5 1294.6,321.5 C1299.0,315.5 1301.7,301.8 1306.5,296.7 C1311.2,291.6 1323.7,285.8 1330.4,283.2 C1337.0,280.6 1349.5,278.2 1356.6,277.1 C1363.8,276.0 1376.5,274.0 1383.7,274.6 C1390.9,275.2 1404.3,277.9 1410.5,281.4 C1416.7,284.8 1425.0,295.6 1430.0,300.8 C1435.0,305.9 1444.0,314.1 1448.2,319.8 C1452.3,325.4 1458.1,336.5 1461.3,343.2 C1464.4,349.9 1471.8,362.9 1471.6,370.0Z" fill="#f5a6a8" stroke="#ee9ea2" stroke-width="4"/><path d="M1413.5,375.0 C1413.3,380.7 1413.7,391.1 1411.4,396.0 C1409.1,401.0 1401.2,409.5 1396.3,411.9 C1391.5,414.3 1380.2,414.5 1375.0,413.8 C1369.8,413.0 1361.0,409.0 1357.0,406.1 C1353.1,403.2 1348.0,396.2 1345.4,392.1 C1342.8,387.9 1337.6,379.6 1337.6,375.0 C1337.6,370.4 1342.6,361.9 1345.2,357.8 C1347.8,353.7 1353.3,347.3 1357.2,344.2 C1361.2,341.1 1370.0,335.1 1375.0,334.6 C1380.0,334.1 1389.8,338.2 1394.9,340.6 C1399.9,343.1 1410.7,348.4 1413.2,353.0 C1415.7,357.5 1413.8,369.3 1413.5,375.0Z" fill="#d9767a"/><path d="M1323.7,470.0 C1323.6,475.0 1315.5,483.4 1314.1,488.8 C1312.7,494.2 1315.5,506.0 1313.1,510.5 C1310.6,515.1 1300.4,519.9 1295.8,522.9 C1291.2,525.8 1283.4,530.3 1278.6,532.6 C1273.8,535.0 1265.2,540.2 1260.1,540.6 C1255.1,541.0 1245.6,537.0 1240.6,535.6 C1235.5,534.3 1227.1,532.3 1222.3,530.6 C1217.6,528.8 1208.6,525.5 1204.7,522.2 C1200.9,519.0 1196.8,510.5 1193.7,506.2 C1190.5,501.9 1182.7,495.1 1181.0,490.3 C1179.3,485.4 1180.5,475.3 1180.9,470.0 C1181.3,464.7 1182.5,455.5 1184.1,450.6 C1185.7,445.8 1190.3,437.7 1193.2,433.5 C1196.2,429.3 1202.6,423.4 1206.2,419.5 C1209.8,415.5 1215.5,407.2 1219.9,404.1 C1224.3,401.0 1234.1,396.5 1239.4,396.2 C1244.7,396.0 1254.2,401.4 1259.7,402.4 C1265.2,403.3 1275.9,401.1 1280.5,403.2 C1285.1,405.4 1290.4,415.0 1294.5,418.7 C1298.6,422.3 1308.7,426.3 1311.3,430.6 C1314.0,434.9 1312.7,445.8 1314.4,451.1 C1316.0,456.4 1323.7,465.0 1323.7,470.0Z" fill="#f9c2c3" stroke="#ee9ea2" stroke-width="4"/><path d="M1285.0,475.0 C1285.0,479.2 1284.6,487.9 1282.3,490.8 C1280.0,493.7 1271.2,494.5 1267.6,496.8 C1263.9,499.1 1258.7,507.2 1255.0,507.8 C1251.3,508.4 1243.3,503.8 1239.7,501.5 C1236.2,499.1 1230.7,493.9 1228.4,490.4 C1226.1,486.8 1222.2,478.9 1222.6,475.0 C1222.9,471.1 1228.5,464.7 1230.7,461.0 C1232.9,457.3 1235.7,449.5 1239.0,447.3 C1242.2,445.0 1251.1,443.4 1255.0,444.0 C1258.9,444.7 1264.5,450.3 1268.1,452.3 C1271.7,454.4 1279.8,456.4 1282.0,459.4 C1284.3,462.4 1284.9,470.8 1285.0,475.0Z" fill="#e8a0a4"/><path d="M1104.7,950.0 C1105.6,957.8 1105.4,972.7 1103.4,980.4 C1101.5,988.1 1094.4,1001.0 1090.0,1007.9 C1085.7,1014.7 1076.8,1026.0 1071.0,1031.9 C1065.1,1037.7 1053.8,1048.2 1046.4,1051.7 C1039.0,1055.2 1023.6,1058.6 1015.5,1058.1 C1007.5,1057.7 993.5,1050.6 985.9,1048.3 C978.2,1046.1 965.5,1043.9 958.3,1041.2 C951.1,1038.6 937.8,1033.5 931.7,1028.8 C925.7,1024.0 918.5,1012.0 913.2,1005.8 C907.9,999.5 894.7,989.2 891.8,981.8 C888.8,974.3 890.1,958.2 891.2,950.0 C892.2,941.8 896.7,928.0 899.8,920.6 C902.8,913.2 909.2,900.8 913.8,894.6 C918.4,888.4 928.7,879.7 934.2,874.1 C939.8,868.6 949.0,857.6 955.7,852.9 C962.3,848.2 976.2,839.2 984.0,839.0 C991.8,838.8 1006.2,849.4 1014.1,851.6 C1022.0,853.8 1036.2,852.4 1043.3,855.2 C1050.3,858.0 1060.8,867.7 1067.1,872.6 C1073.3,877.6 1085.9,885.7 1089.9,892.2 C1093.8,898.8 1094.8,913.9 1096.8,921.6 C1098.8,929.3 1103.8,942.2 1104.7,950.0Z" fill="#f5a6a8" stroke="#ee9ea2" stroke-width="4"/><path d="M1047.7,955.0 C1049.0,961.0 1051.3,974.8 1048.7,980.2 C1046.1,985.6 1034.2,993.8 1028.4,995.5 C1022.6,997.3 1011.1,993.5 1005.0,993.3 C998.9,993.0 987.1,996.3 982.6,993.9 C978.0,991.4 972.8,980.0 970.8,974.8 C968.7,969.6 967.9,960.9 966.9,955.0 C965.9,949.1 961.4,936.6 963.1,930.8 C964.8,925.0 974.1,913.9 979.7,911.2 C985.3,908.5 998.6,910.1 1005.0,910.6 C1011.4,911.1 1023.4,911.9 1028.0,915.2 C1032.5,918.5 1036.4,930.1 1039.0,935.4 C1041.6,940.7 1046.4,949.0 1047.7,955.0Z" fill="#d9767a"/><path d="M1132.5,1150.0 C1133.0,1157.8 1142.3,1172.4 1141.6,1179.8 C1140.9,1187.3 1132.6,1200.7 1127.1,1206.0 C1121.6,1211.3 1106.5,1215.0 1100.4,1219.7 C1094.4,1224.5 1088.1,1238.3 1081.9,1241.7 C1075.6,1245.0 1061.2,1243.1 1053.6,1244.8 C1046.0,1246.6 1032.6,1254.9 1024.9,1255.0 C1017.2,1255.2 1002.5,1250.4 996.1,1246.1 C989.7,1241.9 982.1,1228.7 976.6,1223.2 C971.1,1217.7 958.9,1210.9 954.5,1204.9 C950.2,1198.9 945.6,1185.5 944.1,1178.2 C942.7,1170.8 943.4,1157.5 943.5,1150.0 C943.6,1142.5 943.2,1129.2 945.1,1122.1 C946.9,1115.0 953.3,1103.2 957.3,1096.8 C961.3,1090.5 969.8,1080.7 974.9,1074.8 C979.9,1068.9 988.7,1056.1 995.5,1052.5 C1002.2,1048.8 1017.5,1046.6 1025.2,1047.4 C1032.9,1048.1 1045.8,1056.5 1053.2,1058.3 C1060.6,1060.2 1072.9,1059.8 1080.6,1061.2 C1088.2,1062.6 1104.1,1064.4 1110.4,1068.8 C1116.7,1073.1 1124.0,1086.7 1127.6,1093.7 C1131.3,1100.7 1136.9,1113.8 1137.6,1121.3 C1138.2,1128.9 1132.0,1142.2 1132.5,1150.0Z" fill="#f5a6a8" stroke="#ee9ea2" stroke-width="4"/><path d="M1082.6,1155.0 C1082.3,1160.3 1080.9,1170.1 1078.3,1174.2 C1075.7,1178.4 1067.4,1183.2 1063.0,1186.1 C1058.5,1189.0 1050.2,1195.2 1045.0,1195.9 C1039.8,1196.7 1028.5,1194.3 1023.9,1191.5 C1019.4,1188.7 1013.2,1179.7 1010.7,1174.8 C1008.2,1169.9 1005.2,1160.5 1004.9,1155.0 C1004.6,1149.5 1005.6,1138.3 1008.4,1133.9 C1011.2,1129.4 1020.9,1124.2 1025.8,1121.7 C1030.7,1119.2 1039.6,1115.5 1045.0,1115.1 C1050.4,1114.6 1061.5,1115.5 1066.3,1118.1 C1071.1,1120.6 1078.8,1129.3 1081.0,1134.2 C1083.2,1139.1 1083.0,1149.7 1082.6,1155.0Z" fill="#d9767a"/><path d="M1365.9,1200.0 C1365.3,1207.2 1361.0,1219.0 1359.8,1226.4 C1358.5,1233.8 1360.0,1249.4 1356.4,1255.5 C1352.8,1261.6 1338.7,1267.5 1332.8,1272.5 C1326.9,1277.4 1318.9,1290.0 1312.4,1292.8 C1305.8,1295.6 1291.1,1291.7 1283.4,1293.5 C1275.8,1295.3 1262.2,1306.6 1254.7,1306.6 C1247.2,1306.6 1233.7,1298.0 1227.3,1293.5 C1220.9,1289.0 1211.4,1278.8 1206.7,1273.1 C1201.9,1267.3 1196.8,1256.1 1191.7,1250.3 C1186.7,1244.5 1172.6,1236.4 1168.9,1229.7 C1165.1,1223.0 1162.6,1207.6 1163.6,1200.0 C1164.7,1192.4 1172.9,1179.3 1176.5,1172.6 C1180.2,1165.8 1188.1,1156.5 1191.2,1149.3 C1194.2,1142.2 1194.9,1124.8 1199.5,1118.6 C1204.1,1112.5 1218.3,1105.6 1225.8,1103.3 C1233.3,1101.0 1248.2,1101.1 1255.9,1101.6 C1263.5,1102.1 1275.7,1106.7 1283.3,1107.2 C1291.0,1107.7 1305.6,1103.8 1313.2,1105.4 C1320.8,1106.9 1335.3,1113.1 1340.4,1118.7 C1345.5,1124.4 1348.3,1140.5 1351.5,1147.7 C1354.6,1154.8 1362.0,1165.4 1363.9,1172.4 C1365.9,1179.4 1366.4,1192.8 1365.9,1200.0Z" fill="#f9c2c3" stroke="#ee9ea2" stroke-width="4"/><path d="M1317.2,1205.0 C1317.3,1210.3 1312.8,1220.5 1309.8,1225.1 C1306.8,1229.6 1299.4,1236.2 1294.7,1239.2 C1290.1,1242.2 1280.4,1247.3 1275.0,1247.5 C1269.6,1247.7 1258.8,1243.8 1254.4,1240.7 C1249.9,1237.6 1243.8,1229.0 1241.7,1224.2 C1239.6,1219.5 1238.7,1210.1 1238.8,1205.0 C1238.8,1199.9 1240.1,1191.3 1241.8,1185.8 C1243.5,1180.4 1247.0,1167.9 1251.4,1164.1 C1255.8,1160.3 1268.9,1157.3 1275.0,1157.7 C1281.1,1158.0 1292.6,1163.0 1297.1,1166.7 C1301.6,1170.4 1306.2,1180.3 1308.9,1185.4 C1311.6,1190.5 1317.1,1199.7 1317.2,1205.0Z" fill="#e8a0a4"/><path d="M1541.7,1000.0 C1540.9,1007.7 1529.7,1021.0 1525.9,1028.1 C1522.0,1035.2 1517.0,1047.1 1512.9,1053.3 C1508.7,1059.4 1499.5,1068.3 1494.5,1074.4 C1489.5,1080.6 1481.9,1094.7 1475.4,1099.4 C1468.9,1104.1 1454.0,1108.2 1445.8,1109.9 C1437.6,1111.6 1422.0,1113.7 1413.9,1112.1 C1405.8,1110.6 1392.4,1102.4 1385.1,1098.2 C1377.9,1094.1 1365.8,1086.4 1359.7,1081.1 C1353.6,1075.8 1343.0,1065.4 1339.0,1058.5 C1335.0,1051.6 1331.5,1037.3 1329.5,1029.5 C1327.6,1021.7 1323.5,1007.7 1324.2,1000.0 C1324.9,992.3 1331.8,979.1 1335.0,972.1 C1338.2,965.1 1345.2,954.9 1348.1,947.4 C1351.1,939.9 1352.4,922.3 1357.2,916.0 C1362.0,909.6 1376.7,903.6 1384.3,899.9 C1391.8,896.2 1405.8,889.4 1413.9,888.3 C1422.1,887.3 1437.5,890.1 1445.5,892.1 C1453.6,894.1 1467.6,898.8 1474.2,903.2 C1480.8,907.5 1488.5,920.0 1495.1,924.9 C1501.7,929.8 1518.7,933.8 1523.5,939.9 C1528.4,945.9 1528.8,962.3 1531.2,970.3 C1533.6,978.3 1542.4,992.3 1541.7,1000.0Z" fill="#f5a6a8" stroke="#ee9ea2" stroke-width="4"/><path d="M1473.1,1005.0 C1474.1,1011.0 1480.5,1025.3 1478.0,1029.8 C1475.5,1034.3 1460.1,1036.4 1454.4,1038.6 C1448.7,1040.8 1440.2,1046.3 1435.0,1046.3 C1429.8,1046.3 1420.1,1041.4 1415.7,1038.4 C1411.3,1035.5 1405.2,1028.5 1402.1,1024.0 C1399.0,1019.5 1393.5,1010.6 1392.5,1005.0 C1391.6,999.4 1392.4,987.4 1394.8,981.8 C1397.3,976.2 1405.5,966.2 1410.9,963.2 C1416.3,960.3 1428.6,959.7 1435.0,959.6 C1441.4,959.6 1454.5,959.8 1459.2,963.1 C1463.9,966.4 1468.6,979.0 1470.4,984.6 C1472.3,990.1 1472.1,999.0 1473.1,1005.0Z" fill="#d9767a"/><path d="M1555.1,760.0 C1555.5,767.5 1549.9,781.2 1547.5,788.6 C1545.1,796.1 1542.1,810.5 1537.1,816.0 C1532.2,821.5 1516.3,824.7 1510.3,829.6 C1504.4,834.6 1498.6,848.7 1492.5,853.1 C1486.4,857.5 1472.3,862.0 1464.8,862.7 C1457.2,863.5 1443.3,860.3 1435.8,858.7 C1428.3,857.1 1415.1,854.2 1408.6,850.7 C1402.1,847.2 1392.7,837.5 1387.2,832.5 C1381.6,827.5 1371.7,819.1 1367.1,813.3 C1362.5,807.4 1355.8,795.7 1352.8,788.5 C1349.7,781.4 1344.1,767.6 1344.2,760.0 C1344.2,752.4 1349.9,738.7 1352.9,731.5 C1355.9,724.3 1362.1,712.3 1366.5,706.4 C1371.0,700.4 1381.1,692.1 1386.5,686.7 C1391.8,681.2 1400.1,668.3 1406.7,665.3 C1413.4,662.2 1428.6,663.5 1436.2,663.8 C1443.7,664.2 1455.8,667.4 1463.2,668.0 C1470.7,668.6 1484.9,666.1 1491.9,668.2 C1498.9,670.4 1509.5,679.6 1515.7,684.2 C1521.9,688.9 1534.6,696.7 1538.5,703.1 C1542.5,709.5 1542.8,724.5 1545.0,732.1 C1547.2,739.7 1554.8,752.5 1555.1,760.0Z" fill="#f5a6a8" stroke="#ee9ea2" stroke-width="4"/><path d="M1501.5,765.0 C1501.2,771.0 1496.2,781.7 1492.9,786.9 C1489.7,792.0 1482.4,801.0 1477.3,803.6 C1472.3,806.3 1460.7,807.2 1455.0,806.7 C1449.3,806.2 1439.7,802.7 1434.8,800.0 C1429.8,797.3 1420.3,791.2 1417.8,786.5 C1415.3,781.8 1416.5,771.0 1416.0,765.0 C1415.5,759.0 1411.8,746.3 1414.1,741.4 C1416.5,736.5 1428.3,731.2 1433.7,728.2 C1439.2,725.2 1449.4,718.8 1455.0,718.9 C1460.6,719.0 1470.4,726.0 1475.8,729.0 C1481.1,732.1 1491.7,737.1 1495.1,741.9 C1498.5,746.6 1501.8,759.0 1501.5,765.0Z" fill="#d9767a"/><path d="M1296.3,760.0 C1294.9,766.8 1293.3,777.6 1291.7,784.0 C1290.1,790.4 1288.0,802.5 1284.5,807.9 C1281.0,813.3 1270.7,819.9 1265.7,824.3 C1260.7,828.7 1252.7,838.1 1246.8,840.6 C1241.0,843.2 1228.6,842.5 1222.0,843.6 C1215.4,844.8 1203.8,849.6 1197.1,849.5 C1190.5,849.4 1178.2,845.8 1172.2,842.7 C1166.3,839.7 1158.0,830.6 1152.5,826.4 C1146.9,822.2 1133.5,816.8 1130.5,811.1 C1127.5,805.4 1132.4,790.3 1130.1,783.5 C1127.8,776.6 1113.9,766.5 1113.2,760.0 C1112.4,753.5 1121.2,741.0 1124.6,734.9 C1127.9,728.8 1134.7,719.5 1138.4,714.0 C1142.0,708.4 1147.5,697.9 1152.1,693.2 C1156.8,688.6 1166.9,681.2 1173.1,679.1 C1179.2,677.1 1191.5,679.4 1198.2,677.9 C1204.9,676.5 1216.6,668.2 1223.2,668.0 C1229.9,667.8 1242.0,673.2 1248.2,676.3 C1254.4,679.4 1264.6,686.4 1269.8,691.0 C1275.0,695.5 1283.1,704.7 1287.4,710.3 C1291.7,715.9 1300.8,726.4 1302.0,733.0 C1303.1,739.6 1297.6,753.2 1296.3,760.0Z" fill="#f9c2c3" stroke="#ee9ea2" stroke-width="4"/><path d="M1258.0,765.0 C1258.1,769.6 1248.5,778.4 1245.1,782.4 C1241.7,786.4 1236.5,793.0 1232.5,795.3 C1228.5,797.6 1219.7,799.8 1215.0,800.0 C1210.3,800.1 1201.1,798.5 1197.0,796.2 C1192.9,793.9 1186.9,786.7 1184.5,782.6 C1182.2,778.4 1179.9,770.1 1179.2,765.0 C1178.5,759.9 1177.3,748.8 1179.6,744.6 C1181.9,740.3 1191.8,735.5 1196.5,733.0 C1201.2,730.6 1209.9,726.6 1215.0,726.2 C1220.1,725.9 1231.1,727.3 1235.1,730.2 C1239.1,733.0 1241.8,743.1 1244.9,747.7 C1248.0,752.4 1258.0,760.4 1258.0,765.0Z" fill="#e8a0a4"/><path d="M1013.0,1230.0 C1012.0,1236.7 1004.9,1248.0 1002.0,1254.1 C999.0,1260.1 994.1,1269.9 990.9,1275.5 C987.6,1281.2 981.9,1291.2 977.6,1296.5 C973.4,1301.8 965.0,1312.7 959.0,1315.4 C953.0,1318.0 939.4,1315.1 932.4,1316.3 C925.4,1317.5 913.1,1325.0 906.4,1324.6 C899.7,1324.2 888.0,1316.8 882.0,1313.3 C875.9,1309.7 866.2,1302.6 861.0,1298.1 C855.8,1293.6 846.8,1285.2 843.0,1279.5 C839.2,1273.8 834.5,1262.2 832.7,1255.6 C830.9,1249.0 830.2,1237.0 829.8,1230.0 C829.3,1223.0 827.7,1210.1 829.3,1203.4 C831.0,1196.7 837.8,1185.4 842.0,1179.9 C846.3,1174.4 855.1,1165.2 860.9,1161.8 C866.7,1158.5 879.3,1156.8 885.6,1154.6 C891.8,1152.4 901.6,1146.2 907.8,1145.1 C914.0,1143.9 925.1,1146.4 932.1,1146.2 C939.0,1145.9 952.8,1141.7 959.7,1143.2 C966.5,1144.6 978.7,1151.8 983.3,1157.0 C987.9,1162.2 990.7,1176.1 994.2,1182.3 C997.8,1188.5 1007.4,1197.2 1009.9,1203.6 C1012.4,1210.0 1014.1,1223.3 1013.0,1230.0Z" fill="#f5a6a8" stroke="#ee9ea2" stroke-width="4"/><path d="M960.5,1235.0 C960.4,1239.6 955.8,1246.7 953.9,1251.7 C952.0,1256.6 950.3,1269.5 946.4,1272.1 C942.6,1274.7 930.2,1272.1 925.0,1271.1 C919.8,1270.1 912.7,1266.8 907.8,1264.8 C902.9,1262.9 890.3,1260.2 888.2,1256.2 C886.2,1252.2 892.1,1240.5 892.3,1235.0 C892.5,1229.5 888.0,1218.9 889.9,1214.8 C891.9,1210.6 902.3,1205.6 907.0,1203.7 C911.6,1201.9 920.2,1200.6 925.0,1200.6 C929.8,1200.7 938.9,1201.7 942.9,1203.9 C947.0,1206.2 952.9,1213.4 955.3,1217.5 C957.6,1221.7 960.7,1230.4 960.5,1235.0Z" fill="#d9767a"/><path d="M1656.1,650.0 C1656.2,656.4 1644.2,667.3 1641.9,674.1 C1639.7,680.8 1642.2,695.0 1639.2,700.9 C1636.1,706.8 1624.5,713.5 1619.3,718.4 C1614.1,723.4 1606.4,735.3 1600.2,738.1 C1594.1,741.0 1580.0,739.8 1572.9,739.8 C1565.9,739.8 1553.7,739.9 1547.3,738.1 C1541.0,736.3 1531.2,729.1 1525.1,726.4 C1519.1,723.6 1507.9,720.4 1501.7,717.2 C1495.5,714.0 1483.3,707.6 1478.7,702.3 C1474.0,697.0 1467.5,684.3 1466.9,677.3 C1466.2,670.4 1473.2,657.2 1473.6,650.0 C1473.9,642.8 1467.4,629.6 1469.3,623.4 C1471.2,617.2 1483.7,609.2 1487.8,603.6 C1491.9,598.0 1495.6,585.6 1500.3,581.1 C1505.0,576.5 1516.9,571.6 1523.2,569.4 C1529.5,567.1 1541.1,565.4 1547.7,564.4 C1554.3,563.4 1565.9,561.8 1572.7,561.9 C1579.5,562.0 1592.4,562.7 1598.8,565.1 C1605.2,567.5 1615.9,575.0 1620.6,580.0 C1625.3,585.0 1631.0,596.4 1633.8,602.6 C1636.5,608.7 1638.3,619.8 1641.3,626.1 C1644.2,632.5 1656.0,643.6 1656.1,650.0Z" fill="#f5a6a8" stroke="#ee9ea2" stroke-width="4"/><path d="M1605.0,655.0 C1605.0,659.8 1599.3,669.2 1596.2,673.0 C1593.0,676.8 1585.4,680.3 1581.3,683.2 C1577.1,686.2 1569.4,695.1 1565.0,695.2 C1560.6,695.3 1552.4,686.8 1548.3,683.8 C1544.3,680.8 1536.9,676.5 1534.4,672.7 C1531.8,668.8 1529.9,660.2 1529.0,655.0 C1528.1,649.8 1524.9,637.1 1527.6,633.4 C1530.2,629.6 1543.7,628.3 1548.7,626.8 C1553.7,625.3 1560.1,623.2 1565.0,622.2 C1569.9,621.3 1581.3,617.5 1585.5,619.5 C1589.7,621.4 1593.8,632.1 1596.4,636.9 C1599.0,641.6 1605.1,650.2 1605.0,655.0Z" fill="#d9767a"/><path d="M1420.2,880.0 C1420.2,886.4 1413.3,897.1 1412.1,904.1 C1410.9,911.1 1414.1,926.1 1411.2,932.2 C1408.3,938.2 1396.0,945.4 1390.2,949.5 C1384.4,953.6 1374.1,959.6 1367.9,963.0 C1361.7,966.5 1350.4,975.3 1343.7,975.4 C1337.1,975.4 1325.1,964.5 1318.0,963.3 C1311.0,962.0 1296.8,968.1 1290.9,965.7 C1284.9,963.3 1278.1,950.2 1273.7,945.0 C1269.2,939.8 1261.0,932.1 1257.3,926.7 C1253.6,921.3 1248.9,910.9 1246.1,904.6 C1243.4,898.4 1237.7,886.9 1236.6,880.0 C1235.4,873.1 1235.5,859.6 1237.5,852.9 C1239.6,846.2 1247.1,834.9 1251.8,829.7 C1256.5,824.6 1267.1,817.5 1272.8,814.0 C1278.5,810.4 1288.9,805.7 1294.8,803.0 C1300.8,800.3 1311.3,795.0 1317.6,794.0 C1323.9,792.9 1335.6,794.4 1342.2,794.9 C1348.9,795.5 1361.2,795.8 1367.4,798.1 C1373.6,800.4 1384.5,807.1 1389.0,811.9 C1393.5,816.7 1397.9,828.5 1401.1,834.3 C1404.2,840.2 1409.8,849.7 1412.3,855.8 C1414.9,861.9 1420.3,873.6 1420.2,880.0Z" fill="#f9c2c3" stroke="#ee9ea2" stroke-width="4"/><path d="M1375.6,885.0 C1375.7,889.6 1368.2,898.3 1365.1,902.4 C1362.0,906.4 1356.5,912.9 1352.5,915.3 C1348.5,917.7 1339.8,920.1 1335.0,920.3 C1330.2,920.5 1321.0,919.0 1316.7,916.8 C1312.3,914.6 1305.3,908.1 1302.4,903.8 C1299.4,899.6 1294.5,889.8 1294.8,885.0 C1295.2,880.2 1302.3,872.5 1304.9,867.6 C1307.4,862.7 1309.8,850.9 1313.8,848.4 C1317.9,845.8 1329.7,847.7 1335.0,848.4 C1340.3,849.1 1349.3,850.8 1353.3,853.4 C1357.2,856.0 1361.7,863.6 1364.7,867.8 C1367.7,872.1 1375.6,880.4 1375.6,885.0Z" fill="#e8a0a4"/><path d="M674.7,680.0 C675.1,686.0 678.9,697.2 677.8,702.8 C676.7,708.5 669.1,717.0 666.2,722.5 C663.3,728.1 660.2,740.3 655.9,744.5 C651.6,748.7 639.8,752.1 633.8,754.1 C627.9,756.1 617.6,758.1 611.4,759.5 C605.3,760.9 593.6,766.0 587.8,764.7 C582.0,763.5 573.7,753.1 567.9,750.3 C562.2,747.5 549.3,747.5 544.7,743.8 C540.1,740.2 536.7,728.1 533.5,722.7 C530.4,717.3 523.7,708.9 521.1,703.2 C518.5,697.5 514.2,686.2 514.0,680.0 C513.8,673.8 517.1,662.2 519.5,656.4 C521.8,650.5 528.2,641.3 531.6,636.0 C535.0,630.7 540.0,619.7 545.0,616.6 C550.1,613.5 563.5,614.7 569.3,612.8 C575.1,610.8 583.0,603.9 588.7,601.7 C594.4,599.5 605.9,595.9 612.0,596.3 C618.2,596.6 629.3,601.1 634.6,604.3 C639.9,607.5 648.0,615.4 652.0,620.0 C656.0,624.6 661.3,633.6 664.4,638.6 C667.4,643.7 673.5,652.5 674.9,658.0 C676.3,663.5 674.3,674.0 674.7,680.0Z" fill="#f5a6a8" stroke="#ee9ea2" stroke-width="4"/><path d="M636.0,685.0 C635.4,689.3 632.6,696.1 630.6,699.8 C628.5,703.4 624.1,709.2 620.7,712.2 C617.3,715.1 609.2,721.9 605.0,721.8 C600.8,721.8 593.7,714.2 589.6,711.8 C585.4,709.3 575.8,706.7 573.6,703.1 C571.4,699.6 572.5,689.6 572.9,685.0 C573.2,680.4 574.4,672.6 576.3,668.4 C578.2,664.3 583.4,655.8 587.2,654.1 C591.0,652.4 600.1,656.0 605.0,655.8 C609.9,655.6 619.6,651.2 623.6,652.8 C627.6,654.3 633.6,663.3 635.2,667.6 C636.9,671.9 636.7,680.7 636.0,685.0Z" fill="#d9767a"/><path d="M1630.1,1100.0 C1629.5,1106.3 1629.9,1117.3 1628.0,1122.9 C1626.0,1128.5 1618.1,1136.3 1615.2,1141.9 C1612.2,1147.4 1610.1,1160.1 1606.0,1164.6 C1601.9,1169.1 1590.3,1173.1 1584.5,1175.4 C1578.6,1177.8 1568.0,1182.1 1561.9,1182.5 C1555.8,1182.9 1544.9,1179.4 1538.7,1178.7 C1532.4,1177.9 1520.7,1178.8 1515.0,1176.7 C1509.2,1174.6 1500.1,1167.1 1495.7,1162.7 C1491.2,1158.4 1484.0,1149.4 1481.7,1143.9 C1479.4,1138.3 1479.6,1127.0 1478.1,1121.1 C1476.6,1115.3 1472.1,1106.0 1470.6,1100.0 C1469.2,1094.0 1465.9,1081.6 1467.5,1075.8 C1469.0,1069.9 1477.9,1061.0 1482.1,1056.3 C1486.2,1051.7 1494.1,1044.8 1498.6,1040.7 C1503.2,1036.6 1510.7,1027.8 1516.1,1025.7 C1521.5,1023.7 1533.3,1025.7 1539.3,1025.3 C1545.3,1025.0 1555.0,1023.2 1561.1,1023.0 C1567.1,1022.8 1579.2,1021.7 1584.7,1024.0 C1590.2,1026.2 1598.0,1035.3 1602.1,1039.8 C1606.3,1044.3 1612.0,1052.7 1616.1,1057.5 C1620.1,1062.3 1630.7,1070.1 1632.6,1075.8 C1634.4,1081.4 1630.7,1093.7 1630.1,1100.0Z" fill="#f5a6a8" stroke="#ee9ea2" stroke-width="4"/><path d="M1591.4,1105.0 C1591.1,1109.3 1584.5,1116.8 1581.8,1120.5 C1579.0,1124.1 1574.4,1130.6 1570.8,1132.4 C1567.3,1134.2 1559.2,1134.0 1555.0,1133.9 C1550.8,1133.8 1543.8,1133.1 1539.6,1131.7 C1535.4,1130.2 1526.2,1126.6 1523.8,1123.0 C1521.5,1119.5 1521.2,1109.4 1522.0,1105.0 C1522.8,1100.6 1527.1,1093.7 1529.6,1090.3 C1532.1,1087.0 1537.3,1083.2 1540.6,1080.1 C1544.0,1077.0 1551.1,1067.1 1555.0,1067.0 C1558.9,1066.9 1565.8,1076.8 1569.6,1079.6 C1573.5,1082.5 1581.1,1084.9 1584.0,1088.2 C1586.9,1091.6 1591.7,1100.7 1591.4,1105.0Z" fill="#d9767a"/><path d="M125,1400 C450,1390 660,1220 705,990 C735,850 610,620 595,370" fill="none" stroke="#e0595d" stroke-width="104"/><path d="M810,900 C770,1020 710,1170 650,1420" fill="none" stroke="#e0595d" stroke-width="136"/><path d="M775,900 C950,700 1150,600 1225,350" fill="none" stroke="#e0595d" stroke-width="126"/><path d="M860,960 C1100,620 1400,540 1790,540" fill="none" stroke="#e0595d" stroke-width="126"/><path d="M125,1470 L1790,1470" fill="none" stroke="#e0595d" stroke-width="196"/><path d="M125,1400 C450,1390 660,1220 705,990 C735,850 610,620 595,370" fill="none" stroke="#f0b0b0" stroke-width="74"/><path d="M810,900 C770,1020 710,1170 650,1420" fill="none" stroke="#f0b0b0" stroke-width="106"/><path d="M775,900 C950,700 1150,600 1225,350" fill="none" stroke="#f0b0b0" stroke-width="96"/><path d="M860,960 C1100,620 1400,540 1790,540" fill="none" stroke="#f0b0b0" stroke-width="96"/><path d="M125,1470 L1790,1470" fill="none" stroke="#f0b0b0" stroke-width="166"/><path d="M125,1400 C450,1390 660,1220 705,990 C735,850 610,620 595,370" fill="none" stroke="#761c1f" stroke-width="58"/><path d="M810,900 C770,1020 710,1170 650,1420" fill="none" stroke="#761c1f" stroke-width="90"/><path d="M775,900 C950,700 1150,600 1225,350" fill="none" stroke="#761c1f" stroke-width="80"/><path d="M860,960 C1100,620 1400,540 1790,540" fill="none" stroke="#761c1f" stroke-width="80"/><path d="M125,1470 L1790,1470" fill="none" stroke="#761c1f" stroke-width="150"/><path d="M125,1400 C450,1390 660,1220 705,990 C715,940 740,905 790,890 L810,900 C770,1020 710,1170 650,1420 L125,1440 Z" fill="#761c1f"/><ellipse cx="630" cy="665" rx="50" ry="38" transform="rotate(-70 630 665)" fill="#d84a4e"/><ellipse cx="630" cy="665" rx="22" ry="14" transform="rotate(-70 630 665)" fill="#b83036"/><ellipse cx="1040" cy="685" rx="50" ry="38" transform="rotate(-30 1040 685)" fill="#d84a4e"/><ellipse cx="1040" cy="685" rx="22" ry="14" transform="rotate(-30 1040 685)" fill="#b83036"/><ellipse cx="755" cy="945" rx="50" ry="38" transform="rotate(20 755 945)" fill="#d84a4e"/><ellipse cx="755" cy="945" rx="22" ry="14" transform="rotate(20 755 945)" fill="#b83036"/><ellipse cx="680" cy="1160" rx="50" ry="38" transform="rotate(-20 680 1160)" fill="#d84a4e"/><ellipse cx="680" cy="1160" rx="22" ry="14" transform="rotate(-20 680 1160)" fill="#b83036"/><ellipse cx="520" cy="1420" rx="50" ry="38" transform="rotate(15 520 1420)" fill="#d84a4e"/><ellipse cx="520" cy="1420" rx="22" ry="14" transform="rotate(15 520 1420)" fill="#b83036"/><ellipse cx="1070" cy="1465" rx="50" ry="38" transform="rotate(-10 1070 1465)" fill="#d84a4e"/><ellipse cx="1070" cy="1465" rx="22" ry="14" transform="rotate(-10 1070 1465)" fill="#b83036"/><ellipse cx="1515" cy="1462" rx="50" ry="38" transform="rotate(25 1515 1462)" fill="#d84a4e"/><ellipse cx="1515" cy="1462" rx="22" ry="14" transform="rotate(25 1515 1462)" fill="#b83036"/><path d="M830,1375 C900,1340 940,1310 990,1310 C1040,1310 1080,1350 1140,1375 Z" fill="#f4d07a" stroke="#d8b050" stroke-width="3"/><ellipse cx="990" cy="1345" rx="25" ry="14" fill="#e0ae5a"/><path d="M1295,1375 C1360,1340 1410,1305 1460,1305 C1510,1305 1550,1345 1605,1375 Z" fill="#f4d07a" stroke="#d8b050" stroke-width="3"/><ellipse cx="1460" cy="1345" rx="25" ry="14" fill="#e0ae5a"/><path d="M125,1330 C170,1345 200,1365 220,1380 L125,1380 Z" fill="#f4d07a"/><ellipse cx="1065" cy="130" rx="190" ry="30" transform="rotate(15 1065 130)" fill="#cdb6a8" stroke="#a08a80" stroke-width="3"/><ellipse cx="1065" cy="130" rx="35" ry="18" transform="rotate(15 1065 130)" fill="#b09488"/><ellipse cx="685" cy="430" rx="190" ry="28" transform="rotate(80 685 430)" fill="#cdb6a8" stroke="#a08a80" stroke-width="3"/><ellipse cx="685" cy="430" rx="35" ry="18" transform="rotate(80 685 430)" fill="#b09488"/><ellipse cx="275" cy="800" rx="190" ry="28" transform="rotate(80 275 800)" fill="#cdb6a8" stroke="#a08a80" stroke-width="3"/><ellipse cx="275" cy="800" rx="35" ry="18" transform="rotate(80 275 800)" fill="#b09488"/><ellipse cx="1590" cy="725" rx="180" ry="28" transform="rotate(70 1590 725)" fill="#cdb6a8" stroke="#a08a80" stroke-width="3"/><ellipse cx="1590" cy="725" rx="35" ry="18" transform="rotate(70 1590 725)" fill="#b09488"/><ellipse cx="790" cy="1240" rx="170" ry="26" transform="rotate(-55 790 1240)" fill="#cdb6a8" stroke="#a08a80" stroke-width="3"/><ellipse cx="790" cy="1240" rx="35" ry="18" transform="rotate(-55 790 1240)" fill="#b09488"/><circle cx="1040" cy="355" r="78" fill="#8fd0f2" stroke="#6fb8e0" stroke-width="4"/><circle cx="1048" cy="355" r="52" fill="#79b3cf"/><circle cx="520" cy="750" r="78" fill="#8fd0f2" stroke="#6fb8e0" stroke-width="4"/><circle cx="528" cy="750" r="52" fill="#79b3cf"/><circle cx="1380" cy="730" r="78" fill="#8fd0f2" stroke="#6fb8e0" stroke-width="4"/><circle cx="1388" cy="730" r="52" fill="#79b3cf"/><circle cx="1125" cy="1215" r="78" fill="#8fd0f2" stroke="#6fb8e0" stroke-width="4"/><circle cx="1133" cy="1215" r="52" fill="#79b3cf"/><circle cx="500" cy="345" r="85" fill="#aecbff" stroke="#8cb4f0" stroke-width="4"/><circle cx="505" cy="340" r="55" fill="#8fb9ff"/><circle cx="1160" cy="785" r="85" fill="#aecbff" stroke="#8cb4f0" stroke-width="4"/><circle cx="1165" cy="780" r="55" fill="#8fb9ff"/><circle cx="1530" cy="880" r="85" fill="#aecbff" stroke="#8cb4f0" stroke-width="4"/><circle cx="1535" cy="875" r="55" fill="#8fb9ff"/><circle cx="980" cy="525" r="72" fill="#cadcf2" stroke="#8fb0e0" stroke-width="4"/><circle cx="970" cy="525" r="28" fill="#8eacd6"/><circle cx="1465" cy="1175" r="72" fill="#cadcf2" stroke="#8fb0e0" stroke-width="4"/><circle cx="1455" cy="1175" r="28" fill="#8eacd6"/><circle cx="1200" cy="275" r="90" fill="#aaa6e0" stroke="#9490d0" stroke-width="4"/><ellipse cx="1205" cy="285" rx="60" ry="55" fill="#9e8ed0"/><circle cx="815" cy="650" r="90" fill="#aaa6e0" stroke="#9490d0" stroke-width="4"/><ellipse cx="820" cy="660" rx="60" ry="55" fill="#9e8ed0"/><path d="M875,327 L932,329 M863,367 L897,387 M846,387 L875,422 M816,402 L830,456 M793,405 L793,438 M753,393 L729,431 M730,372 L705,391 M719,349 L667,365 M715,321 L655,319 M728,282 L700,264 M739,268 L705,234 M779,247 L770,204 M798,245 L800,200 M826,251 L841,216 M856,274 L892,243 M870,298 L907,285 " stroke="#8784c2" stroke-width="20" stroke-linecap="round"/><circle cx="795" cy="325" r="100" fill="#8784c2"/><circle cx="795" cy="325" r="45" fill="#5f5c8e"/><path d="M596,1047 L662,1059 M591,1065 L626,1080 M561,1102 L595,1150 M533,1115 L544,1159 M499,1117 L493,1172 M467,1107 L447,1142 M443,1087 L406,1118 M425,1052 L359,1068 M424,1013 L371,1003 M432,989 L393,969 M448,967 L423,942 M484,946 L471,902 M517,942 L522,878 M552,953 L578,906 M575,971 L602,947 M593,1002 L631,989 " stroke="#8784c2" stroke-width="20" stroke-linecap="round"/><circle cx="510" cy="1030" r="110" fill="#8784c2"/><circle cx="510" cy="1030" r="50" fill="#5f5c8e"/><path d="M1309,989 L1360,991 M1300,1023 L1347,1046 M1277,1051 L1298,1080 M1257,1063 L1280,1118 M1221,1069 L1219,1110 M1178,1055 L1151,1095 M1157,1034 L1117,1062 M1144,1007 L1107,1017 M1142,974 L1081,967 M1151,945 L1101,918 M1174,918 L1153,890 M1205,903 L1192,853 M1230,901 L1232,867 M1270,914 L1296,873 M1292,935 L1341,898 M1306,964 L1367,949 " stroke="#8784c2" stroke-width="20" stroke-linecap="round"/><circle cx="1225" cy="985" r="105" fill="#8784c2"/><circle cx="1225" cy="985" r="47" fill="#5f5c8e"/><path d="M495,533 L521,534 M478,572 L497,591 M445,589 L450,622 M396,576 L369,608 M376,542 L348,547 M381,504 L354,490 M407,477 L394,454 M448,471 L458,428 M487,500 L523,478 " stroke="#9a63b4" stroke-width="20" stroke-linecap="round"/><circle cx="435" cy="530" r="75" fill="#9a63b4"/><circle cx="435" cy="530" r="34" fill="#7b4aa0"/><path d="M1575,412 L1615,418 M1554,450 L1584,485 M1517,465 L1518,510 M1485,457 L1467,487 M1456,415 L1418,421 M1463,375 L1440,361 M1490,350 L1478,324 M1532,347 L1542,312 M1561,367 L1583,348 " stroke="#9a63b4" stroke-width="20" stroke-linecap="round"/><circle cx="1515" cy="405" r="75" fill="#9a63b4"/><circle cx="1515" cy="405" r="34" fill="#7b4aa0"/><path d="M958,1115 L1003,1122 M940,1151 L962,1173 M906,1168 L913,1209 M858,1157 L833,1193 M833,1122 L791,1134 M836,1080 L795,1062 M871,1046 L858,1012 M913,1044 L925,1003 M946,1066 L976,1042 " stroke="#9a63b4" stroke-width="20" stroke-linecap="round"/><circle cx="895" cy="1105" r="80" fill="#9a63b4"/><circle cx="895" cy="1105" r="36" fill="#7b4aa0"/></g>
<!--ILLUS_END-->
</g>

<!-- CIRCLES -->
<g fill="none" stroke="#1a1a1a" stroke-width="10">
<ellipse cx="1110" cy="769" rx="735" ry="645"/>
<ellipse cx="1752.5" cy="761" rx="731.5" ry="642"/>
<ellipse cx="1433.5" cy="1237" rx="746.5" ry="655"/>
</g>

<!-- TEXT -->
<g fill="#000" stroke="#000" stroke-width="0">
<text class="b" x="58.6" y="153.0" font-size="71" textLength="758.4" lengthAdjust="spacingAndGlyphs">Diagnostic &amp; Therapeutic</text>
<text class="b" x="258.0" y="227.6" font-size="71" textLength="360.0" lengthAdjust="spacingAndGlyphs">Nanobodies</text>
<text class="b" x="2147.8" y="153.2" font-size="71" textLength="583.7" lengthAdjust="spacingAndGlyphs">Tumor Myeloid Cell</text>
<text class="b" x="2253.0" y="228.6" font-size="71" textLength="374.0" lengthAdjust="spacingAndGlyphs">Immunology</text>
<text class="b" x="709.8" y="2008.0" font-size="71" textLength="1411.8" lengthAdjust="spacingAndGlyphs">Myeloid Cell Immunology of Infectious Disease</text>

<text x="976.2" y="205.0" font-size="49" textLength="209.5" lengthAdjust="spacingAndGlyphs">Nanobody</text>
<text x="1249.8" y="560.1" font-size="49" textLength="381.2" lengthAdjust="spacingAndGlyphs">Therapy &amp; Imaging</text>
<text x="418.5" y="807.0" font-size="49" textLength="432.9" lengthAdjust="spacingAndGlyphs">Camelid Heavy Chain</text>
<text x="543.7" y="859.0" font-size="49" textLength="180.9" lengthAdjust="spacingAndGlyphs">Antibody</text>
<text x="1905.9" y="621.6" font-size="49" textLength="428.7" lengthAdjust="spacingAndGlyphs">Primary &amp; Metastatic</text>
<text x="2043.0" y="674.0" font-size="49" textLength="156.7" lengthAdjust="spacingAndGlyphs">Tumors</text>
<text x="840.7" y="1074.0" font-size="49" textLength="164.3" lengthAdjust="spacingAndGlyphs">Therapy</text>
<text x="1822.8" y="1137.6" font-size="49" textLength="254.9" lengthAdjust="spacingAndGlyphs">Brain &amp; Liver</text>
<text x="1847.0" y="1189.8" font-size="49" textLength="206.5" lengthAdjust="spacingAndGlyphs">Pathology</text>
<text x="2469.2" y="1378.2" font-size="49" textLength="399.9" lengthAdjust="spacingAndGlyphs">Single-cell &amp; Spatial</text>
<text x="2604.2" y="1429.2" font-size="49" textLength="131.0" lengthAdjust="spacingAndGlyphs">Omics</text>
<text x="1272.0" y="1741.6" font-size="49" textLength="448.8" lengthAdjust="spacingAndGlyphs">Trypanosoma species</text>
</g>
<g fill="#16528c" stroke="#16528c">
<text class="b" x="1197.0" y="803.0" font-size="57" textLength="476.0" lengthAdjust="spacingAndGlyphs">(Human &amp; Mouse)</text>
<text class="b" x="1166.0" y="877.8" font-size="71" textLength="538.2" lengthAdjust="spacingAndGlyphs">Macrophages and</text>
<text class="b" x="1197.0" y="952.4" font-size="71" textLength="476.5" lengthAdjust="spacingAndGlyphs">other Myeloid &amp;</text>
<text class="b" x="1158.0" y="1028.0" font-size="71" textLength="553.7" lengthAdjust="spacingAndGlyphs">Immunoregulatory</text>
<text class="b" x="1359.0" y="1103.0" font-size="71" textLength="152.0" lengthAdjust="spacingAndGlyphs">Cells</text>
</g>
<text x="2296.4" y="2039.0" font-size="60" font-style="italic" fill="#707070" textLength="301.6" lengthAdjust="spacingAndGlyphs">Created with</text>
<text x="2614" y="2039.0" font-size="60" font-style="italic" fill="#3a82c8" textLength="366.0" lengthAdjust="spacingAndGlyphs">BioRender.com</text>
</svg>
</body></html>
